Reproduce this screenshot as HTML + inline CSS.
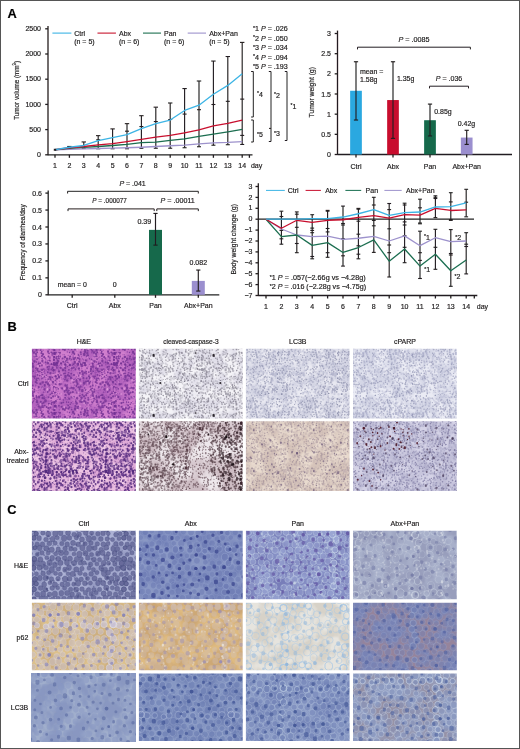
<!DOCTYPE html>
<html><head><meta charset="utf-8"><style>
html,body{margin:0;padding:0;background:#fff;}
body{width:520px;height:749px;overflow:hidden;position:relative;}
svg{position:absolute;left:0;top:0;font-family:"Liberation Sans", sans-serif;}
text{stroke:#1a1a1a;stroke-width:0.18px;}
</style></head><body>
<svg width="520" height="749" viewBox="0 0 520 749">
<defs>
<path id="ds" d="M25.9 33.6a1.2 1.2 0 1 0 2.4 0a1.2 1.2 0 1 0 -2.4 0M26.9 30.5a1.0 1.0 0 1 0 2.0 0a1.0 1.0 0 1 0 -2.0 0M10.0 30.7a1.0 1.0 0 1 0 2.1 0a1.0 1.0 0 1 0 -2.1 0M46.7 5.6a0.9 0.9 0 1 0 1.7 0a0.9 0.9 0 1 0 -1.7 0M4.4 48.6a1.1 1.1 0 1 0 2.2 0a1.1 1.1 0 1 0 -2.2 0M1.3 58.9a1.2 1.2 0 1 0 2.5 0a1.2 1.2 0 1 0 -2.5 0M1.3 -1.1a1.2 1.2 0 1 0 2.5 0a1.2 1.2 0 1 0 -2.5 0M38.4 36.9a0.8 0.8 0 1 0 1.6 0a0.8 0.8 0 1 0 -1.6 0M0.2 31.7a0.7 0.7 0 1 0 1.5 0a0.7 0.7 0 1 0 -1.5 0M10.7 14.5a0.7 0.7 0 1 0 1.4 0a0.7 0.7 0 1 0 -1.4 0M26.7 26.4a1.2 1.2 0 1 0 2.3 0a1.2 1.2 0 1 0 -2.3 0M30.2 38.4a1.0 1.0 0 1 0 1.9 0a1.0 1.0 0 1 0 -1.9 0M38.9 27.4a0.9 0.9 0 1 0 1.7 0a0.9 0.9 0 1 0 -1.7 0M58.7 59.7a1.2 1.2 0 1 0 2.3 0a1.2 1.2 0 1 0 -2.3 0M58.7 -0.3a1.2 1.2 0 1 0 2.3 0a1.2 1.2 0 1 0 -2.3 0M-1.3 59.7a1.2 1.2 0 1 0 2.3 0a1.2 1.2 0 1 0 -2.3 0M-1.3 -0.3a1.2 1.2 0 1 0 2.3 0a1.2 1.2 0 1 0 -2.3 0M41.6 18.9a0.8 0.8 0 1 0 1.7 0a0.8 0.8 0 1 0 -1.7 0M16.2 4.2a1.1 1.1 0 1 0 2.2 0a1.1 1.1 0 1 0 -2.2 0M23.1 50.8a0.9 0.9 0 1 0 1.8 0a0.9 0.9 0 1 0 -1.8 0M56.8 50.8a0.7 0.7 0 1 0 1.4 0a0.7 0.7 0 1 0 -1.4 0M11.6 54.6a1.0 1.0 0 1 0 1.9 0a1.0 1.0 0 1 0 -1.9 0M58.1 23.8a0.7 0.7 0 1 0 1.5 0a0.7 0.7 0 1 0 -1.5 0M36.9 46.7a0.8 0.8 0 1 0 1.7 0a0.8 0.8 0 1 0 -1.7 0M4.0 20.0a1.2 1.2 0 1 0 2.5 0a1.2 1.2 0 1 0 -2.5 0M44.6 7.1a0.8 0.8 0 1 0 1.7 0a0.8 0.8 0 1 0 -1.7 0M4.9 3.6a1.1 1.1 0 1 0 2.3 0a1.1 1.1 0 1 0 -2.3 0M9.7 33.6a0.9 0.9 0 1 0 1.9 0a0.9 0.9 0 1 0 -1.9 0M10.7 43.9a0.8 0.8 0 1 0 1.5 0a0.8 0.8 0 1 0 -1.5 0M37.7 7.0a0.9 0.9 0 1 0 1.9 0a0.9 0.9 0 1 0 -1.9 0M11.5 16.2a1.2 1.2 0 1 0 2.5 0a1.2 1.2 0 1 0 -2.5 0M47.0 18.2a1.2 1.2 0 1 0 2.4 0a1.2 1.2 0 1 0 -2.4 0M11.5 23.7a1.2 1.2 0 1 0 2.3 0a1.2 1.2 0 1 0 -2.3 0M19.0 17.8a0.7 0.7 0 1 0 1.5 0a0.7 0.7 0 1 0 -1.5 0M4.6 35.0a0.8 0.8 0 1 0 1.7 0a0.8 0.8 0 1 0 -1.7 0M35.1 22.3a0.9 0.9 0 1 0 1.9 0a0.9 0.9 0 1 0 -1.9 0M56.5 29.0a1.0 1.0 0 1 0 2.0 0a1.0 1.0 0 1 0 -2.0 0M51.2 11.0a0.8 0.8 0 1 0 1.6 0a0.8 0.8 0 1 0 -1.6 0M53.7 49.1a0.8 0.8 0 1 0 1.7 0a0.8 0.8 0 1 0 -1.7 0M10.6 57.0a1.2 1.2 0 1 0 2.4 0a1.2 1.2 0 1 0 -2.4 0M35.5 25.3a0.8 0.8 0 1 0 1.5 0a0.8 0.8 0 1 0 -1.5 0M41.1 15.4a1.2 1.2 0 1 0 2.3 0a1.2 1.2 0 1 0 -2.3 0M35.0 17.6a0.8 0.8 0 1 0 1.6 0a0.8 0.8 0 1 0 -1.6 0M42.4 4.1a0.8 0.8 0 1 0 1.7 0a0.8 0.8 0 1 0 -1.7 0M32.5 51.1a1.0 1.0 0 1 0 2.1 0a1.0 1.0 0 1 0 -2.1 0M16.0 55.0a0.8 0.8 0 1 0 1.6 0a0.8 0.8 0 1 0 -1.6 0M0.0 16.2a0.9 0.9 0 1 0 1.9 0a0.9 0.9 0 1 0 -1.9 0M2.7 10.6a0.9 0.9 0 1 0 1.8 0a0.9 0.9 0 1 0 -1.8 0M33.4 7.9a0.9 0.9 0 1 0 1.8 0a0.9 0.9 0 1 0 -1.8 0M52.4 58.8a1.1 1.1 0 1 0 2.1 0a1.1 1.1 0 1 0 -2.1 0M40.7 35.1a0.8 0.8 0 1 0 1.6 0a0.8 0.8 0 1 0 -1.6 0M0.9 1.1a1.2 1.2 0 1 0 2.4 0a1.2 1.2 0 1 0 -2.4 0M0.9 61.1a1.2 1.2 0 1 0 2.4 0a1.2 1.2 0 1 0 -2.4 0M41.3 57.8a0.7 0.7 0 1 0 1.4 0a0.7 0.7 0 1 0 -1.4 0M37.1 28.9a1.1 1.1 0 1 0 2.2 0a1.1 1.1 0 1 0 -2.2 0M18.4 60.0a0.7 0.7 0 1 0 1.5 0a0.7 0.7 0 1 0 -1.5 0M18.4 -0.0a0.7 0.7 0 1 0 1.5 0a0.7 0.7 0 1 0 -1.5 0M31.6 44.2a1.2 1.2 0 1 0 2.4 0a1.2 1.2 0 1 0 -2.4 0M43.1 42.2a1.1 1.1 0 1 0 2.3 0a1.1 1.1 0 1 0 -2.3 0M53.8 21.1a1.1 1.1 0 1 0 2.2 0a1.1 1.1 0 1 0 -2.2 0M53.1 52.3a0.9 0.9 0 1 0 1.9 0a0.9 0.9 0 1 0 -1.9 0M46.4 51.8a1.0 1.0 0 1 0 2.0 0a1.0 1.0 0 1 0 -2.0 0M35.5 4.8a1.1 1.1 0 1 0 2.1 0a1.1 1.1 0 1 0 -2.1 0M58.5 52.8a1.1 1.1 0 1 0 2.2 0a1.1 1.1 0 1 0 -2.2 0M-1.5 52.8a1.1 1.1 0 1 0 2.2 0a1.1 1.1 0 1 0 -2.2 0M22.3 44.1a1.0 1.0 0 1 0 2.0 0a1.0 1.0 0 1 0 -2.0 0M25.7 50.3a0.7 0.7 0 1 0 1.5 0a0.7 0.7 0 1 0 -1.5 0M44.0 1.8a1.0 1.0 0 1 0 2.1 0a1.0 1.0 0 1 0 -2.1 0M27.8 13.8a1.1 1.1 0 1 0 2.2 0a1.1 1.1 0 1 0 -2.2 0M28.6 36.9a1.2 1.2 0 1 0 2.4 0a1.2 1.2 0 1 0 -2.4 0M14.5 0.7a0.9 0.9 0 1 0 1.7 0a0.9 0.9 0 1 0 -1.7 0M14.5 60.7a0.9 0.9 0 1 0 1.7 0a0.9 0.9 0 1 0 -1.7 0M39.9 12.2a0.8 0.8 0 1 0 1.6 0a0.8 0.8 0 1 0 -1.6 0M53.4 39.6a0.9 0.9 0 1 0 1.9 0a0.9 0.9 0 1 0 -1.9 0M52.4 19.6a1.1 1.1 0 1 0 2.1 0a1.1 1.1 0 1 0 -2.1 0M10.8 25.9a1.1 1.1 0 1 0 2.3 0a1.1 1.1 0 1 0 -2.3 0M34.2 19.0a0.8 0.8 0 1 0 1.5 0a0.8 0.8 0 1 0 -1.5 0M28.6 50.2a1.2 1.2 0 1 0 2.3 0a1.2 1.2 0 1 0 -2.3 0M9.3 27.0a0.9 0.9 0 1 0 1.7 0a0.9 0.9 0 1 0 -1.7 0M28.5 18.9a1.2 1.2 0 1 0 2.3 0a1.2 1.2 0 1 0 -2.3 0M58.2 27.1a0.7 0.7 0 1 0 1.5 0a0.7 0.7 0 1 0 -1.5 0M1.2 52.4a0.7 0.7 0 1 0 1.4 0a0.7 0.7 0 1 0 -1.4 0M46.7 1.1a0.8 0.8 0 1 0 1.5 0a0.8 0.8 0 1 0 -1.5 0M26.1 1.5a1.2 1.2 0 1 0 2.3 0a1.2 1.2 0 1 0 -2.3 0M13.5 8.5a0.7 0.7 0 1 0 1.5 0a0.7 0.7 0 1 0 -1.5 0M36.7 26.8a1.0 1.0 0 1 0 2.1 0a1.0 1.0 0 1 0 -2.1 0M38.1 48.4a1.2 1.2 0 1 0 2.5 0a1.2 1.2 0 1 0 -2.5 0M9.8 0.6a1.0 1.0 0 1 0 1.9 0a1.0 1.0 0 1 0 -1.9 0M9.8 60.6a1.0 1.0 0 1 0 1.9 0a1.0 1.0 0 1 0 -1.9 0M42.0 10.7a0.8 0.8 0 1 0 1.7 0a0.8 0.8 0 1 0 -1.7 0M19.8 41.8a1.0 1.0 0 1 0 2.0 0a1.0 1.0 0 1 0 -2.0 0M36.0 45.4a0.9 0.9 0 1 0 1.8 0a0.9 0.9 0 1 0 -1.8 0M46.8 54.4a0.7 0.7 0 1 0 1.5 0a0.7 0.7 0 1 0 -1.5 0M55.2 43.3a0.8 0.8 0 1 0 1.5 0a0.8 0.8 0 1 0 -1.5 0M26.0 37.5a1.2 1.2 0 1 0 2.4 0a1.2 1.2 0 1 0 -2.4 0M21.4 34.1a1.2 1.2 0 1 0 2.4 0a1.2 1.2 0 1 0 -2.4 0M46.9 56.7a1.0 1.0 0 1 0 1.9 0a1.0 1.0 0 1 0 -1.9 0M38.0 12.3a1.1 1.1 0 1 0 2.2 0a1.1 1.1 0 1 0 -2.2 0M48.0 38.5a1.1 1.1 0 1 0 2.2 0a1.1 1.1 0 1 0 -2.2 0M57.5 32.2a1.1 1.1 0 1 0 2.3 0a1.1 1.1 0 1 0 -2.3 0M18.1 54.6a1.2 1.2 0 1 0 2.3 0a1.2 1.2 0 1 0 -2.3 0M20.0 5.0a0.9 0.9 0 1 0 1.9 0a0.9 0.9 0 1 0 -1.9 0M32.1 46.1a1.0 1.0 0 1 0 1.9 0a1.0 1.0 0 1 0 -1.9 0M1.0 48.5a0.7 0.7 0 1 0 1.5 0a0.7 0.7 0 1 0 -1.5 0M47.1 10.4a0.9 0.9 0 1 0 1.8 0a0.9 0.9 0 1 0 -1.8 0M46.5 8.4a0.8 0.8 0 1 0 1.6 0a0.8 0.8 0 1 0 -1.6 0M56.1 5.2a0.8 0.8 0 1 0 1.6 0a0.8 0.8 0 1 0 -1.6 0M30.5 17.4a1.1 1.1 0 1 0 2.2 0a1.1 1.1 0 1 0 -2.2 0M37.2 31.4a1.2 1.2 0 1 0 2.3 0a1.2 1.2 0 1 0 -2.3 0M49.9 54.0a0.8 0.8 0 1 0 1.6 0a0.8 0.8 0 1 0 -1.6 0M50.1 58.1a1.0 1.0 0 1 0 2.0 0a1.0 1.0 0 1 0 -2.0 0M33.4 12.1a1.0 1.0 0 1 0 2.0 0a1.0 1.0 0 1 0 -2.0 0M47.1 33.8a1.0 1.0 0 1 0 1.9 0a1.0 1.0 0 1 0 -1.9 0M40.5 4.0a1.0 1.0 0 1 0 2.0 0a1.0 1.0 0 1 0 -2.0 0M23.6 57.4a1.2 1.2 0 1 0 2.4 0a1.2 1.2 0 1 0 -2.4 0M15.4 28.4a0.8 0.8 0 1 0 1.5 0a0.8 0.8 0 1 0 -1.5 0M36.3 55.5a0.8 0.8 0 1 0 1.5 0a0.8 0.8 0 1 0 -1.5 0M12.8 41.2a0.9 0.9 0 1 0 1.8 0a0.9 0.9 0 1 0 -1.8 0M20.6 37.2a0.8 0.8 0 1 0 1.5 0a0.8 0.8 0 1 0 -1.5 0M42.9 7.4a1.0 1.0 0 1 0 2.0 0a1.0 1.0 0 1 0 -2.0 0M14.0 11.9a1.0 1.0 0 1 0 2.0 0a1.0 1.0 0 1 0 -2.0 0M25.3 22.5a0.9 0.9 0 1 0 1.9 0a0.9 0.9 0 1 0 -1.9 0M30.9 9.6a0.8 0.8 0 1 0 1.6 0a0.8 0.8 0 1 0 -1.6 0M36.9 38.3a1.0 1.0 0 1 0 2.0 0a1.0 1.0 0 1 0 -2.0 0M49.9 36.7a1.2 1.2 0 1 0 2.3 0a1.2 1.2 0 1 0 -2.3 0M12.8 44.4a1.1 1.1 0 1 0 2.3 0a1.1 1.1 0 1 0 -2.3 0M54.1 13.1a1.2 1.2 0 1 0 2.5 0a1.2 1.2 0 1 0 -2.5 0M52.4 8.0a0.8 0.8 0 1 0 1.7 0a0.8 0.8 0 1 0 -1.7 0M48.8 25.3a1.1 1.1 0 1 0 2.3 0a1.1 1.1 0 1 0 -2.3 0M6.5 24.2a1.1 1.1 0 1 0 2.2 0a1.1 1.1 0 1 0 -2.2 0M-0.0 12.1a1.1 1.1 0 1 0 2.2 0a1.1 1.1 0 1 0 -2.2 0M60.0 12.1a1.1 1.1 0 1 0 2.2 0a1.1 1.1 0 1 0 -2.2 0M29.4 45.5a1.0 1.0 0 1 0 2.0 0a1.0 1.0 0 1 0 -2.0 0M30.1 34.1a0.8 0.8 0 1 0 1.6 0a0.8 0.8 0 1 0 -1.6 0M9.9 12.2a1.2 1.2 0 1 0 2.3 0a1.2 1.2 0 1 0 -2.3 0M58.7 55.6a0.8 0.8 0 1 0 1.5 0a0.8 0.8 0 1 0 -1.5 0M-1.3 55.6a0.8 0.8 0 1 0 1.5 0a0.8 0.8 0 1 0 -1.5 0M2.8 57.1a1.0 1.0 0 1 0 1.9 0a1.0 1.0 0 1 0 -1.9 0M44.9 19.6a1.0 1.0 0 1 0 1.9 0a1.0 1.0 0 1 0 -1.9 0M29.9 25.8a1.0 1.0 0 1 0 2.1 0a1.0 1.0 0 1 0 -2.1 0M-0.4 42.1a1.2 1.2 0 1 0 2.3 0a1.2 1.2 0 1 0 -2.3 0M59.6 42.1a1.2 1.2 0 1 0 2.3 0a1.2 1.2 0 1 0 -2.3 0M23.5 11.7a0.8 0.8 0 1 0 1.6 0a0.8 0.8 0 1 0 -1.6 0M29.6 0.9a1.2 1.2 0 1 0 2.4 0a1.2 1.2 0 1 0 -2.4 0M29.6 60.9a1.2 1.2 0 1 0 2.4 0a1.2 1.2 0 1 0 -2.4 0M46.9 42.3a1.2 1.2 0 1 0 2.3 0a1.2 1.2 0 1 0 -2.3 0M36.7 24.3a1.0 1.0 0 1 0 2.1 0a1.0 1.0 0 1 0 -2.1 0M29.1 59.0a1.1 1.1 0 1 0 2.3 0a1.1 1.1 0 1 0 -2.3 0M29.1 -1.0a1.1 1.1 0 1 0 2.3 0a1.1 1.1 0 1 0 -2.3 0M45.8 48.9a0.9 0.9 0 1 0 1.8 0a0.9 0.9 0 1 0 -1.8 0M45.1 45.9a0.9 0.9 0 1 0 1.8 0a0.9 0.9 0 1 0 -1.8 0M55.8 40.0a0.9 0.9 0 1 0 1.8 0a0.9 0.9 0 1 0 -1.8 0M38.6 34.2a1.0 1.0 0 1 0 2.0 0a1.0 1.0 0 1 0 -2.0 0M22.3 60.0a1.1 1.1 0 1 0 2.1 0a1.1 1.1 0 1 0 -2.1 0M22.3 -0.0a1.1 1.1 0 1 0 2.1 0a1.1 1.1 0 1 0 -2.1 0M40.8 45.7a1.2 1.2 0 1 0 2.5 0a1.2 1.2 0 1 0 -2.5 0M0.3 36.9a1.1 1.1 0 1 0 2.2 0a1.1 1.1 0 1 0 -2.2 0M14.7 24.1a0.7 0.7 0 1 0 1.5 0a0.7 0.7 0 1 0 -1.5 0M14.1 54.3a1.0 1.0 0 1 0 2.0 0a1.0 1.0 0 1 0 -2.0 0M58.6 38.3a1.1 1.1 0 1 0 2.3 0a1.1 1.1 0 1 0 -2.3 0M-1.4 38.3a1.1 1.1 0 1 0 2.3 0a1.1 1.1 0 1 0 -2.3 0M1.9 55.8a0.8 0.8 0 1 0 1.6 0a0.8 0.8 0 1 0 -1.6 0M27.3 10.1a1.0 1.0 0 1 0 1.9 0a1.0 1.0 0 1 0 -1.9 0M24.2 31.6a1.0 1.0 0 1 0 2.1 0a1.0 1.0 0 1 0 -2.1 0M20.9 17.1a1.1 1.1 0 1 0 2.1 0a1.1 1.1 0 1 0 -2.1 0M32.5 17.0a1.1 1.1 0 1 0 2.2 0a1.1 1.1 0 1 0 -2.2 0M16.9 0.8a0.8 0.8 0 1 0 1.7 0a0.8 0.8 0 1 0 -1.7 0M22.3 53.9a1.1 1.1 0 1 0 2.2 0a1.1 1.1 0 1 0 -2.2 0M3.5 54.3a0.9 0.9 0 1 0 1.9 0a0.9 0.9 0 1 0 -1.9 0M27.8 58.4a0.8 0.8 0 1 0 1.7 0a0.8 0.8 0 1 0 -1.7 0M30.3 56.2a1.1 1.1 0 1 0 2.2 0a1.1 1.1 0 1 0 -2.2 0M35.2 6.9a1.0 1.0 0 1 0 2.1 0a1.0 1.0 0 1 0 -2.1 0M26.6 12.2a0.7 0.7 0 1 0 1.5 0a0.7 0.7 0 1 0 -1.5 0M30.7 7.5a0.9 0.9 0 1 0 1.9 0a0.9 0.9 0 1 0 -1.9 0M43.3 14.3a0.8 0.8 0 1 0 1.5 0a0.8 0.8 0 1 0 -1.5 0M52.5 47.1a1.0 1.0 0 1 0 2.1 0a1.0 1.0 0 1 0 -2.1 0M32.8 35.5a1.0 1.0 0 1 0 2.1 0a1.0 1.0 0 1 0 -2.1 0M44.4 11.4a0.8 0.8 0 1 0 1.7 0a0.8 0.8 0 1 0 -1.7 0M1.5 3.6a0.8 0.8 0 1 0 1.7 0a0.8 0.8 0 1 0 -1.7 0M24.8 37.4a0.8 0.8 0 1 0 1.5 0a0.8 0.8 0 1 0 -1.5 0M31.8 4.3a0.7 0.7 0 1 0 1.5 0a0.7 0.7 0 1 0 -1.5 0M21.6 28.7a0.8 0.8 0 1 0 1.6 0a0.8 0.8 0 1 0 -1.6 0M19.5 44.7a1.2 1.2 0 1 0 2.3 0a1.2 1.2 0 1 0 -2.3 0M3.3 7.2a1.1 1.1 0 1 0 2.3 0a1.1 1.1 0 1 0 -2.3 0M24.3 15.5a1.1 1.1 0 1 0 2.3 0a1.1 1.1 0 1 0 -2.3 0M20.9 39.2a1.2 1.2 0 1 0 2.5 0a1.2 1.2 0 1 0 -2.5 0M18.4 32.9a1.1 1.1 0 1 0 2.2 0a1.1 1.1 0 1 0 -2.2 0M54.3 25.7a0.9 0.9 0 1 0 1.8 0a0.9 0.9 0 1 0 -1.8 0M5.1 52.5a0.7 0.7 0 1 0 1.5 0a0.7 0.7 0 1 0 -1.5 0M40.0 17.9a1.1 1.1 0 1 0 2.3 0a1.1 1.1 0 1 0 -2.3 0M3.5 12.8a1.1 1.1 0 1 0 2.1 0a1.1 1.1 0 1 0 -2.1 0M6.0 42.6a1.0 1.0 0 1 0 2.0 0a1.0 1.0 0 1 0 -2.0 0M53.9 56.4a1.2 1.2 0 1 0 2.4 0a1.2 1.2 0 1 0 -2.4 0M25.4 48.2a0.9 0.9 0 1 0 1.7 0a0.9 0.9 0 1 0 -1.7 0M17.8 24.0a1.2 1.2 0 1 0 2.4 0a1.2 1.2 0 1 0 -2.4 0M52.8 14.9a0.9 0.9 0 1 0 1.8 0a0.9 0.9 0 1 0 -1.8 0M21.0 21.8a0.9 0.9 0 1 0 1.8 0a0.9 0.9 0 1 0 -1.8 0M52.1 16.9a0.7 0.7 0 1 0 1.4 0a0.7 0.7 0 1 0 -1.4 0M2.7 32.8a1.1 1.1 0 1 0 2.3 0a1.1 1.1 0 1 0 -2.3 0M52.9 5.1a1.0 1.0 0 1 0 2.1 0a1.0 1.0 0 1 0 -2.1 0M7.6 44.7a1.1 1.1 0 1 0 2.1 0a1.1 1.1 0 1 0 -2.1 0M19.2 58.1a1.1 1.1 0 1 0 2.1 0a1.1 1.1 0 1 0 -2.1 0M28.5 32.2a1.1 1.1 0 1 0 2.2 0a1.1 1.1 0 1 0 -2.2 0M41.6 54.9a0.9 0.9 0 1 0 1.9 0a0.9 0.9 0 1 0 -1.9 0M47.2 50.0a1.2 1.2 0 1 0 2.4 0a1.2 1.2 0 1 0 -2.4 0M56.5 38.4a1.0 1.0 0 1 0 2.0 0a1.0 1.0 0 1 0 -2.0 0M41.7 48.1a0.9 0.9 0 1 0 1.9 0a0.9 0.9 0 1 0 -1.9 0M24.1 8.8a1.1 1.1 0 1 0 2.2 0a1.1 1.1 0 1 0 -2.2 0M58.7 22.5a0.8 0.8 0 1 0 1.6 0a0.8 0.8 0 1 0 -1.6 0M-1.3 22.5a0.8 0.8 0 1 0 1.6 0a0.8 0.8 0 1 0 -1.6 0M57.3 3.6a0.9 0.9 0 1 0 1.7 0a0.9 0.9 0 1 0 -1.7 0M5.8 38.9a1.1 1.1 0 1 0 2.3 0a1.1 1.1 0 1 0 -2.3 0M9.8 3.7a1.0 1.0 0 1 0 1.9 0a1.0 1.0 0 1 0 -1.9 0M34.3 54.6a0.7 0.7 0 1 0 1.4 0a0.7 0.7 0 1 0 -1.4 0M5.7 11.1a0.8 0.8 0 1 0 1.6 0a0.8 0.8 0 1 0 -1.6 0M12.6 11.1a0.9 0.9 0 1 0 1.7 0a0.9 0.9 0 1 0 -1.7 0M9.5 45.5a0.9 0.9 0 1 0 1.7 0a0.9 0.9 0 1 0 -1.7 0M31.9 49.0a1.0 1.0 0 1 0 1.9 0a1.0 1.0 0 1 0 -1.9 0M55.9 48.1a0.9 0.9 0 1 0 1.8 0a0.9 0.9 0 1 0 -1.8 0M30.8 30.9a0.9 0.9 0 1 0 1.7 0a0.9 0.9 0 1 0 -1.7 0M-0.3 28.4a0.9 0.9 0 1 0 1.8 0a0.9 0.9 0 1 0 -1.8 0M59.7 28.4a0.9 0.9 0 1 0 1.8 0a0.9 0.9 0 1 0 -1.8 0M8.6 9.4a0.9 0.9 0 1 0 1.8 0a0.9 0.9 0 1 0 -1.8 0M14.6 52.2a1.0 1.0 0 1 0 2.0 0a1.0 1.0 0 1 0 -2.0 0M37.4 59.6a0.8 0.8 0 1 0 1.7 0a0.8 0.8 0 1 0 -1.7 0M37.4 -0.4a0.8 0.8 0 1 0 1.7 0a0.8 0.8 0 1 0 -1.7 0M-1.1 49.3a1.2 1.2 0 1 0 2.3 0a1.2 1.2 0 1 0 -2.3 0M58.9 49.3a1.2 1.2 0 1 0 2.3 0a1.2 1.2 0 1 0 -2.3 0M48.5 4.9a0.8 0.8 0 1 0 1.7 0a0.8 0.8 0 1 0 -1.7 0M42.0 5.8a1.0 1.0 0 1 0 1.9 0a1.0 1.0 0 1 0 -1.9 0M50.3 18.2a1.1 1.1 0 1 0 2.3 0a1.1 1.1 0 1 0 -2.3 0M24.3 55.0a0.8 0.8 0 1 0 1.5 0a0.8 0.8 0 1 0 -1.5 0M48.6 12.5a1.0 1.0 0 1 0 2.0 0a1.0 1.0 0 1 0 -2.0 0M17.9 18.6a0.7 0.7 0 1 0 1.5 0a0.7 0.7 0 1 0 -1.5 0M17.2 28.0a1.1 1.1 0 1 0 2.2 0a1.1 1.1 0 1 0 -2.2 0M21.8 42.6a0.8 0.8 0 1 0 1.7 0a0.8 0.8 0 1 0 -1.7 0M33.1 27.5a0.7 0.7 0 1 0 1.4 0a0.7 0.7 0 1 0 -1.4 0M55.6 33.8a1.1 1.1 0 1 0 2.2 0a1.1 1.1 0 1 0 -2.2 0M19.1 49.6a0.8 0.8 0 1 0 1.5 0a0.8 0.8 0 1 0 -1.5 0M7.4 5.7a1.1 1.1 0 1 0 2.1 0a1.1 1.1 0 1 0 -2.1 0M23.2 4.4a1.2 1.2 0 1 0 2.4 0a1.2 1.2 0 1 0 -2.4 0M46.3 39.6a1.0 1.0 0 1 0 2.1 0a1.0 1.0 0 1 0 -2.1 0M0.2 19.9a0.9 0.9 0 1 0 1.8 0a0.9 0.9 0 1 0 -1.8 0M29.4 47.3a1.2 1.2 0 1 0 2.3 0a1.2 1.2 0 1 0 -2.3 0M35.6 9.5a1.1 1.1 0 1 0 2.2 0a1.1 1.1 0 1 0 -2.2 0M53.3 32.9a0.9 0.9 0 1 0 1.8 0a0.9 0.9 0 1 0 -1.8 0M28.9 8.5a1.1 1.1 0 1 0 2.2 0a1.1 1.1 0 1 0 -2.2 0M13.6 34.6a1.1 1.1 0 1 0 2.2 0a1.1 1.1 0 1 0 -2.2 0M26.5 7.4a1.2 1.2 0 1 0 2.5 0a1.2 1.2 0 1 0 -2.5 0M7.1 54.2a1.0 1.0 0 1 0 2.0 0a1.0 1.0 0 1 0 -2.0 0M32.8 33.6a0.8 0.8 0 1 0 1.7 0a0.8 0.8 0 1 0 -1.7 0M43.2 22.9a1.0 1.0 0 1 0 2.1 0a1.0 1.0 0 1 0 -2.1 0M37.4 2.3a1.1 1.1 0 1 0 2.1 0a1.1 1.1 0 1 0 -2.1 0M7.7 57.6a1.0 1.0 0 1 0 2.1 0a1.0 1.0 0 1 0 -2.1 0M18.1 3.3a1.1 1.1 0 1 0 2.2 0a1.1 1.1 0 1 0 -2.2 0M53.0 43.9a1.0 1.0 0 1 0 2.1 0a1.0 1.0 0 1 0 -2.1 0M29.4 23.8a0.7 0.7 0 1 0 1.5 0a0.7 0.7 0 1 0 -1.5 0M40.9 31.6a0.8 0.8 0 1 0 1.7 0a0.8 0.8 0 1 0 -1.7 0M39.0 52.0a0.9 0.9 0 1 0 1.9 0a0.9 0.9 0 1 0 -1.9 0M56.2 0.0a0.8 0.8 0 1 0 1.7 0a0.8 0.8 0 1 0 -1.7 0M56.2 60.0a0.8 0.8 0 1 0 1.7 0a0.8 0.8 0 1 0 -1.7 0M1.0 53.9a0.9 0.9 0 1 0 1.7 0a0.9 0.9 0 1 0 -1.7 0M54.6 53.8a0.8 0.8 0 1 0 1.6 0a0.8 0.8 0 1 0 -1.6 0M49.3 21.2a1.0 1.0 0 1 0 1.9 0a1.0 1.0 0 1 0 -1.9 0M9.1 52.8a1.2 1.2 0 1 0 2.5 0a1.2 1.2 0 1 0 -2.5 0M11.3 37.9a0.8 0.8 0 1 0 1.6 0a0.8 0.8 0 1 0 -1.6 0M52.1 3.0a0.8 0.8 0 1 0 1.5 0a0.8 0.8 0 1 0 -1.5 0M51.4 42.8a0.8 0.8 0 1 0 1.5 0a0.8 0.8 0 1 0 -1.5 0M34.5 13.7a0.9 0.9 0 1 0 1.7 0a0.9 0.9 0 1 0 -1.7 0M14.3 48.2a0.7 0.7 0 1 0 1.5 0a0.7 0.7 0 1 0 -1.5 0M16.3 45.3a0.8 0.8 0 1 0 1.7 0a0.8 0.8 0 1 0 -1.7 0M15.9 32.9a0.8 0.8 0 1 0 1.6 0a0.8 0.8 0 1 0 -1.6 0M26.8 45.0a0.9 0.9 0 1 0 1.8 0a0.9 0.9 0 1 0 -1.8 0M55.0 30.0a0.8 0.8 0 1 0 1.6 0a0.8 0.8 0 1 0 -1.6 0M32.5 38.7a0.9 0.9 0 1 0 1.8 0a0.9 0.9 0 1 0 -1.8 0M13.0 26.4a1.1 1.1 0 1 0 2.3 0a1.1 1.1 0 1 0 -2.3 0M46.4 47.5a0.8 0.8 0 1 0 1.7 0a0.8 0.8 0 1 0 -1.7 0M10.1 9.1a0.7 0.7 0 1 0 1.4 0a0.7 0.7 0 1 0 -1.4 0M46.7 14.3a0.8 0.8 0 1 0 1.6 0a0.8 0.8 0 1 0 -1.6 0M9.5 15.3a0.8 0.8 0 1 0 1.6 0a0.8 0.8 0 1 0 -1.6 0M40.3 49.9a1.1 1.1 0 1 0 2.3 0a1.1 1.1 0 1 0 -2.3 0M2.8 24.6a0.9 0.9 0 1 0 1.8 0a0.9 0.9 0 1 0 -1.8 0M12.3 58.2a0.7 0.7 0 1 0 1.4 0a0.7 0.7 0 1 0 -1.4 0M1.2 14.4a1.2 1.2 0 1 0 2.4 0a1.2 1.2 0 1 0 -2.4 0M58.7 45.8a1.1 1.1 0 1 0 2.2 0a1.1 1.1 0 1 0 -2.2 0M-1.3 45.8a1.1 1.1 0 1 0 2.2 0a1.1 1.1 0 1 0 -2.2 0M35.7 2.4a0.9 0.9 0 1 0 1.8 0a0.9 0.9 0 1 0 -1.8 0M40.7 51.9a1.0 1.0 0 1 0 2.0 0a1.0 1.0 0 1 0 -2.0 0M52.3 27.8a0.9 0.9 0 1 0 1.8 0a0.9 0.9 0 1 0 -1.8 0M12.1 20.8a0.8 0.8 0 1 0 1.6 0a0.8 0.8 0 1 0 -1.6 0M12.0 28.1a0.9 0.9 0 1 0 1.7 0a0.9 0.9 0 1 0 -1.7 0M25.8 59.6a1.1 1.1 0 1 0 2.1 0a1.1 1.1 0 1 0 -2.1 0M25.8 -0.4a1.1 1.1 0 1 0 2.1 0a1.1 1.1 0 1 0 -2.1 0M3.5 41.5a0.9 0.9 0 1 0 1.8 0a0.9 0.9 0 1 0 -1.8 0M44.7 43.4a1.2 1.2 0 1 0 2.4 0a1.2 1.2 0 1 0 -2.4 0M45.5 31.2a0.7 0.7 0 1 0 1.5 0a0.7 0.7 0 1 0 -1.5 0M22.9 14.3a0.7 0.7 0 1 0 1.4 0a0.7 0.7 0 1 0 -1.4 0M8.3 35.7a0.7 0.7 0 1 0 1.4 0a0.7 0.7 0 1 0 -1.4 0M42.7 40.0a0.8 0.8 0 1 0 1.6 0a0.8 0.8 0 1 0 -1.6 0M23.1 23.2a1.2 1.2 0 1 0 2.4 0a1.2 1.2 0 1 0 -2.4 0M12.2 2.4a0.7 0.7 0 1 0 1.4 0a0.7 0.7 0 1 0 -1.4 0M57.5 17.9a1.1 1.1 0 1 0 2.1 0a1.1 1.1 0 1 0 -2.1 0M38.8 57.3a1.2 1.2 0 1 0 2.4 0a1.2 1.2 0 1 0 -2.4 0M13.3 38.0a0.7 0.7 0 1 0 1.5 0a0.7 0.7 0 1 0 -1.5 0M22.0 19.7a1.0 1.0 0 1 0 1.9 0a1.0 1.0 0 1 0 -1.9 0M15.9 9.5a0.9 0.9 0 1 0 1.8 0a0.9 0.9 0 1 0 -1.8 0M13.5 5.6a0.9 0.9 0 1 0 1.8 0a0.9 0.9 0 1 0 -1.8 0M41.0 33.2a1.1 1.1 0 1 0 2.2 0a1.1 1.1 0 1 0 -2.2 0M0.5 23.5a0.9 0.9 0 1 0 1.8 0a0.9 0.9 0 1 0 -1.8 0M18.8 15.2a0.7 0.7 0 1 0 1.4 0a0.7 0.7 0 1 0 -1.4 0M19.8 53.5a1.0 1.0 0 1 0 2.0 0a1.0 1.0 0 1 0 -2.0 0M14.9 40.1a0.8 0.8 0 1 0 1.6 0a0.8 0.8 0 1 0 -1.6 0M45.2 37.6a1.0 1.0 0 1 0 2.1 0a1.0 1.0 0 1 0 -2.1 0M23.8 24.9a0.9 0.9 0 1 0 1.7 0a0.9 0.9 0 1 0 -1.7 0M48.9 52.8a0.9 0.9 0 1 0 1.8 0a0.9 0.9 0 1 0 -1.8 0M53.8 2.3a0.8 0.8 0 1 0 1.5 0a0.8 0.8 0 1 0 -1.5 0M57.8 9.0a0.8 0.8 0 1 0 1.6 0a0.8 0.8 0 1 0 -1.6 0M13.3 29.6a1.1 1.1 0 1 0 2.1 0a1.1 1.1 0 1 0 -2.1 0M57.0 49.5a0.8 0.8 0 1 0 1.6 0a0.8 0.8 0 1 0 -1.6 0M31.2 14.2a0.8 0.8 0 1 0 1.7 0a0.8 0.8 0 1 0 -1.7 0M18.5 10.7a1.0 1.0 0 1 0 2.0 0a1.0 1.0 0 1 0 -2.0 0M46.7 23.5a1.1 1.1 0 1 0 2.2 0a1.1 1.1 0 1 0 -2.2 0M14.2 42.9a0.9 0.9 0 1 0 1.8 0a0.9 0.9 0 1 0 -1.8 0M48.8 34.0a0.9 0.9 0 1 0 1.9 0a0.9 0.9 0 1 0 -1.9 0M41.3 37.4a1.2 1.2 0 1 0 2.3 0a1.2 1.2 0 1 0 -2.3 0M39.4 13.9a0.8 0.8 0 1 0 1.6 0a0.8 0.8 0 1 0 -1.6 0M6.5 19.8a0.7 0.7 0 1 0 1.4 0a0.7 0.7 0 1 0 -1.4 0M31.6 29.0a0.9 0.9 0 1 0 1.8 0a0.9 0.9 0 1 0 -1.8 0M17.4 48.0a1.2 1.2 0 1 0 2.3 0a1.2 1.2 0 1 0 -2.3 0M16.0 23.5a1.0 1.0 0 1 0 2.1 0a1.0 1.0 0 1 0 -2.1 0M45.0 58.9a0.9 0.9 0 1 0 1.8 0a0.9 0.9 0 1 0 -1.8 0M55.0 15.1a1.0 1.0 0 1 0 1.9 0a1.0 1.0 0 1 0 -1.9 0M15.5 13.7a1.0 1.0 0 1 0 1.9 0a1.0 1.0 0 1 0 -1.9 0M21.2 15.6a0.7 0.7 0 1 0 1.5 0a0.7 0.7 0 1 0 -1.5 0M57.9 6.1a1.2 1.2 0 1 0 2.4 0a1.2 1.2 0 1 0 -2.4 0M-2.1 6.1a1.2 1.2 0 1 0 2.4 0a1.2 1.2 0 1 0 -2.4 0M23.3 42.3a0.8 0.8 0 1 0 1.7 0a0.8 0.8 0 1 0 -1.7 0M37.4 21.2a0.9 0.9 0 1 0 1.7 0a0.9 0.9 0 1 0 -1.7 0M43.5 32.8a1.1 1.1 0 1 0 2.1 0a1.1 1.1 0 1 0 -2.1 0M9.9 6.3a0.8 0.8 0 1 0 1.6 0a0.8 0.8 0 1 0 -1.6 0M20.3 25.8a0.7 0.7 0 1 0 1.4 0a0.7 0.7 0 1 0 -1.4 0M5.6 59.3a0.9 0.9 0 1 0 1.9 0a0.9 0.9 0 1 0 -1.9 0M5.6 -0.7a0.9 0.9 0 1 0 1.9 0a0.9 0.9 0 1 0 -1.9 0M56.8 13.2a0.9 0.9 0 1 0 1.8 0a0.9 0.9 0 1 0 -1.8 0M9.8 21.4a1.2 1.2 0 1 0 2.5 0a1.2 1.2 0 1 0 -2.5 0M8.0 38.1a0.9 0.9 0 1 0 1.8 0a0.9 0.9 0 1 0 -1.8 0M49.3 41.4a0.9 0.9 0 1 0 1.9 0a0.9 0.9 0 1 0 -1.9 0M39.0 25.2a0.9 0.9 0 1 0 1.8 0a0.9 0.9 0 1 0 -1.8 0M25.8 35.6a1.0 1.0 0 1 0 2.1 0a1.0 1.0 0 1 0 -2.1 0M54.9 9.1a1.0 1.0 0 1 0 1.9 0a1.0 1.0 0 1 0 -1.9 0M43.3 59.4a0.9 0.9 0 1 0 1.8 0a0.9 0.9 0 1 0 -1.8 0M43.3 -0.6a0.9 0.9 0 1 0 1.8 0a0.9 0.9 0 1 0 -1.8 0M46.6 30.7a1.2 1.2 0 1 0 2.5 0a1.2 1.2 0 1 0 -2.5 0M2.8 52.2a1.1 1.1 0 1 0 2.2 0a1.1 1.1 0 1 0 -2.2 0M31.4 51.9a0.8 0.8 0 1 0 1.6 0a0.8 0.8 0 1 0 -1.6 0M16.0 38.6a0.7 0.7 0 1 0 1.5 0a0.7 0.7 0 1 0 -1.5 0"/>
<path id="cp" d="M87.4 0.1a2.6 2.6 0 1 0 5.1 0a2.6 2.6 0 1 0 -5.1 0M87.4 90.1a2.6 2.6 0 1 0 5.1 0a2.6 2.6 0 1 0 -5.1 0M-2.6 0.1a2.6 2.6 0 1 0 5.1 0a2.6 2.6 0 1 0 -5.1 0M-2.6 90.1a2.6 2.6 0 1 0 5.1 0a2.6 2.6 0 1 0 -5.1 0M3.1 89.6a2.5 2.5 0 1 0 5.0 0a2.5 2.5 0 1 0 -5.0 0M3.1 -0.4a2.5 2.5 0 1 0 5.0 0a2.5 2.5 0 1 0 -5.0 0M9.7 89.7a2.3 2.3 0 1 0 4.6 0a2.3 2.3 0 1 0 -4.6 0M9.7 -0.3a2.3 2.3 0 1 0 4.6 0a2.3 2.3 0 1 0 -4.6 0M15.2 89.3a2.4 2.4 0 1 0 4.9 0a2.4 2.4 0 1 0 -4.9 0M15.2 -0.7a2.4 2.4 0 1 0 4.9 0a2.4 2.4 0 1 0 -4.9 0M22.4 0.4a2.4 2.4 0 1 0 4.9 0a2.4 2.4 0 1 0 -4.9 0M22.4 90.4a2.4 2.4 0 1 0 4.9 0a2.4 2.4 0 1 0 -4.9 0M27.5 89.9a2.1 2.1 0 1 0 4.2 0a2.1 2.1 0 1 0 -4.2 0M27.5 -0.1a2.1 2.1 0 1 0 4.2 0a2.1 2.1 0 1 0 -4.2 0M34.3 89.6a2.2 2.2 0 1 0 4.4 0a2.2 2.2 0 1 0 -4.4 0M34.3 -0.4a2.2 2.2 0 1 0 4.4 0a2.2 2.2 0 1 0 -4.4 0M40.4 89.6a2.7 2.7 0 1 0 5.4 0a2.7 2.7 0 1 0 -5.4 0M40.4 -0.4a2.7 2.7 0 1 0 5.4 0a2.7 2.7 0 1 0 -5.4 0M45.8 0.6a2.4 2.4 0 1 0 4.9 0a2.4 2.4 0 1 0 -4.9 0M45.8 90.6a2.4 2.4 0 1 0 4.9 0a2.4 2.4 0 1 0 -4.9 0M51.1 0.5a2.2 2.2 0 1 0 4.4 0a2.2 2.2 0 1 0 -4.4 0M51.1 90.5a2.2 2.2 0 1 0 4.4 0a2.2 2.2 0 1 0 -4.4 0M57.8 89.2a2.0 2.0 0 1 0 4.1 0a2.0 2.0 0 1 0 -4.1 0M57.8 -0.8a2.0 2.0 0 1 0 4.1 0a2.0 2.0 0 1 0 -4.1 0M63.4 88.9a2.3 2.3 0 1 0 4.5 0a2.3 2.3 0 1 0 -4.5 0M63.4 -1.1a2.3 2.3 0 1 0 4.5 0a2.3 2.3 0 1 0 -4.5 0M70.5 1.1a2.3 2.3 0 1 0 4.6 0a2.3 2.3 0 1 0 -4.6 0M70.5 91.1a2.3 2.3 0 1 0 4.6 0a2.3 2.3 0 1 0 -4.6 0M75.1 89.7a2.0 2.0 0 1 0 4.1 0a2.0 2.0 0 1 0 -4.1 0M75.1 -0.3a2.0 2.0 0 1 0 4.1 0a2.0 2.0 0 1 0 -4.1 0M80.9 0.3a2.4 2.4 0 1 0 4.9 0a2.4 2.4 0 1 0 -4.9 0M80.9 90.3a2.4 2.4 0 1 0 4.9 0a2.4 2.4 0 1 0 -4.9 0M-0.3 5.0a2.3 2.3 0 1 0 4.6 0a2.3 2.3 0 1 0 -4.6 0M89.7 5.0a2.3 2.3 0 1 0 4.6 0a2.3 2.3 0 1 0 -4.6 0M6.5 4.2a2.3 2.3 0 1 0 4.6 0a2.3 2.3 0 1 0 -4.6 0M11.7 5.4a2.5 2.5 0 1 0 4.9 0a2.5 2.5 0 1 0 -4.9 0M18.6 4.8a2.7 2.7 0 1 0 5.3 0a2.7 2.7 0 1 0 -5.3 0M24.4 4.3a2.3 2.3 0 1 0 4.5 0a2.3 2.3 0 1 0 -4.5 0M31.4 4.2a2.5 2.5 0 1 0 5.1 0a2.5 2.5 0 1 0 -5.1 0M37.6 5.8a2.3 2.3 0 1 0 4.7 0a2.3 2.3 0 1 0 -4.7 0M42.4 5.8a2.5 2.5 0 1 0 5.0 0a2.5 2.5 0 1 0 -5.0 0M49.2 4.3a2.4 2.4 0 1 0 4.9 0a2.4 2.4 0 1 0 -4.9 0M55.4 4.4a2.1 2.1 0 1 0 4.3 0a2.1 2.1 0 1 0 -4.3 0M61.5 5.1a2.3 2.3 0 1 0 4.6 0a2.3 2.3 0 1 0 -4.6 0M66.8 4.5a2.2 2.2 0 1 0 4.3 0a2.2 2.2 0 1 0 -4.3 0M72.0 4.8a2.1 2.1 0 1 0 4.2 0a2.1 2.1 0 1 0 -4.2 0M79.5 6.0a2.4 2.4 0 1 0 4.8 0a2.4 2.4 0 1 0 -4.8 0M84.0 5.2a2.1 2.1 0 1 0 4.2 0a2.1 2.1 0 1 0 -4.2 0M87.4 9.2a2.3 2.3 0 1 0 4.7 0a2.3 2.3 0 1 0 -4.7 0M-2.6 9.2a2.3 2.3 0 1 0 4.7 0a2.3 2.3 0 1 0 -4.7 0M2.9 9.5a2.2 2.2 0 1 0 4.3 0a2.2 2.2 0 1 0 -4.3 0M9.5 10.9a2.4 2.4 0 1 0 4.8 0a2.4 2.4 0 1 0 -4.8 0M16.2 10.5a2.4 2.4 0 1 0 4.7 0a2.4 2.4 0 1 0 -4.7 0M21.0 9.0a2.1 2.1 0 1 0 4.2 0a2.1 2.1 0 1 0 -4.2 0M27.4 9.6a2.7 2.7 0 1 0 5.3 0a2.7 2.7 0 1 0 -5.3 0M32.9 9.2a2.4 2.4 0 1 0 4.9 0a2.4 2.4 0 1 0 -4.9 0M40.0 9.0a2.2 2.2 0 1 0 4.5 0a2.2 2.2 0 1 0 -4.5 0M45.3 10.7a2.5 2.5 0 1 0 5.1 0a2.5 2.5 0 1 0 -5.1 0M52.2 10.1a2.7 2.7 0 1 0 5.3 0a2.7 2.7 0 1 0 -5.3 0M57.8 9.5a2.1 2.1 0 1 0 4.2 0a2.1 2.1 0 1 0 -4.2 0M64.3 10.3a2.4 2.4 0 1 0 4.9 0a2.4 2.4 0 1 0 -4.9 0M70.8 10.3a2.2 2.2 0 1 0 4.4 0a2.2 2.2 0 1 0 -4.4 0M76.3 10.9a2.1 2.1 0 1 0 4.2 0a2.1 2.1 0 1 0 -4.2 0M82.9 9.8a2.1 2.1 0 1 0 4.2 0a2.1 2.1 0 1 0 -4.2 0M0.7 15.6a2.3 2.3 0 1 0 4.7 0a2.3 2.3 0 1 0 -4.7 0M6.4 15.6a2.1 2.1 0 1 0 4.1 0a2.1 2.1 0 1 0 -4.1 0M12.9 14.7a2.4 2.4 0 1 0 4.9 0a2.4 2.4 0 1 0 -4.9 0M18.9 14.5a2.1 2.1 0 1 0 4.3 0a2.1 2.1 0 1 0 -4.3 0M25.5 14.9a2.2 2.2 0 1 0 4.4 0a2.2 2.2 0 1 0 -4.4 0M31.1 15.6a2.1 2.1 0 1 0 4.1 0a2.1 2.1 0 1 0 -4.1 0M36.4 14.2a2.5 2.5 0 1 0 5.1 0a2.5 2.5 0 1 0 -5.1 0M41.6 15.7a2.4 2.4 0 1 0 4.8 0a2.4 2.4 0 1 0 -4.8 0M48.8 15.1a2.2 2.2 0 1 0 4.4 0a2.2 2.2 0 1 0 -4.4 0M54.6 14.3a2.2 2.2 0 1 0 4.5 0a2.2 2.2 0 1 0 -4.5 0M61.0 15.2a2.2 2.2 0 1 0 4.5 0a2.2 2.2 0 1 0 -4.5 0M66.7 15.6a2.5 2.5 0 1 0 5.1 0a2.5 2.5 0 1 0 -5.1 0M71.8 15.0a2.1 2.1 0 1 0 4.2 0a2.1 2.1 0 1 0 -4.2 0M79.4 15.2a2.3 2.3 0 1 0 4.6 0a2.3 2.3 0 1 0 -4.6 0M85.1 15.0a2.1 2.1 0 1 0 4.3 0a2.1 2.1 0 1 0 -4.3 0M-1.1 19.0a2.0 2.0 0 1 0 4.0 0a2.0 2.0 0 1 0 -4.0 0M88.9 19.0a2.0 2.0 0 1 0 4.0 0a2.0 2.0 0 1 0 -4.0 0M3.3 19.2a2.3 2.3 0 1 0 4.5 0a2.3 2.3 0 1 0 -4.5 0M9.6 19.8a2.7 2.7 0 1 0 5.4 0a2.7 2.7 0 1 0 -5.4 0M14.9 21.0a2.7 2.7 0 1 0 5.4 0a2.7 2.7 0 1 0 -5.4 0M22.1 20.7a2.1 2.1 0 1 0 4.1 0a2.1 2.1 0 1 0 -4.1 0M28.7 19.9a2.2 2.2 0 1 0 4.5 0a2.2 2.2 0 1 0 -4.5 0M34.9 19.8a2.1 2.1 0 1 0 4.1 0a2.1 2.1 0 1 0 -4.1 0M38.8 20.7a2.1 2.1 0 1 0 4.3 0a2.1 2.1 0 1 0 -4.3 0M45.7 19.1a2.6 2.6 0 1 0 5.1 0a2.6 2.6 0 1 0 -5.1 0M52.5 19.7a2.6 2.6 0 1 0 5.1 0a2.6 2.6 0 1 0 -5.1 0M58.5 19.4a2.3 2.3 0 1 0 4.7 0a2.3 2.3 0 1 0 -4.7 0M64.7 21.0a2.4 2.4 0 1 0 4.8 0a2.4 2.4 0 1 0 -4.8 0M69.5 18.9a2.6 2.6 0 1 0 5.2 0a2.6 2.6 0 1 0 -5.2 0M76.8 20.1a2.2 2.2 0 1 0 4.3 0a2.2 2.2 0 1 0 -4.3 0M80.7 20.3a2.5 2.5 0 1 0 5.0 0a2.5 2.5 0 1 0 -5.0 0M1.2 25.7a2.0 2.0 0 1 0 4.0 0a2.0 2.0 0 1 0 -4.0 0M5.7 24.1a2.2 2.2 0 1 0 4.4 0a2.2 2.2 0 1 0 -4.4 0M11.9 24.4a2.1 2.1 0 1 0 4.3 0a2.1 2.1 0 1 0 -4.3 0M19.5 25.1a2.1 2.1 0 1 0 4.3 0a2.1 2.1 0 1 0 -4.3 0M24.3 24.2a2.7 2.7 0 1 0 5.4 0a2.7 2.7 0 1 0 -5.4 0M29.7 24.4a2.4 2.4 0 1 0 4.8 0a2.4 2.4 0 1 0 -4.8 0M37.8 25.3a2.1 2.1 0 1 0 4.2 0a2.1 2.1 0 1 0 -4.2 0M42.6 25.5a2.7 2.7 0 1 0 5.3 0a2.7 2.7 0 1 0 -5.3 0M48.7 24.5a2.6 2.6 0 1 0 5.2 0a2.6 2.6 0 1 0 -5.2 0M55.3 25.9a2.1 2.1 0 1 0 4.3 0a2.1 2.1 0 1 0 -4.3 0M61.6 25.0a2.2 2.2 0 1 0 4.3 0a2.2 2.2 0 1 0 -4.3 0M65.8 24.1a2.6 2.6 0 1 0 5.3 0a2.6 2.6 0 1 0 -5.3 0M72.0 25.3a2.2 2.2 0 1 0 4.4 0a2.2 2.2 0 1 0 -4.4 0M77.9 24.7a2.6 2.6 0 1 0 5.2 0a2.6 2.6 0 1 0 -5.2 0M83.8 24.8a2.2 2.2 0 1 0 4.5 0a2.2 2.2 0 1 0 -4.5 0M87.4 30.3a2.6 2.6 0 1 0 5.2 0a2.6 2.6 0 1 0 -5.2 0M-2.6 30.3a2.6 2.6 0 1 0 5.2 0a2.6 2.6 0 1 0 -5.2 0M3.7 30.8a2.6 2.6 0 1 0 5.2 0a2.6 2.6 0 1 0 -5.2 0M10.6 29.0a2.0 2.0 0 1 0 4.1 0a2.0 2.0 0 1 0 -4.1 0M15.8 29.3a2.3 2.3 0 1 0 4.5 0a2.3 2.3 0 1 0 -4.5 0M21.5 30.1a2.5 2.5 0 1 0 5.1 0a2.5 2.5 0 1 0 -5.1 0M28.2 29.4a2.4 2.4 0 1 0 4.8 0a2.4 2.4 0 1 0 -4.8 0M33.4 29.9a2.5 2.5 0 1 0 5.0 0a2.5 2.5 0 1 0 -5.0 0M40.2 30.5a2.3 2.3 0 1 0 4.5 0a2.3 2.3 0 1 0 -4.5 0M44.9 30.2a2.2 2.2 0 1 0 4.4 0a2.2 2.2 0 1 0 -4.4 0M51.5 29.1a2.1 2.1 0 1 0 4.1 0a2.1 2.1 0 1 0 -4.1 0M57.4 31.0a2.4 2.4 0 1 0 4.9 0a2.4 2.4 0 1 0 -4.9 0M63.3 31.0a2.1 2.1 0 1 0 4.3 0a2.1 2.1 0 1 0 -4.3 0M69.7 29.1a2.7 2.7 0 1 0 5.3 0a2.7 2.7 0 1 0 -5.3 0M76.6 30.7a2.3 2.3 0 1 0 4.5 0a2.3 2.3 0 1 0 -4.5 0M81.2 30.0a2.6 2.6 0 1 0 5.3 0a2.6 2.6 0 1 0 -5.3 0M0.5 34.4a2.6 2.6 0 1 0 5.3 0a2.6 2.6 0 1 0 -5.3 0M6.2 35.5a2.7 2.7 0 1 0 5.3 0a2.7 2.7 0 1 0 -5.3 0M13.0 34.2a2.6 2.6 0 1 0 5.1 0a2.6 2.6 0 1 0 -5.1 0M18.6 36.1a2.3 2.3 0 1 0 4.5 0a2.3 2.3 0 1 0 -4.5 0M23.6 34.2a2.7 2.7 0 1 0 5.4 0a2.7 2.7 0 1 0 -5.4 0M30.5 33.9a2.4 2.4 0 1 0 4.7 0a2.4 2.4 0 1 0 -4.7 0M37.4 34.4a2.6 2.6 0 1 0 5.3 0a2.6 2.6 0 1 0 -5.3 0M43.9 34.3a2.1 2.1 0 1 0 4.3 0a2.1 2.1 0 1 0 -4.3 0M48.2 34.1a2.0 2.0 0 1 0 4.0 0a2.0 2.0 0 1 0 -4.0 0M54.1 35.7a2.3 2.3 0 1 0 4.6 0a2.3 2.3 0 1 0 -4.6 0M60.7 35.3a2.1 2.1 0 1 0 4.2 0a2.1 2.1 0 1 0 -4.2 0M67.2 34.5a2.4 2.4 0 1 0 4.7 0a2.4 2.4 0 1 0 -4.7 0M72.3 34.5a2.1 2.1 0 1 0 4.2 0a2.1 2.1 0 1 0 -4.2 0M78.7 34.9a2.1 2.1 0 1 0 4.1 0a2.1 2.1 0 1 0 -4.1 0M85.3 34.6a2.5 2.5 0 1 0 4.9 0a2.5 2.5 0 1 0 -4.9 0M-4.7 34.6a2.5 2.5 0 1 0 4.9 0a2.5 2.5 0 1 0 -4.9 0M86.6 39.0a2.7 2.7 0 1 0 5.4 0a2.7 2.7 0 1 0 -5.4 0M-3.4 39.0a2.7 2.7 0 1 0 5.4 0a2.7 2.7 0 1 0 -5.4 0M2.8 38.9a2.6 2.6 0 1 0 5.3 0a2.6 2.6 0 1 0 -5.3 0M9.4 38.9a2.4 2.4 0 1 0 4.9 0a2.4 2.4 0 1 0 -4.9 0M15.1 41.0a2.6 2.6 0 1 0 5.1 0a2.6 2.6 0 1 0 -5.1 0M22.1 40.4a2.2 2.2 0 1 0 4.4 0a2.2 2.2 0 1 0 -4.4 0M28.7 41.0a2.2 2.2 0 1 0 4.3 0a2.2 2.2 0 1 0 -4.3 0M32.6 39.0a2.4 2.4 0 1 0 4.7 0a2.4 2.4 0 1 0 -4.7 0M39.6 40.7a2.6 2.6 0 1 0 5.3 0a2.6 2.6 0 1 0 -5.3 0M45.5 39.9a2.3 2.3 0 1 0 4.6 0a2.3 2.3 0 1 0 -4.6 0M52.8 39.4a2.1 2.1 0 1 0 4.2 0a2.1 2.1 0 1 0 -4.2 0M57.2 40.9a2.1 2.1 0 1 0 4.2 0a2.1 2.1 0 1 0 -4.2 0M64.8 39.4a2.3 2.3 0 1 0 4.5 0a2.3 2.3 0 1 0 -4.5 0M69.2 41.0a2.1 2.1 0 1 0 4.1 0a2.1 2.1 0 1 0 -4.1 0M74.9 40.4a2.3 2.3 0 1 0 4.7 0a2.3 2.3 0 1 0 -4.7 0M81.1 39.9a2.6 2.6 0 1 0 5.3 0a2.6 2.6 0 1 0 -5.3 0M0.1 45.1a2.1 2.1 0 1 0 4.3 0a2.1 2.1 0 1 0 -4.3 0M6.7 44.7a2.3 2.3 0 1 0 4.6 0a2.3 2.3 0 1 0 -4.6 0M12.4 43.9a2.1 2.1 0 1 0 4.3 0a2.1 2.1 0 1 0 -4.3 0M19.4 44.7a2.1 2.1 0 1 0 4.2 0a2.1 2.1 0 1 0 -4.2 0M24.0 45.5a2.1 2.1 0 1 0 4.3 0a2.1 2.1 0 1 0 -4.3 0M31.9 45.1a2.0 2.0 0 1 0 4.1 0a2.0 2.0 0 1 0 -4.1 0M35.9 45.3a2.7 2.7 0 1 0 5.4 0a2.7 2.7 0 1 0 -5.4 0M43.5 44.4a2.4 2.4 0 1 0 4.9 0a2.4 2.4 0 1 0 -4.9 0M49.0 45.8a2.1 2.1 0 1 0 4.2 0a2.1 2.1 0 1 0 -4.2 0M54.7 45.2a2.3 2.3 0 1 0 4.7 0a2.3 2.3 0 1 0 -4.7 0M60.8 43.9a2.1 2.1 0 1 0 4.2 0a2.1 2.1 0 1 0 -4.2 0M67.3 44.6a2.7 2.7 0 1 0 5.3 0a2.7 2.7 0 1 0 -5.3 0M71.3 43.9a2.6 2.6 0 1 0 5.2 0a2.6 2.6 0 1 0 -5.2 0M78.5 45.8a2.0 2.0 0 1 0 4.0 0a2.0 2.0 0 1 0 -4.0 0M85.1 45.7a2.2 2.2 0 1 0 4.4 0a2.2 2.2 0 1 0 -4.4 0M-1.8 50.5a2.6 2.6 0 1 0 5.2 0a2.6 2.6 0 1 0 -5.2 0M88.2 50.5a2.6 2.6 0 1 0 5.2 0a2.6 2.6 0 1 0 -5.2 0M3.5 49.3a2.3 2.3 0 1 0 4.5 0a2.3 2.3 0 1 0 -4.5 0M9.0 49.4a2.6 2.6 0 1 0 5.3 0a2.6 2.6 0 1 0 -5.3 0M15.0 50.3a2.3 2.3 0 1 0 4.7 0a2.3 2.3 0 1 0 -4.7 0M21.6 50.0a2.3 2.3 0 1 0 4.7 0a2.3 2.3 0 1 0 -4.7 0M28.4 50.4a2.6 2.6 0 1 0 5.1 0a2.6 2.6 0 1 0 -5.1 0M32.9 50.0a2.5 2.5 0 1 0 5.0 0a2.5 2.5 0 1 0 -5.0 0M40.4 50.7a2.0 2.0 0 1 0 4.0 0a2.0 2.0 0 1 0 -4.0 0M44.8 50.7a2.3 2.3 0 1 0 4.6 0a2.3 2.3 0 1 0 -4.6 0M51.3 49.9a2.1 2.1 0 1 0 4.2 0a2.1 2.1 0 1 0 -4.2 0M57.9 49.8a2.6 2.6 0 1 0 5.2 0a2.6 2.6 0 1 0 -5.2 0M63.9 51.1a2.0 2.0 0 1 0 4.1 0a2.0 2.0 0 1 0 -4.1 0M70.4 49.1a2.3 2.3 0 1 0 4.7 0a2.3 2.3 0 1 0 -4.7 0M74.8 49.8a2.6 2.6 0 1 0 5.2 0a2.6 2.6 0 1 0 -5.2 0M81.0 49.8a2.4 2.4 0 1 0 4.7 0a2.4 2.4 0 1 0 -4.7 0M-0.1 55.0a2.2 2.2 0 1 0 4.4 0a2.2 2.2 0 1 0 -4.4 0M89.9 55.0a2.2 2.2 0 1 0 4.4 0a2.2 2.2 0 1 0 -4.4 0M7.7 55.9a2.4 2.4 0 1 0 4.7 0a2.4 2.4 0 1 0 -4.7 0M13.9 54.1a2.0 2.0 0 1 0 4.0 0a2.0 2.0 0 1 0 -4.0 0M18.2 55.9a2.6 2.6 0 1 0 5.3 0a2.6 2.6 0 1 0 -5.3 0M25.8 55.7a2.3 2.3 0 1 0 4.6 0a2.3 2.3 0 1 0 -4.6 0M31.2 55.6a2.3 2.3 0 1 0 4.7 0a2.3 2.3 0 1 0 -4.7 0M37.6 55.5a2.1 2.1 0 1 0 4.3 0a2.1 2.1 0 1 0 -4.3 0M41.5 54.4a2.6 2.6 0 1 0 5.1 0a2.6 2.6 0 1 0 -5.1 0M48.3 54.6a2.5 2.5 0 1 0 5.0 0a2.5 2.5 0 1 0 -5.0 0M54.2 54.4a2.1 2.1 0 1 0 4.2 0a2.1 2.1 0 1 0 -4.2 0M61.6 54.4a2.3 2.3 0 1 0 4.5 0a2.3 2.3 0 1 0 -4.5 0M66.5 54.3a2.6 2.6 0 1 0 5.3 0a2.6 2.6 0 1 0 -5.3 0M73.5 54.1a2.1 2.1 0 1 0 4.2 0a2.1 2.1 0 1 0 -4.2 0M79.5 54.4a2.3 2.3 0 1 0 4.5 0a2.3 2.3 0 1 0 -4.5 0M85.4 54.6a2.4 2.4 0 1 0 4.8 0a2.4 2.4 0 1 0 -4.8 0M-4.6 54.6a2.4 2.4 0 1 0 4.8 0a2.4 2.4 0 1 0 -4.8 0M87.3 60.5a2.5 2.5 0 1 0 5.0 0a2.5 2.5 0 1 0 -5.0 0M-2.7 60.5a2.5 2.5 0 1 0 5.0 0a2.5 2.5 0 1 0 -5.0 0M4.2 59.4a2.4 2.4 0 1 0 4.9 0a2.4 2.4 0 1 0 -4.9 0M9.1 61.0a2.2 2.2 0 1 0 4.4 0a2.2 2.2 0 1 0 -4.4 0M15.7 59.4a2.4 2.4 0 1 0 4.8 0a2.4 2.4 0 1 0 -4.8 0M21.6 59.0a2.0 2.0 0 1 0 4.0 0a2.0 2.0 0 1 0 -4.0 0M28.4 59.4a2.1 2.1 0 1 0 4.2 0a2.1 2.1 0 1 0 -4.2 0M34.3 60.7a2.2 2.2 0 1 0 4.4 0a2.2 2.2 0 1 0 -4.4 0M39.5 60.9a2.6 2.6 0 1 0 5.2 0a2.6 2.6 0 1 0 -5.2 0M45.5 60.4a2.4 2.4 0 1 0 4.8 0a2.4 2.4 0 1 0 -4.8 0M52.4 61.0a2.1 2.1 0 1 0 4.3 0a2.1 2.1 0 1 0 -4.3 0M57.6 61.0a2.2 2.2 0 1 0 4.4 0a2.2 2.2 0 1 0 -4.4 0M63.3 60.7a2.2 2.2 0 1 0 4.4 0a2.2 2.2 0 1 0 -4.4 0M69.5 59.1a2.7 2.7 0 1 0 5.4 0a2.7 2.7 0 1 0 -5.4 0M76.1 59.1a2.1 2.1 0 1 0 4.2 0a2.1 2.1 0 1 0 -4.2 0M80.6 60.1a2.5 2.5 0 1 0 5.0 0a2.5 2.5 0 1 0 -5.0 0M0.6 65.6a2.6 2.6 0 1 0 5.2 0a2.6 2.6 0 1 0 -5.2 0M6.6 65.0a2.5 2.5 0 1 0 4.9 0a2.5 2.5 0 1 0 -4.9 0M13.0 65.8a2.4 2.4 0 1 0 4.9 0a2.4 2.4 0 1 0 -4.9 0M18.2 65.3a2.6 2.6 0 1 0 5.1 0a2.6 2.6 0 1 0 -5.1 0M24.9 64.6a2.4 2.4 0 1 0 4.7 0a2.4 2.4 0 1 0 -4.7 0M30.5 64.3a2.6 2.6 0 1 0 5.2 0a2.6 2.6 0 1 0 -5.2 0M35.9 65.8a2.2 2.2 0 1 0 4.3 0a2.2 2.2 0 1 0 -4.3 0M42.3 65.9a2.3 2.3 0 1 0 4.6 0a2.3 2.3 0 1 0 -4.6 0M48.9 64.0a2.3 2.3 0 1 0 4.7 0a2.3 2.3 0 1 0 -4.7 0M54.9 65.1a2.2 2.2 0 1 0 4.5 0a2.2 2.2 0 1 0 -4.5 0M59.9 64.0a2.1 2.1 0 1 0 4.2 0a2.1 2.1 0 1 0 -4.2 0M66.9 64.8a2.6 2.6 0 1 0 5.3 0a2.6 2.6 0 1 0 -5.3 0M73.1 65.0a2.4 2.4 0 1 0 4.9 0a2.4 2.4 0 1 0 -4.9 0M79.4 65.8a2.1 2.1 0 1 0 4.1 0a2.1 2.1 0 1 0 -4.1 0M84.3 64.1a2.5 2.5 0 1 0 5.0 0a2.5 2.5 0 1 0 -5.0 0M87.9 70.7a2.1 2.1 0 1 0 4.1 0a2.1 2.1 0 1 0 -4.1 0M-2.1 70.7a2.1 2.1 0 1 0 4.1 0a2.1 2.1 0 1 0 -4.1 0M4.7 69.2a2.0 2.0 0 1 0 4.1 0a2.0 2.0 0 1 0 -4.1 0M9.4 69.6a2.1 2.1 0 1 0 4.1 0a2.1 2.1 0 1 0 -4.1 0M16.3 71.0a2.5 2.5 0 1 0 4.9 0a2.5 2.5 0 1 0 -4.9 0M21.8 69.8a2.2 2.2 0 1 0 4.4 0a2.2 2.2 0 1 0 -4.4 0M27.4 70.0a2.5 2.5 0 1 0 5.0 0a2.5 2.5 0 1 0 -5.0 0M33.1 69.7a2.6 2.6 0 1 0 5.2 0a2.6 2.6 0 1 0 -5.2 0M40.1 69.1a2.3 2.3 0 1 0 4.7 0a2.3 2.3 0 1 0 -4.7 0M45.3 69.5a2.4 2.4 0 1 0 4.8 0a2.4 2.4 0 1 0 -4.8 0M51.3 70.1a2.1 2.1 0 1 0 4.2 0a2.1 2.1 0 1 0 -4.2 0M57.0 69.3a2.5 2.5 0 1 0 4.9 0a2.5 2.5 0 1 0 -4.9 0M63.2 70.7a2.2 2.2 0 1 0 4.3 0a2.2 2.2 0 1 0 -4.3 0M68.6 69.1a2.6 2.6 0 1 0 5.2 0a2.6 2.6 0 1 0 -5.2 0M76.1 69.9a2.1 2.1 0 1 0 4.1 0a2.1 2.1 0 1 0 -4.1 0M81.8 69.3a2.6 2.6 0 1 0 5.2 0a2.6 2.6 0 1 0 -5.2 0M1.2 75.2a2.2 2.2 0 1 0 4.5 0a2.2 2.2 0 1 0 -4.5 0M7.5 75.1a2.2 2.2 0 1 0 4.4 0a2.2 2.2 0 1 0 -4.4 0M12.7 75.4a2.6 2.6 0 1 0 5.2 0a2.6 2.6 0 1 0 -5.2 0M19.2 75.4a2.1 2.1 0 1 0 4.3 0a2.1 2.1 0 1 0 -4.3 0M25.6 75.1a2.2 2.2 0 1 0 4.4 0a2.2 2.2 0 1 0 -4.4 0M31.5 74.2a2.4 2.4 0 1 0 4.8 0a2.4 2.4 0 1 0 -4.8 0M37.7 76.0a2.3 2.3 0 1 0 4.6 0a2.3 2.3 0 1 0 -4.6 0M43.7 75.9a2.3 2.3 0 1 0 4.5 0a2.3 2.3 0 1 0 -4.5 0M47.5 74.1a2.6 2.6 0 1 0 5.3 0a2.6 2.6 0 1 0 -5.3 0M53.6 75.0a2.3 2.3 0 1 0 4.6 0a2.3 2.3 0 1 0 -4.6 0M60.2 74.5a2.0 2.0 0 1 0 4.1 0a2.0 2.0 0 1 0 -4.1 0M66.4 75.3a2.2 2.2 0 1 0 4.3 0a2.2 2.2 0 1 0 -4.3 0M72.4 74.2a2.5 2.5 0 1 0 5.0 0a2.5 2.5 0 1 0 -5.0 0M78.9 75.6a2.2 2.2 0 1 0 4.4 0a2.2 2.2 0 1 0 -4.4 0M84.1 76.0a2.1 2.1 0 1 0 4.2 0a2.1 2.1 0 1 0 -4.2 0M-2.3 80.5a2.4 2.4 0 1 0 4.8 0a2.4 2.4 0 1 0 -4.8 0M87.7 80.5a2.4 2.4 0 1 0 4.8 0a2.4 2.4 0 1 0 -4.8 0M2.3 81.0a2.6 2.6 0 1 0 5.2 0a2.6 2.6 0 1 0 -5.2 0M8.7 79.9a2.5 2.5 0 1 0 5.1 0a2.5 2.5 0 1 0 -5.1 0M14.5 79.5a2.6 2.6 0 1 0 5.3 0a2.6 2.6 0 1 0 -5.3 0M21.5 80.7a2.4 2.4 0 1 0 4.9 0a2.4 2.4 0 1 0 -4.9 0M27.9 79.5a2.5 2.5 0 1 0 5.0 0a2.5 2.5 0 1 0 -5.0 0M32.2 79.5a2.7 2.7 0 1 0 5.3 0a2.7 2.7 0 1 0 -5.3 0M40.3 79.1a2.5 2.5 0 1 0 4.9 0a2.5 2.5 0 1 0 -4.9 0M46.4 80.8a2.6 2.6 0 1 0 5.2 0a2.6 2.6 0 1 0 -5.2 0M50.8 80.6a2.4 2.4 0 1 0 4.9 0a2.4 2.4 0 1 0 -4.9 0M56.5 79.5a2.6 2.6 0 1 0 5.2 0a2.6 2.6 0 1 0 -5.2 0M63.0 80.1a2.2 2.2 0 1 0 4.4 0a2.2 2.2 0 1 0 -4.4 0M70.7 80.5a2.3 2.3 0 1 0 4.7 0a2.3 2.3 0 1 0 -4.7 0M75.0 80.7a2.7 2.7 0 1 0 5.3 0a2.7 2.7 0 1 0 -5.3 0M82.4 80.5a2.3 2.3 0 1 0 4.7 0a2.3 2.3 0 1 0 -4.7 0M1.0 84.5a2.2 2.2 0 1 0 4.3 0a2.2 2.2 0 1 0 -4.3 0M6.9 85.2a2.0 2.0 0 1 0 4.1 0a2.0 2.0 0 1 0 -4.1 0M12.2 84.8a2.6 2.6 0 1 0 5.3 0a2.6 2.6 0 1 0 -5.3 0M18.0 85.5a2.6 2.6 0 1 0 5.2 0a2.6 2.6 0 1 0 -5.2 0M25.2 85.3a2.7 2.7 0 1 0 5.4 0a2.7 2.7 0 1 0 -5.4 0M31.9 84.1a2.2 2.2 0 1 0 4.4 0a2.2 2.2 0 1 0 -4.4 0M37.3 85.2a2.3 2.3 0 1 0 4.5 0a2.3 2.3 0 1 0 -4.5 0M42.6 85.8a2.1 2.1 0 1 0 4.1 0a2.1 2.1 0 1 0 -4.1 0M49.7 84.1a2.4 2.4 0 1 0 4.8 0a2.4 2.4 0 1 0 -4.8 0M54.9 86.1a2.3 2.3 0 1 0 4.6 0a2.3 2.3 0 1 0 -4.6 0M60.9 84.4a2.4 2.4 0 1 0 4.8 0a2.4 2.4 0 1 0 -4.8 0M65.8 84.0a2.5 2.5 0 1 0 4.9 0a2.5 2.5 0 1 0 -4.9 0M73.0 85.1a2.7 2.7 0 1 0 5.3 0a2.7 2.7 0 1 0 -5.3 0M78.0 85.5a2.3 2.3 0 1 0 4.7 0a2.3 2.3 0 1 0 -4.7 0M85.0 85.1a2.3 2.3 0 1 0 4.6 0a2.3 2.3 0 1 0 -4.6 0"/>
<path id="cq" d="M-2.3 89.1a3.4 3.4 0 1 0 6.8 0a3.4 3.4 0 1 0 -6.8 0M-2.3 -0.9a3.4 3.4 0 1 0 6.8 0a3.4 3.4 0 1 0 -6.8 0M87.7 89.1a3.4 3.4 0 1 0 6.8 0a3.4 3.4 0 1 0 -6.8 0M87.7 -0.9a3.4 3.4 0 1 0 6.8 0a3.4 3.4 0 1 0 -6.8 0M3.5 89.9a3.3 3.3 0 1 0 6.6 0a3.3 3.3 0 1 0 -6.6 0M3.5 -0.1a3.3 3.3 0 1 0 6.6 0a3.3 3.3 0 1 0 -6.6 0M11.9 0.0a2.7 2.7 0 1 0 5.5 0a2.7 2.7 0 1 0 -5.5 0M11.9 90.0a2.7 2.7 0 1 0 5.5 0a2.7 2.7 0 1 0 -5.5 0M21.0 1.3a2.7 2.7 0 1 0 5.5 0a2.7 2.7 0 1 0 -5.5 0M21.0 91.3a2.7 2.7 0 1 0 5.5 0a2.7 2.7 0 1 0 -5.5 0M26.0 89.9a3.0 3.0 0 1 0 6.0 0a3.0 3.0 0 1 0 -6.0 0M26.0 -0.1a3.0 3.0 0 1 0 6.0 0a3.0 3.0 0 1 0 -6.0 0M35.1 89.6a3.1 3.1 0 1 0 6.1 0a3.1 3.1 0 1 0 -6.1 0M35.1 -0.4a3.1 3.1 0 1 0 6.1 0a3.1 3.1 0 1 0 -6.1 0M41.5 89.3a2.7 2.7 0 1 0 5.3 0a2.7 2.7 0 1 0 -5.3 0M41.5 -0.7a2.7 2.7 0 1 0 5.3 0a2.7 2.7 0 1 0 -5.3 0M49.5 0.2a3.1 3.1 0 1 0 6.2 0a3.1 3.1 0 1 0 -6.2 0M49.5 90.2a3.1 3.1 0 1 0 6.2 0a3.1 3.1 0 1 0 -6.2 0M58.3 89.5a2.9 2.9 0 1 0 5.7 0a2.9 2.9 0 1 0 -5.7 0M58.3 -0.5a2.9 2.9 0 1 0 5.7 0a2.9 2.9 0 1 0 -5.7 0M64.6 1.2a2.8 2.8 0 1 0 5.7 0a2.8 2.8 0 1 0 -5.7 0M64.6 91.2a2.8 2.8 0 1 0 5.7 0a2.8 2.8 0 1 0 -5.7 0M71.3 89.8a3.2 3.2 0 1 0 6.3 0a3.2 3.2 0 1 0 -6.3 0M71.3 -0.2a3.2 3.2 0 1 0 6.3 0a3.2 3.2 0 1 0 -6.3 0M78.7 89.1a3.2 3.2 0 1 0 6.4 0a3.2 3.2 0 1 0 -6.4 0M78.7 -0.9a3.2 3.2 0 1 0 6.4 0a3.2 3.2 0 1 0 -6.4 0M1.3 6.2a2.6 2.6 0 1 0 5.2 0a2.6 2.6 0 1 0 -5.2 0M7.7 5.0a2.9 2.9 0 1 0 5.8 0a2.9 2.9 0 1 0 -5.8 0M16.5 7.3a3.3 3.3 0 1 0 6.6 0a3.3 3.3 0 1 0 -6.6 0M22.6 6.2a3.3 3.3 0 1 0 6.6 0a3.3 3.3 0 1 0 -6.6 0M30.2 5.7a3.2 3.2 0 1 0 6.3 0a3.2 3.2 0 1 0 -6.3 0M38.0 5.9a2.9 2.9 0 1 0 5.8 0a2.9 2.9 0 1 0 -5.8 0M46.9 6.0a2.7 2.7 0 1 0 5.4 0a2.7 2.7 0 1 0 -5.4 0M52.3 6.4a2.7 2.7 0 1 0 5.4 0a2.7 2.7 0 1 0 -5.4 0M61.2 5.3a3.0 3.0 0 1 0 6.0 0a3.0 3.0 0 1 0 -6.0 0M68.1 6.4a2.7 2.7 0 1 0 5.4 0a2.7 2.7 0 1 0 -5.4 0M75.7 6.4a2.8 2.8 0 1 0 5.6 0a2.8 2.8 0 1 0 -5.6 0M84.2 7.3a3.4 3.4 0 1 0 6.7 0a3.4 3.4 0 1 0 -6.7 0M-5.8 7.3a3.4 3.4 0 1 0 6.7 0a3.4 3.4 0 1 0 -6.7 0M-1.9 13.1a3.1 3.1 0 1 0 6.1 0a3.1 3.1 0 1 0 -6.1 0M88.1 13.1a3.1 3.1 0 1 0 6.1 0a3.1 3.1 0 1 0 -6.1 0M5.7 11.8a2.7 2.7 0 1 0 5.3 0a2.7 2.7 0 1 0 -5.3 0M13.3 13.1a2.8 2.8 0 1 0 5.6 0a2.8 2.8 0 1 0 -5.6 0M19.0 11.3a3.2 3.2 0 1 0 6.3 0a3.2 3.2 0 1 0 -6.3 0M26.5 12.8a2.6 2.6 0 1 0 5.3 0a2.6 2.6 0 1 0 -5.3 0M34.3 12.7a3.0 3.0 0 1 0 6.0 0a3.0 3.0 0 1 0 -6.0 0M40.9 10.8a3.1 3.1 0 1 0 6.3 0a3.1 3.1 0 1 0 -6.3 0M48.3 11.4a3.1 3.1 0 1 0 6.2 0a3.1 3.1 0 1 0 -6.2 0M56.3 10.8a3.2 3.2 0 1 0 6.5 0a3.2 3.2 0 1 0 -6.5 0M65.4 12.3a2.7 2.7 0 1 0 5.4 0a2.7 2.7 0 1 0 -5.4 0M72.0 13.2a3.0 3.0 0 1 0 6.0 0a3.0 3.0 0 1 0 -6.0 0M79.0 13.1a2.9 2.9 0 1 0 5.8 0a2.9 2.9 0 1 0 -5.8 0M0.5 17.1a3.3 3.3 0 1 0 6.6 0a3.3 3.3 0 1 0 -6.6 0M8.7 18.1a3.0 3.0 0 1 0 6.0 0a3.0 3.0 0 1 0 -6.0 0M15.3 17.9a3.0 3.0 0 1 0 6.0 0a3.0 3.0 0 1 0 -6.0 0M21.8 18.6a3.2 3.2 0 1 0 6.4 0a3.2 3.2 0 1 0 -6.4 0M29.4 17.1a3.2 3.2 0 1 0 6.3 0a3.2 3.2 0 1 0 -6.3 0M37.7 17.1a3.2 3.2 0 1 0 6.3 0a3.2 3.2 0 1 0 -6.3 0M46.9 17.6a3.1 3.1 0 1 0 6.1 0a3.1 3.1 0 1 0 -6.1 0M53.3 18.1a3.1 3.1 0 1 0 6.2 0a3.1 3.1 0 1 0 -6.2 0M61.5 18.9a3.3 3.3 0 1 0 6.6 0a3.3 3.3 0 1 0 -6.6 0M68.5 18.7a3.2 3.2 0 1 0 6.4 0a3.2 3.2 0 1 0 -6.4 0M76.2 18.5a3.2 3.2 0 1 0 6.4 0a3.2 3.2 0 1 0 -6.4 0M82.0 17.1a3.1 3.1 0 1 0 6.2 0a3.1 3.1 0 1 0 -6.2 0M86.7 23.3a3.1 3.1 0 1 0 6.2 0a3.1 3.1 0 1 0 -6.2 0M-3.3 23.3a3.1 3.1 0 1 0 6.2 0a3.1 3.1 0 1 0 -6.2 0M3.9 24.7a2.9 2.9 0 1 0 5.7 0a2.9 2.9 0 1 0 -5.7 0M12.7 23.5a3.4 3.4 0 1 0 6.7 0a3.4 3.4 0 1 0 -6.7 0M19.3 24.7a2.7 2.7 0 1 0 5.4 0a2.7 2.7 0 1 0 -5.4 0M26.7 23.6a3.3 3.3 0 1 0 6.6 0a3.3 3.3 0 1 0 -6.6 0M35.4 24.2a2.7 2.7 0 1 0 5.4 0a2.7 2.7 0 1 0 -5.4 0M42.4 23.3a2.7 2.7 0 1 0 5.4 0a2.7 2.7 0 1 0 -5.4 0M49.6 24.1a3.4 3.4 0 1 0 6.8 0a3.4 3.4 0 1 0 -6.8 0M57.5 22.8a3.4 3.4 0 1 0 6.7 0a3.4 3.4 0 1 0 -6.7 0M64.7 25.3a2.8 2.8 0 1 0 5.7 0a2.8 2.8 0 1 0 -5.7 0M72.1 24.5a2.8 2.8 0 1 0 5.6 0a2.8 2.8 0 1 0 -5.6 0M79.4 23.6a2.9 2.9 0 1 0 5.7 0a2.9 2.9 0 1 0 -5.7 0M0.5 30.0a3.3 3.3 0 1 0 6.6 0a3.3 3.3 0 1 0 -6.6 0M7.8 29.3a2.8 2.8 0 1 0 5.7 0a2.8 2.8 0 1 0 -5.7 0M14.6 29.6a2.9 2.9 0 1 0 5.8 0a2.9 2.9 0 1 0 -5.8 0M22.5 30.0a2.7 2.7 0 1 0 5.3 0a2.7 2.7 0 1 0 -5.3 0M31.4 31.2a3.1 3.1 0 1 0 6.2 0a3.1 3.1 0 1 0 -6.2 0M37.8 29.1a2.6 2.6 0 1 0 5.3 0a2.6 2.6 0 1 0 -5.3 0M44.7 30.9a3.2 3.2 0 1 0 6.4 0a3.2 3.2 0 1 0 -6.4 0M54.1 29.7a3.0 3.0 0 1 0 6.1 0a3.0 3.0 0 1 0 -6.1 0M61.2 30.4a3.1 3.1 0 1 0 6.2 0a3.1 3.1 0 1 0 -6.2 0M67.0 31.3a3.1 3.1 0 1 0 6.1 0a3.1 3.1 0 1 0 -6.1 0M75.0 29.5a3.2 3.2 0 1 0 6.4 0a3.2 3.2 0 1 0 -6.4 0M84.6 28.8a2.8 2.8 0 1 0 5.5 0a2.8 2.8 0 1 0 -5.5 0M-5.4 28.8a2.8 2.8 0 1 0 5.5 0a2.8 2.8 0 1 0 -5.5 0M85.7 36.4a3.1 3.1 0 1 0 6.2 0a3.1 3.1 0 1 0 -6.2 0M-4.3 36.4a3.1 3.1 0 1 0 6.2 0a3.1 3.1 0 1 0 -6.2 0M4.9 35.2a2.9 2.9 0 1 0 5.9 0a2.9 2.9 0 1 0 -5.9 0M13.2 35.5a2.8 2.8 0 1 0 5.5 0a2.8 2.8 0 1 0 -5.5 0M19.0 36.8a2.8 2.8 0 1 0 5.6 0a2.8 2.8 0 1 0 -5.6 0M27.3 36.3a3.3 3.3 0 1 0 6.5 0a3.3 3.3 0 1 0 -6.5 0M33.0 35.5a3.4 3.4 0 1 0 6.7 0a3.4 3.4 0 1 0 -6.7 0M42.3 34.9a2.7 2.7 0 1 0 5.4 0a2.7 2.7 0 1 0 -5.4 0M48.8 36.4a2.9 2.9 0 1 0 5.7 0a2.9 2.9 0 1 0 -5.7 0M55.7 35.4a3.2 3.2 0 1 0 6.5 0a3.2 3.2 0 1 0 -6.5 0M65.3 35.9a2.8 2.8 0 1 0 5.6 0a2.8 2.8 0 1 0 -5.6 0M70.6 35.0a3.3 3.3 0 1 0 6.6 0a3.3 3.3 0 1 0 -6.6 0M79.6 34.7a3.2 3.2 0 1 0 6.4 0a3.2 3.2 0 1 0 -6.4 0M1.6 41.7a3.3 3.3 0 1 0 6.6 0a3.3 3.3 0 1 0 -6.6 0M7.9 41.6a2.9 2.9 0 1 0 5.9 0a2.9 2.9 0 1 0 -5.9 0M16.0 41.7a2.8 2.8 0 1 0 5.6 0a2.8 2.8 0 1 0 -5.6 0M22.1 41.5a3.1 3.1 0 1 0 6.1 0a3.1 3.1 0 1 0 -6.1 0M31.7 42.5a3.0 3.0 0 1 0 6.0 0a3.0 3.0 0 1 0 -6.0 0M37.9 41.1a3.2 3.2 0 1 0 6.3 0a3.2 3.2 0 1 0 -6.3 0M46.3 41.6a3.2 3.2 0 1 0 6.4 0a3.2 3.2 0 1 0 -6.4 0M54.5 41.6a2.6 2.6 0 1 0 5.2 0a2.6 2.6 0 1 0 -5.2 0M62.0 42.0a2.7 2.7 0 1 0 5.3 0a2.7 2.7 0 1 0 -5.3 0M68.4 42.3a3.1 3.1 0 1 0 6.2 0a3.1 3.1 0 1 0 -6.2 0M76.5 42.1a2.6 2.6 0 1 0 5.3 0a2.6 2.6 0 1 0 -5.3 0M84.0 42.4a3.3 3.3 0 1 0 6.6 0a3.3 3.3 0 1 0 -6.6 0M-6.0 42.4a3.3 3.3 0 1 0 6.6 0a3.3 3.3 0 1 0 -6.6 0M-2.9 48.5a3.0 3.0 0 1 0 6.0 0a3.0 3.0 0 1 0 -6.0 0M87.1 48.5a3.0 3.0 0 1 0 6.0 0a3.0 3.0 0 1 0 -6.0 0M5.3 46.9a2.9 2.9 0 1 0 5.7 0a2.9 2.9 0 1 0 -5.7 0M12.7 47.6a3.0 3.0 0 1 0 6.0 0a3.0 3.0 0 1 0 -6.0 0M19.4 48.7a2.7 2.7 0 1 0 5.4 0a2.7 2.7 0 1 0 -5.4 0M26.8 46.9a2.7 2.7 0 1 0 5.3 0a2.7 2.7 0 1 0 -5.3 0M34.5 49.2a2.7 2.7 0 1 0 5.5 0a2.7 2.7 0 1 0 -5.5 0M42.1 48.6a3.2 3.2 0 1 0 6.3 0a3.2 3.2 0 1 0 -6.3 0M48.1 46.8a3.2 3.2 0 1 0 6.4 0a3.2 3.2 0 1 0 -6.4 0M56.2 48.7a3.1 3.1 0 1 0 6.2 0a3.1 3.1 0 1 0 -6.2 0M65.5 47.7a3.2 3.2 0 1 0 6.5 0a3.2 3.2 0 1 0 -6.5 0M71.2 47.4a2.9 2.9 0 1 0 5.8 0a2.9 2.9 0 1 0 -5.8 0M79.3 48.1a2.8 2.8 0 1 0 5.6 0a2.8 2.8 0 1 0 -5.6 0M-0.2 53.9a3.0 3.0 0 1 0 6.0 0a3.0 3.0 0 1 0 -6.0 0M89.8 53.9a3.0 3.0 0 1 0 6.0 0a3.0 3.0 0 1 0 -6.0 0M9.1 54.2a3.0 3.0 0 1 0 5.9 0a3.0 3.0 0 1 0 -5.9 0M14.7 54.6a3.3 3.3 0 1 0 6.6 0a3.3 3.3 0 1 0 -6.6 0M21.9 53.4a3.2 3.2 0 1 0 6.4 0a3.2 3.2 0 1 0 -6.4 0M30.3 52.9a2.8 2.8 0 1 0 5.6 0a2.8 2.8 0 1 0 -5.6 0M39.8 53.1a2.7 2.7 0 1 0 5.4 0a2.7 2.7 0 1 0 -5.4 0M46.0 53.1a3.3 3.3 0 1 0 6.5 0a3.3 3.3 0 1 0 -6.5 0M52.7 53.9a3.0 3.0 0 1 0 6.0 0a3.0 3.0 0 1 0 -6.0 0M62.0 55.1a2.8 2.8 0 1 0 5.5 0a2.8 2.8 0 1 0 -5.5 0M68.0 52.9a2.7 2.7 0 1 0 5.4 0a2.7 2.7 0 1 0 -5.4 0M76.7 53.3a3.0 3.0 0 1 0 6.0 0a3.0 3.0 0 1 0 -6.0 0M83.7 53.5a2.7 2.7 0 1 0 5.3 0a2.7 2.7 0 1 0 -5.3 0M85.4 59.4a3.3 3.3 0 1 0 6.6 0a3.3 3.3 0 1 0 -6.6 0M-4.6 59.4a3.3 3.3 0 1 0 6.6 0a3.3 3.3 0 1 0 -6.6 0M3.4 59.4a3.3 3.3 0 1 0 6.7 0a3.3 3.3 0 1 0 -6.7 0M12.9 58.9a3.2 3.2 0 1 0 6.4 0a3.2 3.2 0 1 0 -6.4 0M19.1 59.8a3.3 3.3 0 1 0 6.5 0a3.3 3.3 0 1 0 -6.5 0M25.4 60.1a3.3 3.3 0 1 0 6.6 0a3.3 3.3 0 1 0 -6.6 0M35.7 60.8a3.0 3.0 0 1 0 6.0 0a3.0 3.0 0 1 0 -6.0 0M41.8 61.2a2.6 2.6 0 1 0 5.2 0a2.6 2.6 0 1 0 -5.2 0M48.1 59.4a3.4 3.4 0 1 0 6.7 0a3.4 3.4 0 1 0 -6.7 0M57.1 61.0a2.7 2.7 0 1 0 5.3 0a2.7 2.7 0 1 0 -5.3 0M64.3 59.4a2.6 2.6 0 1 0 5.2 0a2.6 2.6 0 1 0 -5.2 0M72.6 60.7a3.1 3.1 0 1 0 6.2 0a3.1 3.1 0 1 0 -6.2 0M78.9 60.4a3.2 3.2 0 1 0 6.4 0a3.2 3.2 0 1 0 -6.4 0M0.6 65.9a2.6 2.6 0 1 0 5.2 0a2.6 2.6 0 1 0 -5.2 0M9.6 64.8a2.7 2.7 0 1 0 5.5 0a2.7 2.7 0 1 0 -5.5 0M17.0 64.8a2.7 2.7 0 1 0 5.5 0a2.7 2.7 0 1 0 -5.5 0M22.8 67.3a3.3 3.3 0 1 0 6.6 0a3.3 3.3 0 1 0 -6.6 0M30.2 66.4a2.8 2.8 0 1 0 5.6 0a2.8 2.8 0 1 0 -5.6 0M38.2 66.9a2.8 2.8 0 1 0 5.5 0a2.8 2.8 0 1 0 -5.5 0M45.3 67.1a2.8 2.8 0 1 0 5.5 0a2.8 2.8 0 1 0 -5.5 0M52.3 66.1a2.9 2.9 0 1 0 5.7 0a2.9 2.9 0 1 0 -5.7 0M60.2 65.3a3.2 3.2 0 1 0 6.3 0a3.2 3.2 0 1 0 -6.3 0M69.7 65.2a2.7 2.7 0 1 0 5.5 0a2.7 2.7 0 1 0 -5.5 0M75.0 66.1a2.7 2.7 0 1 0 5.3 0a2.7 2.7 0 1 0 -5.3 0M82.1 66.8a3.3 3.3 0 1 0 6.6 0a3.3 3.3 0 1 0 -6.6 0M-2.8 73.1a2.8 2.8 0 1 0 5.6 0a2.8 2.8 0 1 0 -5.6 0M87.2 73.1a2.8 2.8 0 1 0 5.6 0a2.8 2.8 0 1 0 -5.6 0M4.9 72.6a3.1 3.1 0 1 0 6.2 0a3.1 3.1 0 1 0 -6.2 0M11.8 71.1a2.7 2.7 0 1 0 5.5 0a2.7 2.7 0 1 0 -5.5 0M20.2 72.5a3.0 3.0 0 1 0 6.1 0a3.0 3.0 0 1 0 -6.1 0M27.4 70.8a3.3 3.3 0 1 0 6.5 0a3.3 3.3 0 1 0 -6.5 0M35.1 72.5a2.8 2.8 0 1 0 5.5 0a2.8 2.8 0 1 0 -5.5 0M43.3 71.5a2.9 2.9 0 1 0 5.7 0a2.9 2.9 0 1 0 -5.7 0M50.6 72.1a3.2 3.2 0 1 0 6.3 0a3.2 3.2 0 1 0 -6.3 0M57.8 72.9a3.0 3.0 0 1 0 6.0 0a3.0 3.0 0 1 0 -6.0 0M63.9 72.1a2.8 2.8 0 1 0 5.5 0a2.8 2.8 0 1 0 -5.5 0M71.6 71.0a3.4 3.4 0 1 0 6.8 0a3.4 3.4 0 1 0 -6.8 0M79.2 72.6a3.1 3.1 0 1 0 6.2 0a3.1 3.1 0 1 0 -6.2 0M0.9 77.7a2.6 2.6 0 1 0 5.2 0a2.6 2.6 0 1 0 -5.2 0M9.4 76.9a2.8 2.8 0 1 0 5.5 0a2.8 2.8 0 1 0 -5.5 0M15.6 77.3a3.2 3.2 0 1 0 6.4 0a3.2 3.2 0 1 0 -6.4 0M23.8 78.0a3.4 3.4 0 1 0 6.8 0a3.4 3.4 0 1 0 -6.8 0M29.6 78.4a3.4 3.4 0 1 0 6.8 0a3.4 3.4 0 1 0 -6.8 0M37.0 78.5a3.1 3.1 0 1 0 6.2 0a3.1 3.1 0 1 0 -6.2 0M46.2 78.4a3.3 3.3 0 1 0 6.6 0a3.3 3.3 0 1 0 -6.6 0M53.1 78.2a2.6 2.6 0 1 0 5.2 0a2.6 2.6 0 1 0 -5.2 0M59.6 78.6a2.9 2.9 0 1 0 5.7 0a2.9 2.9 0 1 0 -5.7 0M68.7 77.0a3.1 3.1 0 1 0 6.2 0a3.1 3.1 0 1 0 -6.2 0M76.9 79.1a3.1 3.1 0 1 0 6.2 0a3.1 3.1 0 1 0 -6.2 0M81.9 77.9a3.1 3.1 0 1 0 6.3 0a3.1 3.1 0 1 0 -6.3 0M-2.9 84.7a2.9 2.9 0 1 0 5.8 0a2.9 2.9 0 1 0 -5.8 0M87.1 84.7a2.9 2.9 0 1 0 5.8 0a2.9 2.9 0 1 0 -5.8 0M5.1 84.6a3.1 3.1 0 1 0 6.3 0a3.1 3.1 0 1 0 -6.3 0M11.5 84.1a3.0 3.0 0 1 0 6.1 0a3.0 3.0 0 1 0 -6.1 0M18.4 83.2a3.1 3.1 0 1 0 6.3 0a3.1 3.1 0 1 0 -6.3 0M26.7 85.2a2.7 2.7 0 1 0 5.3 0a2.7 2.7 0 1 0 -5.3 0M33.9 83.4a2.6 2.6 0 1 0 5.3 0a2.6 2.6 0 1 0 -5.3 0M40.7 83.4a3.4 3.4 0 1 0 6.7 0a3.4 3.4 0 1 0 -6.7 0M49.5 84.1a2.7 2.7 0 1 0 5.3 0a2.7 2.7 0 1 0 -5.3 0M56.3 85.0a3.3 3.3 0 1 0 6.6 0a3.3 3.3 0 1 0 -6.6 0M64.1 84.7a3.3 3.3 0 1 0 6.5 0a3.3 3.3 0 1 0 -6.5 0M71.4 83.5a3.3 3.3 0 1 0 6.6 0a3.3 3.3 0 1 0 -6.6 0M79.0 84.7a2.8 2.8 0 1 0 5.6 0a2.8 2.8 0 1 0 -5.6 0"/>
<path id="dsp" d="M22.2 13.8a0.7 0.7 0 1 0 1.4 0a0.7 0.7 0 1 0 -1.4 0M53.9 34.7a0.9 0.9 0 1 0 1.9 0a0.9 0.9 0 1 0 -1.9 0M32.2 23.0a1.0 1.0 0 1 0 1.9 0a1.0 1.0 0 1 0 -1.9 0M33.7 46.9a0.9 0.9 0 1 0 1.9 0a0.9 0.9 0 1 0 -1.9 0M49.7 26.4a0.7 0.7 0 1 0 1.4 0a0.7 0.7 0 1 0 -1.4 0M8.3 43.4a0.7 0.7 0 1 0 1.4 0a0.7 0.7 0 1 0 -1.4 0M38.6 37.2a0.6 0.6 0 1 0 1.3 0a0.6 0.6 0 1 0 -1.3 0M46.0 2.0a1.0 1.0 0 1 0 2.1 0a1.0 1.0 0 1 0 -2.1 0M49.5 13.0a1.0 1.0 0 1 0 1.9 0a1.0 1.0 0 1 0 -1.9 0M43.0 7.5a0.9 0.9 0 1 0 1.9 0a0.9 0.9 0 1 0 -1.9 0M6.5 54.8a0.9 0.9 0 1 0 1.9 0a0.9 0.9 0 1 0 -1.9 0M58.0 3.2a0.8 0.8 0 1 0 1.5 0a0.8 0.8 0 1 0 -1.5 0M36.5 36.5a0.7 0.7 0 1 0 1.4 0a0.7 0.7 0 1 0 -1.4 0M52.5 50.8a0.8 0.8 0 1 0 1.5 0a0.8 0.8 0 1 0 -1.5 0M8.0 40.1a0.8 0.8 0 1 0 1.6 0a0.8 0.8 0 1 0 -1.6 0M39.0 29.6a0.8 0.8 0 1 0 1.6 0a0.8 0.8 0 1 0 -1.6 0M0.5 8.1a0.8 0.8 0 1 0 1.7 0a0.8 0.8 0 1 0 -1.7 0M42.7 25.5a1.0 1.0 0 1 0 1.9 0a1.0 1.0 0 1 0 -1.9 0M31.5 52.8a0.9 0.9 0 1 0 1.9 0a0.9 0.9 0 1 0 -1.9 0M18.7 8.3a0.6 0.6 0 1 0 1.3 0a0.6 0.6 0 1 0 -1.3 0M1.3 51.7a1.0 1.0 0 1 0 2.1 0a1.0 1.0 0 1 0 -2.1 0M44.2 36.5a0.8 0.8 0 1 0 1.6 0a0.8 0.8 0 1 0 -1.6 0M50.2 57.7a0.7 0.7 0 1 0 1.4 0a0.7 0.7 0 1 0 -1.4 0M25.3 44.0a0.9 0.9 0 1 0 1.9 0a0.9 0.9 0 1 0 -1.9 0M23.6 27.0a1.1 1.1 0 1 0 2.2 0a1.1 1.1 0 1 0 -2.2 0M15.6 12.7a0.9 0.9 0 1 0 1.9 0a0.9 0.9 0 1 0 -1.9 0M15.9 53.8a0.8 0.8 0 1 0 1.5 0a0.8 0.8 0 1 0 -1.5 0M54.4 22.8a1.0 1.0 0 1 0 2.1 0a1.0 1.0 0 1 0 -2.1 0M44.4 43.9a0.7 0.7 0 1 0 1.4 0a0.7 0.7 0 1 0 -1.4 0M9.2 1.9a0.7 0.7 0 1 0 1.4 0a0.7 0.7 0 1 0 -1.4 0M39.3 3.9a0.7 0.7 0 1 0 1.4 0a0.7 0.7 0 1 0 -1.4 0M33.3 9.3a0.8 0.8 0 1 0 1.5 0a0.8 0.8 0 1 0 -1.5 0M13.0 40.6a0.7 0.7 0 1 0 1.3 0a0.7 0.7 0 1 0 -1.3 0M58.9 35.9a1.0 1.0 0 1 0 1.9 0a1.0 1.0 0 1 0 -1.9 0M-1.1 35.9a1.0 1.0 0 1 0 1.9 0a1.0 1.0 0 1 0 -1.9 0M32.1 29.9a1.1 1.1 0 1 0 2.2 0a1.1 1.1 0 1 0 -2.2 0M34.5 56.5a0.9 0.9 0 1 0 1.8 0a0.9 0.9 0 1 0 -1.8 0M30.1 39.0a0.7 0.7 0 1 0 1.4 0a0.7 0.7 0 1 0 -1.4 0M43.0 47.0a0.6 0.6 0 1 0 1.3 0a0.6 0.6 0 1 0 -1.3 0M29.8 35.7a0.8 0.8 0 1 0 1.6 0a0.8 0.8 0 1 0 -1.6 0M39.8 55.3a1.1 1.1 0 1 0 2.1 0a1.1 1.1 0 1 0 -2.1 0M35.7 49.8a1.0 1.0 0 1 0 2.1 0a1.0 1.0 0 1 0 -2.1 0M16.0 35.2a0.8 0.8 0 1 0 1.5 0a0.8 0.8 0 1 0 -1.5 0M47.1 41.5a0.7 0.7 0 1 0 1.4 0a0.7 0.7 0 1 0 -1.4 0M10.3 28.5a0.6 0.6 0 1 0 1.3 0a0.6 0.6 0 1 0 -1.3 0M28.7 56.4a1.0 1.0 0 1 0 2.0 0a1.0 1.0 0 1 0 -2.0 0"/>
<path id="dxs" d="M9.2 41.4a0.7 0.7 0 1 0 1.4 0a0.7 0.7 0 1 0 -1.4 0M28.0 13.0a0.8 0.8 0 1 0 1.5 0a0.8 0.8 0 1 0 -1.5 0M47.8 30.7a0.7 0.7 0 1 0 1.3 0a0.7 0.7 0 1 0 -1.3 0M13.6 0.2a0.6 0.6 0 1 0 1.2 0a0.6 0.6 0 1 0 -1.2 0M13.6 60.2a0.6 0.6 0 1 0 1.2 0a0.6 0.6 0 1 0 -1.2 0M34.4 4.2a0.8 0.8 0 1 0 1.5 0a0.8 0.8 0 1 0 -1.5 0M13.5 14.0a0.5 0.5 0 1 0 0.9 0a0.5 0.5 0 1 0 -0.9 0M59.1 44.3a0.8 0.8 0 1 0 1.6 0a0.8 0.8 0 1 0 -1.6 0M-0.9 44.3a0.8 0.8 0 1 0 1.6 0a0.8 0.8 0 1 0 -1.6 0M36.4 2.0a0.6 0.6 0 1 0 1.2 0a0.6 0.6 0 1 0 -1.2 0M29.0 6.9a0.8 0.8 0 1 0 1.7 0a0.8 0.8 0 1 0 -1.7 0M21.3 9.3a0.8 0.8 0 1 0 1.6 0a0.8 0.8 0 1 0 -1.6 0M6.9 55.7a0.6 0.6 0 1 0 1.3 0a0.6 0.6 0 1 0 -1.3 0M32.5 20.6a0.6 0.6 0 1 0 1.3 0a0.6 0.6 0 1 0 -1.3 0M10.4 2.2a0.8 0.8 0 1 0 1.6 0a0.8 0.8 0 1 0 -1.6 0M13.6 46.8a0.5 0.5 0 1 0 1.1 0a0.5 0.5 0 1 0 -1.1 0M57.4 53.6a0.8 0.8 0 1 0 1.5 0a0.8 0.8 0 1 0 -1.5 0M45.0 34.8a0.7 0.7 0 1 0 1.5 0a0.7 0.7 0 1 0 -1.5 0M6.6 28.6a0.8 0.8 0 1 0 1.6 0a0.8 0.8 0 1 0 -1.6 0M11.3 55.4a0.8 0.8 0 1 0 1.6 0a0.8 0.8 0 1 0 -1.6 0M23.9 21.9a0.6 0.6 0 1 0 1.3 0a0.6 0.6 0 1 0 -1.3 0M22.5 59.7a0.6 0.6 0 1 0 1.2 0a0.6 0.6 0 1 0 -1.2 0M22.5 -0.3a0.6 0.6 0 1 0 1.2 0a0.6 0.6 0 1 0 -1.2 0M0.9 5.6a0.7 0.7 0 1 0 1.5 0a0.7 0.7 0 1 0 -1.5 0M58.9 29.8a0.6 0.6 0 1 0 1.3 0a0.6 0.6 0 1 0 -1.3 0M-1.1 29.8a0.6 0.6 0 1 0 1.3 0a0.6 0.6 0 1 0 -1.3 0M32.5 44.9a0.5 0.5 0 1 0 1.1 0a0.5 0.5 0 1 0 -1.1 0M35.8 33.4a0.7 0.7 0 1 0 1.4 0a0.7 0.7 0 1 0 -1.4 0M10.3 10.2a0.6 0.6 0 1 0 1.2 0a0.6 0.6 0 1 0 -1.2 0M54.9 20.8a0.7 0.7 0 1 0 1.4 0a0.7 0.7 0 1 0 -1.4 0M17.9 6.2a0.5 0.5 0 1 0 1.0 0a0.5 0.5 0 1 0 -1.0 0M48.2 46.6a0.6 0.6 0 1 0 1.2 0a0.6 0.6 0 1 0 -1.2 0M40.2 40.6a0.8 0.8 0 1 0 1.6 0a0.8 0.8 0 1 0 -1.6 0M56.7 24.4a0.8 0.8 0 1 0 1.7 0a0.8 0.8 0 1 0 -1.7 0M56.9 35.4a0.8 0.8 0 1 0 1.6 0a0.8 0.8 0 1 0 -1.6 0M28.9 22.5a0.5 0.5 0 1 0 1.1 0a0.5 0.5 0 1 0 -1.1 0M52.1 9.7a0.5 0.5 0 1 0 1.0 0a0.5 0.5 0 1 0 -1.0 0M49.7 3.1a0.6 0.6 0 1 0 1.1 0a0.6 0.6 0 1 0 -1.1 0M16.9 25.2a0.5 0.5 0 1 0 1.0 0a0.5 0.5 0 1 0 -1.0 0M3.4 20.3a0.8 0.8 0 1 0 1.6 0a0.8 0.8 0 1 0 -1.6 0M14.5 57.5a0.7 0.7 0 1 0 1.3 0a0.7 0.7 0 1 0 -1.3 0M43.2 1.7a0.5 0.5 0 1 0 1.1 0a0.5 0.5 0 1 0 -1.1 0M49.5 47.7a0.8 0.8 0 1 0 1.6 0a0.8 0.8 0 1 0 -1.6 0M35.4 25.6a0.7 0.7 0 1 0 1.4 0a0.7 0.7 0 1 0 -1.4 0M50.3 18.5a0.7 0.7 0 1 0 1.3 0a0.7 0.7 0 1 0 -1.3 0M16.1 46.1a0.5 0.5 0 1 0 0.9 0a0.5 0.5 0 1 0 -0.9 0M40.7 57.2a0.5 0.5 0 1 0 0.9 0a0.5 0.5 0 1 0 -0.9 0M34.8 38.6a0.8 0.8 0 1 0 1.6 0a0.8 0.8 0 1 0 -1.6 0M34.4 15.4a0.6 0.6 0 1 0 1.2 0a0.6 0.6 0 1 0 -1.2 0M5.2 5.6a0.5 0.5 0 1 0 0.9 0a0.5 0.5 0 1 0 -0.9 0M26.0 8.4a0.8 0.8 0 1 0 1.6 0a0.8 0.8 0 1 0 -1.6 0M38.7 7.6a0.7 0.7 0 1 0 1.3 0a0.7 0.7 0 1 0 -1.3 0M18.9 29.6a0.5 0.5 0 1 0 1.1 0a0.5 0.5 0 1 0 -1.1 0M9.4 11.0a0.6 0.6 0 1 0 1.2 0a0.6 0.6 0 1 0 -1.2 0M42.1 33.0a0.5 0.5 0 1 0 0.9 0a0.5 0.5 0 1 0 -0.9 0M41.9 52.4a0.8 0.8 0 1 0 1.5 0a0.8 0.8 0 1 0 -1.5 0M46.8 0.5a0.6 0.6 0 1 0 1.3 0a0.6 0.6 0 1 0 -1.3 0M46.8 60.5a0.6 0.6 0 1 0 1.3 0a0.6 0.6 0 1 0 -1.3 0M3.3 45.8a0.5 0.5 0 1 0 1.0 0a0.5 0.5 0 1 0 -1.0 0M42.0 15.2a0.7 0.7 0 1 0 1.5 0a0.7 0.7 0 1 0 -1.5 0M18.2 2.5a0.6 0.6 0 1 0 1.2 0a0.6 0.6 0 1 0 -1.2 0M18.0 54.0a0.6 0.6 0 1 0 1.1 0a0.6 0.6 0 1 0 -1.1 0M29.4 33.0a0.8 0.8 0 1 0 1.7 0a0.8 0.8 0 1 0 -1.7 0M5.3 36.1a0.7 0.7 0 1 0 1.3 0a0.7 0.7 0 1 0 -1.3 0M43.5 58.0a0.6 0.6 0 1 0 1.1 0a0.6 0.6 0 1 0 -1.1 0M41.3 31.5a0.7 0.7 0 1 0 1.3 0a0.7 0.7 0 1 0 -1.3 0M3.0 48.9a0.8 0.8 0 1 0 1.7 0a0.8 0.8 0 1 0 -1.7 0M20.5 19.1a0.8 0.8 0 1 0 1.7 0a0.8 0.8 0 1 0 -1.7 0M6.0 4.6a0.5 0.5 0 1 0 1.0 0a0.5 0.5 0 1 0 -1.0 0M26.0 31.0a0.6 0.6 0 1 0 1.2 0a0.6 0.6 0 1 0 -1.2 0M23.6 13.5a0.5 0.5 0 1 0 0.9 0a0.5 0.5 0 1 0 -0.9 0M25.3 14.8a0.7 0.7 0 1 0 1.5 0a0.7 0.7 0 1 0 -1.5 0M48.4 43.4a0.6 0.6 0 1 0 1.3 0a0.6 0.6 0 1 0 -1.3 0M13.5 23.1a0.6 0.6 0 1 0 1.3 0a0.6 0.6 0 1 0 -1.3 0M37.4 57.8a0.5 0.5 0 1 0 1.0 0a0.5 0.5 0 1 0 -1.0 0M28.0 29.5a0.7 0.7 0 1 0 1.5 0a0.7 0.7 0 1 0 -1.5 0M52.7 46.8a0.7 0.7 0 1 0 1.4 0a0.7 0.7 0 1 0 -1.4 0M44.7 40.1a0.8 0.8 0 1 0 1.6 0a0.8 0.8 0 1 0 -1.6 0M54.3 23.2a0.7 0.7 0 1 0 1.4 0a0.7 0.7 0 1 0 -1.4 0M48.6 57.8a0.8 0.8 0 1 0 1.7 0a0.8 0.8 0 1 0 -1.7 0M-0.2 18.8a0.6 0.6 0 1 0 1.1 0a0.6 0.6 0 1 0 -1.1 0M59.8 18.8a0.6 0.6 0 1 0 1.1 0a0.6 0.6 0 1 0 -1.1 0M22.8 8.7a0.7 0.7 0 1 0 1.3 0a0.7 0.7 0 1 0 -1.3 0M3.9 18.2a0.8 0.8 0 1 0 1.7 0a0.8 0.8 0 1 0 -1.7 0M44.0 27.7a0.5 0.5 0 1 0 1.0 0a0.5 0.5 0 1 0 -1.0 0M56.8 42.2a0.5 0.5 0 1 0 1.1 0a0.5 0.5 0 1 0 -1.1 0M19.4 38.5a0.7 0.7 0 1 0 1.4 0a0.7 0.7 0 1 0 -1.4 0M14.7 50.7a0.5 0.5 0 1 0 1.0 0a0.5 0.5 0 1 0 -1.0 0M40.2 12.0a0.7 0.7 0 1 0 1.4 0a0.7 0.7 0 1 0 -1.4 0M15.8 22.7a0.8 0.8 0 1 0 1.7 0a0.8 0.8 0 1 0 -1.7 0M27.3 26.2a0.7 0.7 0 1 0 1.4 0a0.7 0.7 0 1 0 -1.4 0M16.2 10.5a0.6 0.6 0 1 0 1.2 0a0.6 0.6 0 1 0 -1.2 0M1.2 48.6a0.8 0.8 0 1 0 1.6 0a0.8 0.8 0 1 0 -1.6 0M41.6 1.1a0.7 0.7 0 1 0 1.3 0a0.7 0.7 0 1 0 -1.3 0M1.6 36.5a0.7 0.7 0 1 0 1.5 0a0.7 0.7 0 1 0 -1.5 0M53.2 22.2a0.5 0.5 0 1 0 1.0 0a0.5 0.5 0 1 0 -1.0 0M46.8 49.3a0.7 0.7 0 1 0 1.3 0a0.7 0.7 0 1 0 -1.3 0M2.3 11.3a0.6 0.6 0 1 0 1.2 0a0.6 0.6 0 1 0 -1.2 0M32.3 13.5a0.8 0.8 0 1 0 1.5 0a0.8 0.8 0 1 0 -1.5 0M49.8 55.5a0.8 0.8 0 1 0 1.6 0a0.8 0.8 0 1 0 -1.6 0M0.6 34.9a0.5 0.5 0 1 0 1.0 0a0.5 0.5 0 1 0 -1.0 0M53.2 44.8a0.8 0.8 0 1 0 1.5 0a0.8 0.8 0 1 0 -1.5 0M35.8 37.2a0.6 0.6 0 1 0 1.3 0a0.6 0.6 0 1 0 -1.3 0M47.4 20.3a0.6 0.6 0 1 0 1.1 0a0.6 0.6 0 1 0 -1.1 0M52.9 4.3a0.5 0.5 0 1 0 1.0 0a0.5 0.5 0 1 0 -1.0 0M30.2 40.7a0.5 0.5 0 1 0 1.1 0a0.5 0.5 0 1 0 -1.1 0M15.7 3.5a0.5 0.5 0 1 0 0.9 0a0.5 0.5 0 1 0 -0.9 0M8.7 6.2a0.8 0.8 0 1 0 1.6 0a0.8 0.8 0 1 0 -1.6 0M31.6 24.5a0.7 0.7 0 1 0 1.5 0a0.7 0.7 0 1 0 -1.5 0M43.2 31.5a0.5 0.5 0 1 0 1.0 0a0.5 0.5 0 1 0 -1.0 0M49.2 12.8a0.5 0.5 0 1 0 0.9 0a0.5 0.5 0 1 0 -0.9 0M20.4 32.0a0.7 0.7 0 1 0 1.4 0a0.7 0.7 0 1 0 -1.4 0M9.8 42.6a0.6 0.6 0 1 0 1.3 0a0.6 0.6 0 1 0 -1.3 0M8.9 51.1a0.8 0.8 0 1 0 1.5 0a0.8 0.8 0 1 0 -1.5 0M53.8 40.8a0.5 0.5 0 1 0 1.1 0a0.5 0.5 0 1 0 -1.1 0M46.0 54.2a0.7 0.7 0 1 0 1.3 0a0.7 0.7 0 1 0 -1.3 0M53.9 58.2a0.6 0.6 0 1 0 1.2 0a0.6 0.6 0 1 0 -1.2 0M55.7 56.2a0.8 0.8 0 1 0 1.5 0a0.8 0.8 0 1 0 -1.5 0M-0.0 21.1a0.7 0.7 0 1 0 1.4 0a0.7 0.7 0 1 0 -1.4 0M60.0 21.1a0.7 0.7 0 1 0 1.4 0a0.7 0.7 0 1 0 -1.4 0M35.7 45.3a0.7 0.7 0 1 0 1.4 0a0.7 0.7 0 1 0 -1.4 0M9.0 55.8a0.7 0.7 0 1 0 1.3 0a0.7 0.7 0 1 0 -1.3 0M52.1 12.4a0.8 0.8 0 1 0 1.7 0a0.8 0.8 0 1 0 -1.7 0M32.5 46.5a0.7 0.7 0 1 0 1.5 0a0.7 0.7 0 1 0 -1.5 0M23.7 10.7a0.7 0.7 0 1 0 1.3 0a0.7 0.7 0 1 0 -1.3 0M48.4 21.7a0.5 0.5 0 1 0 1.0 0a0.5 0.5 0 1 0 -1.0 0M0.9 25.4a0.7 0.7 0 1 0 1.4 0a0.7 0.7 0 1 0 -1.4 0M1.0 39.9a0.5 0.5 0 1 0 1.1 0a0.5 0.5 0 1 0 -1.1 0M53.2 30.8a0.5 0.5 0 1 0 1.0 0a0.5 0.5 0 1 0 -1.0 0M13.7 25.5a0.7 0.7 0 1 0 1.4 0a0.7 0.7 0 1 0 -1.4 0M45.5 45.1a0.7 0.7 0 1 0 1.4 0a0.7 0.7 0 1 0 -1.4 0M28.7 15.9a0.7 0.7 0 1 0 1.3 0a0.7 0.7 0 1 0 -1.3 0M26.7 2.1a0.8 0.8 0 1 0 1.6 0a0.8 0.8 0 1 0 -1.6 0M34.4 48.2a0.7 0.7 0 1 0 1.5 0a0.7 0.7 0 1 0 -1.5 0M43.2 59.6a0.6 0.6 0 1 0 1.2 0a0.6 0.6 0 1 0 -1.2 0M43.2 -0.4a0.6 0.6 0 1 0 1.2 0a0.6 0.6 0 1 0 -1.2 0M34.0 34.6a0.8 0.8 0 1 0 1.7 0a0.8 0.8 0 1 0 -1.7 0M11.1 13.6a0.7 0.7 0 1 0 1.5 0a0.7 0.7 0 1 0 -1.5 0M48.3 29.0a0.5 0.5 0 1 0 0.9 0a0.5 0.5 0 1 0 -0.9 0M21.6 49.6a0.6 0.6 0 1 0 1.3 0a0.6 0.6 0 1 0 -1.3 0M27.0 23.4a0.7 0.7 0 1 0 1.4 0a0.7 0.7 0 1 0 -1.4 0M35.1 41.6a0.8 0.8 0 1 0 1.6 0a0.8 0.8 0 1 0 -1.6 0M44.5 22.5a0.6 0.6 0 1 0 1.1 0a0.6 0.6 0 1 0 -1.1 0M46.1 47.6a0.8 0.8 0 1 0 1.6 0a0.8 0.8 0 1 0 -1.6 0M11.1 50.9a0.8 0.8 0 1 0 1.6 0a0.8 0.8 0 1 0 -1.6 0M8.2 49.9a0.6 0.6 0 1 0 1.1 0a0.6 0.6 0 1 0 -1.1 0M40.4 17.7a0.5 0.5 0 1 0 1.1 0a0.5 0.5 0 1 0 -1.1 0M11.7 29.9a0.7 0.7 0 1 0 1.5 0a0.7 0.7 0 1 0 -1.5 0M12.5 41.2a0.6 0.6 0 1 0 1.2 0a0.6 0.6 0 1 0 -1.2 0M38.4 22.1a0.5 0.5 0 1 0 1.1 0a0.5 0.5 0 1 0 -1.1 0M7.7 3.5a0.7 0.7 0 1 0 1.5 0a0.7 0.7 0 1 0 -1.5 0M24.0 7.4a0.8 0.8 0 1 0 1.6 0a0.8 0.8 0 1 0 -1.6 0M38.5 1.3a0.7 0.7 0 1 0 1.5 0a0.7 0.7 0 1 0 -1.5 0M57.0 22.4a0.7 0.7 0 1 0 1.4 0a0.7 0.7 0 1 0 -1.4 0M44.7 38.1a0.6 0.6 0 1 0 1.3 0a0.6 0.6 0 1 0 -1.3 0M30.1 13.4a0.8 0.8 0 1 0 1.5 0a0.8 0.8 0 1 0 -1.5 0M0.6 38.6a0.6 0.6 0 1 0 1.3 0a0.6 0.6 0 1 0 -1.3 0M12.6 35.2a0.7 0.7 0 1 0 1.4 0a0.7 0.7 0 1 0 -1.4 0M4.7 29.4a0.5 0.5 0 1 0 1.0 0a0.5 0.5 0 1 0 -1.0 0M12.4 2.9a0.5 0.5 0 1 0 1.0 0a0.5 0.5 0 1 0 -1.0 0M8.3 37.5a0.8 0.8 0 1 0 1.6 0a0.8 0.8 0 1 0 -1.6 0M12.6 6.7a0.7 0.7 0 1 0 1.3 0a0.7 0.7 0 1 0 -1.3 0M6.2 24.3a0.8 0.8 0 1 0 1.5 0a0.8 0.8 0 1 0 -1.5 0M11.5 42.0a0.7 0.7 0 1 0 1.3 0a0.7 0.7 0 1 0 -1.3 0M4.4 14.6a0.7 0.7 0 1 0 1.4 0a0.7 0.7 0 1 0 -1.4 0M5.1 12.2a0.7 0.7 0 1 0 1.4 0a0.7 0.7 0 1 0 -1.4 0M1.3 29.9a0.8 0.8 0 1 0 1.6 0a0.8 0.8 0 1 0 -1.6 0M54.7 4.8a0.8 0.8 0 1 0 1.7 0a0.8 0.8 0 1 0 -1.7 0M45.9 43.2a0.7 0.7 0 1 0 1.3 0a0.7 0.7 0 1 0 -1.3 0M9.1 20.5a0.7 0.7 0 1 0 1.4 0a0.7 0.7 0 1 0 -1.4 0M38.6 23.4a0.8 0.8 0 1 0 1.5 0a0.8 0.8 0 1 0 -1.5 0M2.7 17.2a0.5 0.5 0 1 0 1.0 0a0.5 0.5 0 1 0 -1.0 0M18.7 47.6a0.8 0.8 0 1 0 1.5 0a0.8 0.8 0 1 0 -1.5 0M8.5 18.5a0.5 0.5 0 1 0 1.0 0a0.5 0.5 0 1 0 -1.0 0M39.2 26.6a0.5 0.5 0 1 0 1.1 0a0.5 0.5 0 1 0 -1.1 0M21.8 51.9a0.6 0.6 0 1 0 1.2 0a0.6 0.6 0 1 0 -1.2 0M40.8 37.7a0.6 0.6 0 1 0 1.3 0a0.6 0.6 0 1 0 -1.3 0M32.9 21.8a0.5 0.5 0 1 0 1.1 0a0.5 0.5 0 1 0 -1.1 0M29.1 18.3a0.6 0.6 0 1 0 1.2 0a0.6 0.6 0 1 0 -1.2 0M51.4 20.2a0.7 0.7 0 1 0 1.4 0a0.7 0.7 0 1 0 -1.4 0M13.2 39.0a0.6 0.6 0 1 0 1.3 0a0.6 0.6 0 1 0 -1.3 0M16.0 35.7a0.8 0.8 0 1 0 1.6 0a0.8 0.8 0 1 0 -1.6 0M40.9 28.8a0.6 0.6 0 1 0 1.2 0a0.6 0.6 0 1 0 -1.2 0M53.0 50.8a0.5 0.5 0 1 0 1.0 0a0.5 0.5 0 1 0 -1.0 0M40.0 46.3a0.7 0.7 0 1 0 1.4 0a0.7 0.7 0 1 0 -1.4 0M59.2 19.7a0.6 0.6 0 1 0 1.2 0a0.6 0.6 0 1 0 -1.2 0M-0.8 19.7a0.6 0.6 0 1 0 1.2 0a0.6 0.6 0 1 0 -1.2 0M58.0 10.0a0.6 0.6 0 1 0 1.2 0a0.6 0.6 0 1 0 -1.2 0M37.0 16.4a0.6 0.6 0 1 0 1.1 0a0.6 0.6 0 1 0 -1.1 0M46.9 36.8a0.7 0.7 0 1 0 1.5 0a0.7 0.7 0 1 0 -1.5 0M46.6 52.3a0.8 0.8 0 1 0 1.6 0a0.8 0.8 0 1 0 -1.6 0M17.1 7.8a0.6 0.6 0 1 0 1.2 0a0.6 0.6 0 1 0 -1.2 0M7.7 0.2a0.5 0.5 0 1 0 1.0 0a0.5 0.5 0 1 0 -1.0 0M7.7 60.2a0.5 0.5 0 1 0 1.0 0a0.5 0.5 0 1 0 -1.0 0M26.8 45.8a0.5 0.5 0 1 0 0.9 0a0.5 0.5 0 1 0 -0.9 0M37.5 6.7a0.7 0.7 0 1 0 1.3 0a0.7 0.7 0 1 0 -1.3 0M17.0 26.8a0.7 0.7 0 1 0 1.5 0a0.7 0.7 0 1 0 -1.5 0M24.1 23.5a0.7 0.7 0 1 0 1.5 0a0.7 0.7 0 1 0 -1.5 0M6.2 20.9a0.7 0.7 0 1 0 1.5 0a0.7 0.7 0 1 0 -1.5 0M36.8 18.8a0.7 0.7 0 1 0 1.5 0a0.7 0.7 0 1 0 -1.5 0M50.2 8.1a0.6 0.6 0 1 0 1.2 0a0.6 0.6 0 1 0 -1.2 0M48.3 16.7a0.8 0.8 0 1 0 1.5 0a0.8 0.8 0 1 0 -1.5 0M20.3 12.8a0.5 0.5 0 1 0 0.9 0a0.5 0.5 0 1 0 -0.9 0M47.5 10.4a0.7 0.7 0 1 0 1.4 0a0.7 0.7 0 1 0 -1.4 0M32.5 51.0a0.8 0.8 0 1 0 1.6 0a0.8 0.8 0 1 0 -1.6 0M36.5 10.1a0.8 0.8 0 1 0 1.5 0a0.8 0.8 0 1 0 -1.5 0M5.3 55.7a0.6 0.6 0 1 0 1.1 0a0.6 0.6 0 1 0 -1.1 0M14.6 13.0a0.6 0.6 0 1 0 1.2 0a0.6 0.6 0 1 0 -1.2 0M43.2 14.6a0.6 0.6 0 1 0 1.2 0a0.6 0.6 0 1 0 -1.2 0M58.9 5.0a0.8 0.8 0 1 0 1.7 0a0.8 0.8 0 1 0 -1.7 0M-1.1 5.0a0.8 0.8 0 1 0 1.7 0a0.8 0.8 0 1 0 -1.7 0M54.4 27.7a0.7 0.7 0 1 0 1.5 0a0.7 0.7 0 1 0 -1.5 0M46.4 11.2a0.7 0.7 0 1 0 1.4 0a0.7 0.7 0 1 0 -1.4 0M4.4 42.9a0.6 0.6 0 1 0 1.3 0a0.6 0.6 0 1 0 -1.3 0M53.9 10.0a0.7 0.7 0 1 0 1.3 0a0.7 0.7 0 1 0 -1.3 0M6.5 48.3a0.7 0.7 0 1 0 1.5 0a0.7 0.7 0 1 0 -1.5 0M1.4 18.6a0.5 0.5 0 1 0 1.0 0a0.5 0.5 0 1 0 -1.0 0M37.7 37.8a0.5 0.5 0 1 0 1.0 0a0.5 0.5 0 1 0 -1.0 0M56.4 57.9a0.6 0.6 0 1 0 1.3 0a0.6 0.6 0 1 0 -1.3 0M23.2 26.4a0.7 0.7 0 1 0 1.5 0a0.7 0.7 0 1 0 -1.5 0M10.4 17.9a0.8 0.8 0 1 0 1.5 0a0.8 0.8 0 1 0 -1.5 0M12.7 4.1a0.8 0.8 0 1 0 1.6 0a0.8 0.8 0 1 0 -1.6 0M9.0 24.7a0.6 0.6 0 1 0 1.2 0a0.6 0.6 0 1 0 -1.2 0M15.0 21.1a0.7 0.7 0 1 0 1.3 0a0.7 0.7 0 1 0 -1.3 0M6.5 32.0a0.5 0.5 0 1 0 0.9 0a0.5 0.5 0 1 0 -0.9 0M19.7 17.5a0.8 0.8 0 1 0 1.6 0a0.8 0.8 0 1 0 -1.6 0M38.7 28.4a0.8 0.8 0 1 0 1.5 0a0.8 0.8 0 1 0 -1.5 0M40.5 18.9a0.7 0.7 0 1 0 1.4 0a0.7 0.7 0 1 0 -1.4 0M44.0 32.1a0.8 0.8 0 1 0 1.5 0a0.8 0.8 0 1 0 -1.5 0M37.4 55.7a0.6 0.6 0 1 0 1.1 0a0.6 0.6 0 1 0 -1.1 0M39.6 58.6a0.7 0.7 0 1 0 1.3 0a0.7 0.7 0 1 0 -1.3 0M53.6 5.7a0.7 0.7 0 1 0 1.5 0a0.7 0.7 0 1 0 -1.5 0M15.3 45.0a0.6 0.6 0 1 0 1.2 0a0.6 0.6 0 1 0 -1.2 0M31.5 14.9a0.6 0.6 0 1 0 1.1 0a0.6 0.6 0 1 0 -1.1 0M51.2 38.6a0.7 0.7 0 1 0 1.4 0a0.7 0.7 0 1 0 -1.4 0M6.1 17.6a0.8 0.8 0 1 0 1.7 0a0.8 0.8 0 1 0 -1.7 0M11.5 32.3a0.7 0.7 0 1 0 1.5 0a0.7 0.7 0 1 0 -1.5 0M46.3 14.2a0.6 0.6 0 1 0 1.2 0a0.6 0.6 0 1 0 -1.2 0M24.5 41.0a0.7 0.7 0 1 0 1.4 0a0.7 0.7 0 1 0 -1.4 0M15.0 41.5a0.6 0.6 0 1 0 1.2 0a0.6 0.6 0 1 0 -1.2 0M0.3 17.5a0.6 0.6 0 1 0 1.2 0a0.6 0.6 0 1 0 -1.2 0M11.0 40.2a0.8 0.8 0 1 0 1.7 0a0.8 0.8 0 1 0 -1.7 0M55.1 37.8a0.8 0.8 0 1 0 1.6 0a0.8 0.8 0 1 0 -1.6 0M28.7 35.2a0.8 0.8 0 1 0 1.6 0a0.8 0.8 0 1 0 -1.6 0M3.0 21.7a0.6 0.6 0 1 0 1.2 0a0.6 0.6 0 1 0 -1.2 0M20.0 25.7a0.5 0.5 0 1 0 0.9 0a0.5 0.5 0 1 0 -0.9 0M10.4 20.1a0.8 0.8 0 1 0 1.5 0a0.8 0.8 0 1 0 -1.5 0M35.0 43.3a0.7 0.7 0 1 0 1.4 0a0.7 0.7 0 1 0 -1.4 0M4.3 57.4a0.8 0.8 0 1 0 1.6 0a0.8 0.8 0 1 0 -1.6 0M28.2 51.6a0.7 0.7 0 1 0 1.4 0a0.7 0.7 0 1 0 -1.4 0M10.5 35.2a0.7 0.7 0 1 0 1.4 0a0.7 0.7 0 1 0 -1.4 0M20.0 40.3a0.5 0.5 0 1 0 1.1 0a0.5 0.5 0 1 0 -1.1 0M30.3 10.8a0.5 0.5 0 1 0 1.0 0a0.5 0.5 0 1 0 -1.0 0M19.6 6.9a0.6 0.6 0 1 0 1.2 0a0.6 0.6 0 1 0 -1.2 0M38.4 32.9a0.8 0.8 0 1 0 1.5 0a0.8 0.8 0 1 0 -1.5 0M27.9 5.0a0.7 0.7 0 1 0 1.5 0a0.7 0.7 0 1 0 -1.5 0M23.3 45.1a0.8 0.8 0 1 0 1.7 0a0.8 0.8 0 1 0 -1.7 0M23.1 39.4a0.8 0.8 0 1 0 1.6 0a0.8 0.8 0 1 0 -1.6 0M44.9 53.0a0.8 0.8 0 1 0 1.5 0a0.8 0.8 0 1 0 -1.5 0M47.1 42.5a0.6 0.6 0 1 0 1.1 0a0.6 0.6 0 1 0 -1.1 0M24.8 46.9a0.8 0.8 0 1 0 1.6 0a0.8 0.8 0 1 0 -1.6 0M46.1 22.8a0.6 0.6 0 1 0 1.2 0a0.6 0.6 0 1 0 -1.2 0M56.2 54.3a0.5 0.5 0 1 0 1.1 0a0.5 0.5 0 1 0 -1.1 0M21.0 47.3a0.8 0.8 0 1 0 1.5 0a0.8 0.8 0 1 0 -1.5 0M4.7 16.4a0.7 0.7 0 1 0 1.4 0a0.7 0.7 0 1 0 -1.4 0M53.8 56.8a0.6 0.6 0 1 0 1.3 0a0.6 0.6 0 1 0 -1.3 0M46.8 58.3a0.6 0.6 0 1 0 1.2 0a0.6 0.6 0 1 0 -1.2 0M12.9 15.6a0.8 0.8 0 1 0 1.5 0a0.8 0.8 0 1 0 -1.5 0M7.6 32.8a0.8 0.8 0 1 0 1.6 0a0.8 0.8 0 1 0 -1.6 0M11.4 37.7a0.7 0.7 0 1 0 1.3 0a0.7 0.7 0 1 0 -1.3 0M57.3 30.8a0.6 0.6 0 1 0 1.3 0a0.6 0.6 0 1 0 -1.3 0M47.4 23.9a0.8 0.8 0 1 0 1.7 0a0.8 0.8 0 1 0 -1.7 0M57.2 29.6a0.6 0.6 0 1 0 1.2 0a0.6 0.6 0 1 0 -1.2 0M9.6 43.8a0.5 0.5 0 1 0 0.9 0a0.5 0.5 0 1 0 -0.9 0M35.2 35.9a0.7 0.7 0 1 0 1.5 0a0.7 0.7 0 1 0 -1.5 0M33.5 55.6a0.6 0.6 0 1 0 1.1 0a0.6 0.6 0 1 0 -1.1 0M5.0 35.0a0.6 0.6 0 1 0 1.1 0a0.6 0.6 0 1 0 -1.1 0M58.6 55.3a0.7 0.7 0 1 0 1.5 0a0.7 0.7 0 1 0 -1.5 0M-1.4 55.3a0.7 0.7 0 1 0 1.5 0a0.7 0.7 0 1 0 -1.5 0M49.4 14.7a0.6 0.6 0 1 0 1.3 0a0.6 0.6 0 1 0 -1.3 0M22.4 20.7a0.6 0.6 0 1 0 1.2 0a0.6 0.6 0 1 0 -1.2 0M28.2 39.2a0.5 0.5 0 1 0 0.9 0a0.5 0.5 0 1 0 -0.9 0M31.5 7.7a0.8 0.8 0 1 0 1.7 0a0.8 0.8 0 1 0 -1.7 0M32.5 35.4a0.6 0.6 0 1 0 1.2 0a0.6 0.6 0 1 0 -1.2 0M41.5 42.6a0.8 0.8 0 1 0 1.6 0a0.8 0.8 0 1 0 -1.6 0M2.4 44.6a0.6 0.6 0 1 0 1.1 0a0.6 0.6 0 1 0 -1.1 0M42.5 7.9a0.7 0.7 0 1 0 1.4 0a0.7 0.7 0 1 0 -1.4 0M50.2 23.3a0.7 0.7 0 1 0 1.3 0a0.7 0.7 0 1 0 -1.3 0M20.0 28.5a0.8 0.8 0 1 0 1.5 0a0.8 0.8 0 1 0 -1.5 0M14.3 29.1a0.7 0.7 0 1 0 1.4 0a0.7 0.7 0 1 0 -1.4 0M12.4 9.4a0.6 0.6 0 1 0 1.3 0a0.6 0.6 0 1 0 -1.3 0M9.2 31.8a0.6 0.6 0 1 0 1.3 0a0.6 0.6 0 1 0 -1.3 0M15.0 55.1a0.5 0.5 0 1 0 1.0 0a0.5 0.5 0 1 0 -1.0 0M14.9 2.4a0.7 0.7 0 1 0 1.4 0a0.7 0.7 0 1 0 -1.4 0M38.6 13.4a0.8 0.8 0 1 0 1.6 0a0.8 0.8 0 1 0 -1.6 0M37.3 12.1a0.8 0.8 0 1 0 1.7 0a0.8 0.8 0 1 0 -1.7 0M56.7 17.9a0.6 0.6 0 1 0 1.2 0a0.6 0.6 0 1 0 -1.2 0M11.9 49.2a0.5 0.5 0 1 0 1.0 0a0.5 0.5 0 1 0 -1.0 0M50.2 20.5a0.7 0.7 0 1 0 1.3 0a0.7 0.7 0 1 0 -1.3 0M51.9 16.0a0.7 0.7 0 1 0 1.3 0a0.7 0.7 0 1 0 -1.3 0M37.5 34.7a0.6 0.6 0 1 0 1.2 0a0.6 0.6 0 1 0 -1.2 0M38.2 18.9a0.5 0.5 0 1 0 1.0 0a0.5 0.5 0 1 0 -1.0 0M-0.1 36.3a0.7 0.7 0 1 0 1.4 0a0.7 0.7 0 1 0 -1.4 0M59.9 36.3a0.7 0.7 0 1 0 1.4 0a0.7 0.7 0 1 0 -1.4 0M30.4 26.1a0.7 0.7 0 1 0 1.4 0a0.7 0.7 0 1 0 -1.4 0M8.2 52.4a0.7 0.7 0 1 0 1.3 0a0.7 0.7 0 1 0 -1.3 0M58.2 25.6a0.6 0.6 0 1 0 1.1 0a0.6 0.6 0 1 0 -1.1 0M55.7 17.1a0.5 0.5 0 1 0 0.9 0a0.5 0.5 0 1 0 -0.9 0M19.9 10.5a0.7 0.7 0 1 0 1.5 0a0.7 0.7 0 1 0 -1.5 0M36.1 22.6a0.5 0.5 0 1 0 1.0 0a0.5 0.5 0 1 0 -1.0 0M52.3 48.4a0.8 0.8 0 1 0 1.5 0a0.8 0.8 0 1 0 -1.5 0M50.7 33.1a0.8 0.8 0 1 0 1.7 0a0.8 0.8 0 1 0 -1.7 0M27.9 58.8a0.5 0.5 0 1 0 1.0 0a0.5 0.5 0 1 0 -1.0 0M21.9 34.3a0.8 0.8 0 1 0 1.6 0a0.8 0.8 0 1 0 -1.6 0M30.6 47.4a0.6 0.6 0 1 0 1.2 0a0.6 0.6 0 1 0 -1.2 0M39.9 47.8a0.7 0.7 0 1 0 1.4 0a0.7 0.7 0 1 0 -1.4 0M3.7 36.9a0.6 0.6 0 1 0 1.2 0a0.6 0.6 0 1 0 -1.2 0M36.9 4.6a0.5 0.5 0 1 0 0.9 0a0.5 0.5 0 1 0 -0.9 0M4.1 53.5a0.6 0.6 0 1 0 1.3 0a0.6 0.6 0 1 0 -1.3 0M36.0 8.0a0.7 0.7 0 1 0 1.4 0a0.7 0.7 0 1 0 -1.4 0M50.2 59.5a0.7 0.7 0 1 0 1.4 0a0.7 0.7 0 1 0 -1.4 0M50.2 -0.5a0.7 0.7 0 1 0 1.4 0a0.7 0.7 0 1 0 -1.4 0M37.9 20.7a0.8 0.8 0 1 0 1.5 0a0.8 0.8 0 1 0 -1.5 0M17.9 37.4a0.7 0.7 0 1 0 1.4 0a0.7 0.7 0 1 0 -1.4 0M58.9 47.2a0.5 0.5 0 1 0 1.0 0a0.5 0.5 0 1 0 -1.0 0M10.0 21.4a0.6 0.6 0 1 0 1.2 0a0.6 0.6 0 1 0 -1.2 0M26.4 18.3a0.7 0.7 0 1 0 1.4 0a0.7 0.7 0 1 0 -1.4 0M25.5 58.8a0.5 0.5 0 1 0 1.0 0a0.5 0.5 0 1 0 -1.0 0M53.3 38.2a0.6 0.6 0 1 0 1.3 0a0.6 0.6 0 1 0 -1.3 0M3.9 38.8a0.8 0.8 0 1 0 1.5 0a0.8 0.8 0 1 0 -1.5 0M20.3 42.8a0.7 0.7 0 1 0 1.3 0a0.7 0.7 0 1 0 -1.3 0M4.8 51.6a0.6 0.6 0 1 0 1.1 0a0.6 0.6 0 1 0 -1.1 0M28.0 45.7a0.8 0.8 0 1 0 1.6 0a0.8 0.8 0 1 0 -1.6 0M50.4 22.1a0.8 0.8 0 1 0 1.6 0a0.8 0.8 0 1 0 -1.6 0M51.2 43.3a0.7 0.7 0 1 0 1.4 0a0.7 0.7 0 1 0 -1.4 0M35.5 26.8a0.5 0.5 0 1 0 1.0 0a0.5 0.5 0 1 0 -1.0 0M26.3 33.8a0.5 0.5 0 1 0 1.0 0a0.5 0.5 0 1 0 -1.0 0M50.6 4.3a0.6 0.6 0 1 0 1.2 0a0.6 0.6 0 1 0 -1.2 0M35.3 28.8a0.6 0.6 0 1 0 1.2 0a0.6 0.6 0 1 0 -1.2 0M28.5 3.8a0.6 0.6 0 1 0 1.1 0a0.6 0.6 0 1 0 -1.1 0M32.3 11.7a0.7 0.7 0 1 0 1.4 0a0.7 0.7 0 1 0 -1.4 0M31.5 39.2a0.8 0.8 0 1 0 1.6 0a0.8 0.8 0 1 0 -1.6 0M47.2 59.3a0.5 0.5 0 1 0 1.1 0a0.5 0.5 0 1 0 -1.1 0M56.6 26.7a0.6 0.6 0 1 0 1.2 0a0.6 0.6 0 1 0 -1.2 0M26.5 55.3a0.8 0.8 0 1 0 1.7 0a0.8 0.8 0 1 0 -1.7 0M47.8 18.1a0.5 0.5 0 1 0 1.0 0a0.5 0.5 0 1 0 -1.0 0M3.1 0.2a0.8 0.8 0 1 0 1.7 0a0.8 0.8 0 1 0 -1.7 0M3.1 60.2a0.8 0.8 0 1 0 1.7 0a0.8 0.8 0 1 0 -1.7 0M19.6 2.5a0.6 0.6 0 1 0 1.3 0a0.6 0.6 0 1 0 -1.3 0M5.2 48.9a0.7 0.7 0 1 0 1.3 0a0.7 0.7 0 1 0 -1.3 0M36.2 55.6a0.5 0.5 0 1 0 1.0 0a0.5 0.5 0 1 0 -1.0 0M12.2 47.2a0.7 0.7 0 1 0 1.4 0a0.7 0.7 0 1 0 -1.4 0M25.6 21.4a0.7 0.7 0 1 0 1.4 0a0.7 0.7 0 1 0 -1.4 0M58.2 7.9a0.5 0.5 0 1 0 0.9 0a0.5 0.5 0 1 0 -0.9 0M7.3 12.3a0.8 0.8 0 1 0 1.6 0a0.8 0.8 0 1 0 -1.6 0M48.1 8.4a0.8 0.8 0 1 0 1.7 0a0.8 0.8 0 1 0 -1.7 0M21.6 43.6a0.7 0.7 0 1 0 1.4 0a0.7 0.7 0 1 0 -1.4 0M51.0 29.4a0.5 0.5 0 1 0 0.9 0a0.5 0.5 0 1 0 -0.9 0M49.0 26.8a0.6 0.6 0 1 0 1.2 0a0.6 0.6 0 1 0 -1.2 0M20.9 13.7a0.7 0.7 0 1 0 1.3 0a0.7 0.7 0 1 0 -1.3 0M6.9 39.5a0.8 0.8 0 1 0 1.7 0a0.8 0.8 0 1 0 -1.7 0M16.8 16.2a0.6 0.6 0 1 0 1.2 0a0.6 0.6 0 1 0 -1.2 0M32.0 58.8a0.5 0.5 0 1 0 1.0 0a0.5 0.5 0 1 0 -1.0 0M14.1 53.8a0.6 0.6 0 1 0 1.1 0a0.6 0.6 0 1 0 -1.1 0M39.6 43.3a0.5 0.5 0 1 0 0.9 0a0.5 0.5 0 1 0 -0.9 0M0.8 45.5a0.8 0.8 0 1 0 1.6 0a0.8 0.8 0 1 0 -1.6 0M31.0 6.6a0.6 0.6 0 1 0 1.2 0a0.6 0.6 0 1 0 -1.2 0M16.6 13.3a0.5 0.5 0 1 0 1.0 0a0.5 0.5 0 1 0 -1.0 0M0.8 7.6a0.8 0.8 0 1 0 1.7 0a0.8 0.8 0 1 0 -1.7 0M1.4 43.0a0.6 0.6 0 1 0 1.3 0a0.6 0.6 0 1 0 -1.3 0M34.4 18.3a0.8 0.8 0 1 0 1.7 0a0.8 0.8 0 1 0 -1.7 0M34.9 5.4a0.5 0.5 0 1 0 1.1 0a0.5 0.5 0 1 0 -1.1 0M42.0 25.3a0.7 0.7 0 1 0 1.5 0a0.7 0.7 0 1 0 -1.5 0M23.0 56.5a0.5 0.5 0 1 0 1.1 0a0.5 0.5 0 1 0 -1.1 0M36.8 14.0a0.7 0.7 0 1 0 1.3 0a0.7 0.7 0 1 0 -1.3 0M29.4 57.8a0.5 0.5 0 1 0 0.9 0a0.5 0.5 0 1 0 -0.9 0M44.7 46.8a0.5 0.5 0 1 0 1.0 0a0.5 0.5 0 1 0 -1.0 0M30.6 17.9a0.7 0.7 0 1 0 1.4 0a0.7 0.7 0 1 0 -1.4 0M-0.2 48.1a0.6 0.6 0 1 0 1.1 0a0.6 0.6 0 1 0 -1.1 0M59.8 48.1a0.6 0.6 0 1 0 1.1 0a0.6 0.6 0 1 0 -1.1 0M53.3 36.4a0.6 0.6 0 1 0 1.3 0a0.6 0.6 0 1 0 -1.3 0M53.1 40.0a0.6 0.6 0 1 0 1.2 0a0.6 0.6 0 1 0 -1.2 0M35.4 20.6a0.8 0.8 0 1 0 1.6 0a0.8 0.8 0 1 0 -1.6 0M44.7 12.2a0.6 0.6 0 1 0 1.2 0a0.6 0.6 0 1 0 -1.2 0M17.5 47.6a0.5 0.5 0 1 0 1.0 0a0.5 0.5 0 1 0 -1.0 0M54.3 55.3a0.8 0.8 0 1 0 1.5 0a0.8 0.8 0 1 0 -1.5 0M13.7 17.4a0.6 0.6 0 1 0 1.3 0a0.6 0.6 0 1 0 -1.3 0M27.5 36.4a0.8 0.8 0 1 0 1.6 0a0.8 0.8 0 1 0 -1.6 0M48.8 24.9a0.6 0.6 0 1 0 1.3 0a0.6 0.6 0 1 0 -1.3 0M46.7 15.4a0.6 0.6 0 1 0 1.1 0a0.6 0.6 0 1 0 -1.1 0M51.5 52.9a0.8 0.8 0 1 0 1.6 0a0.8 0.8 0 1 0 -1.6 0M20.1 20.6a0.5 0.5 0 1 0 1.0 0a0.5 0.5 0 1 0 -1.0 0M0.6 27.4a0.8 0.8 0 1 0 1.7 0a0.8 0.8 0 1 0 -1.7 0M41.6 21.4a0.5 0.5 0 1 0 1.0 0a0.5 0.5 0 1 0 -1.0 0M41.0 54.0a0.5 0.5 0 1 0 1.0 0a0.5 0.5 0 1 0 -1.0 0M3.0 24.4a0.8 0.8 0 1 0 1.6 0a0.8 0.8 0 1 0 -1.6 0M2.9 8.3a0.7 0.7 0 1 0 1.4 0a0.7 0.7 0 1 0 -1.4 0M45.2 27.1a0.5 0.5 0 1 0 0.9 0a0.5 0.5 0 1 0 -0.9 0M32.6 6.0a0.5 0.5 0 1 0 1.0 0a0.5 0.5 0 1 0 -1.0 0M2.9 56.2a0.5 0.5 0 1 0 1.0 0a0.5 0.5 0 1 0 -1.0 0M28.0 49.3a0.5 0.5 0 1 0 1.1 0a0.5 0.5 0 1 0 -1.1 0M22.7 47.6a0.7 0.7 0 1 0 1.4 0a0.7 0.7 0 1 0 -1.4 0M3.0 30.2a0.5 0.5 0 1 0 0.9 0a0.5 0.5 0 1 0 -0.9 0M51.9 25.5a0.8 0.8 0 1 0 1.5 0a0.8 0.8 0 1 0 -1.5 0M8.5 26.7a0.7 0.7 0 1 0 1.5 0a0.7 0.7 0 1 0 -1.5 0M27.3 11.1a0.8 0.8 0 1 0 1.6 0a0.8 0.8 0 1 0 -1.6 0M20.9 54.8a0.6 0.6 0 1 0 1.2 0a0.6 0.6 0 1 0 -1.2 0M58.1 58.0a0.8 0.8 0 1 0 1.6 0a0.8 0.8 0 1 0 -1.6 0M57.2 56.5a0.5 0.5 0 1 0 1.0 0a0.5 0.5 0 1 0 -1.0 0M7.2 57.3a0.8 0.8 0 1 0 1.7 0a0.8 0.8 0 1 0 -1.7 0M33.9 22.3a0.8 0.8 0 1 0 1.6 0a0.8 0.8 0 1 0 -1.6 0M8.4 53.8a0.8 0.8 0 1 0 1.5 0a0.8 0.8 0 1 0 -1.5 0M21.8 36.3a0.7 0.7 0 1 0 1.4 0a0.7 0.7 0 1 0 -1.4 0M30.4 51.1a0.5 0.5 0 1 0 0.9 0a0.5 0.5 0 1 0 -0.9 0M12.4 43.1a0.7 0.7 0 1 0 1.5 0a0.7 0.7 0 1 0 -1.5 0M59.1 10.8a0.6 0.6 0 1 0 1.2 0a0.6 0.6 0 1 0 -1.2 0M-0.9 10.8a0.6 0.6 0 1 0 1.2 0a0.6 0.6 0 1 0 -1.2 0M46.8 26.7a0.5 0.5 0 1 0 1.0 0a0.5 0.5 0 1 0 -1.0 0M54.1 50.7a0.6 0.6 0 1 0 1.2 0a0.6 0.6 0 1 0 -1.2 0M48.6 11.4a0.6 0.6 0 1 0 1.2 0a0.6 0.6 0 1 0 -1.2 0M3.3 27.2a0.6 0.6 0 1 0 1.3 0a0.6 0.6 0 1 0 -1.3 0M58.6 40.2a0.8 0.8 0 1 0 1.6 0a0.8 0.8 0 1 0 -1.6 0M-1.4 40.2a0.8 0.8 0 1 0 1.6 0a0.8 0.8 0 1 0 -1.6 0M11.3 26.3a0.7 0.7 0 1 0 1.5 0a0.7 0.7 0 1 0 -1.5 0M3.7 34.3a0.7 0.7 0 1 0 1.4 0a0.7 0.7 0 1 0 -1.4 0M0.9 12.2a0.8 0.8 0 1 0 1.5 0a0.8 0.8 0 1 0 -1.5 0M22.8 52.5a0.6 0.6 0 1 0 1.2 0a0.6 0.6 0 1 0 -1.2 0M43.1 41.3a0.8 0.8 0 1 0 1.6 0a0.8 0.8 0 1 0 -1.6 0M34.8 6.6a0.8 0.8 0 1 0 1.5 0a0.8 0.8 0 1 0 -1.5 0M18.8 26.6a0.7 0.7 0 1 0 1.3 0a0.7 0.7 0 1 0 -1.3 0M42.0 9.5a0.6 0.6 0 1 0 1.3 0a0.6 0.6 0 1 0 -1.3 0M50.6 34.6a0.5 0.5 0 1 0 1.0 0a0.5 0.5 0 1 0 -1.0 0M56.4 32.3a0.5 0.5 0 1 0 0.9 0a0.5 0.5 0 1 0 -0.9 0M38.7 49.8a0.8 0.8 0 1 0 1.6 0a0.8 0.8 0 1 0 -1.6 0M44.5 56.5a0.8 0.8 0 1 0 1.5 0a0.8 0.8 0 1 0 -1.5 0M33.3 1.5a0.5 0.5 0 1 0 1.0 0a0.5 0.5 0 1 0 -1.0 0M23.4 3.2a0.6 0.6 0 1 0 1.2 0a0.6 0.6 0 1 0 -1.2 0M30.6 9.7a0.5 0.5 0 1 0 1.0 0a0.5 0.5 0 1 0 -1.0 0"/>
<path id="dm" d="M27.1 39.4a1.4 1.4 0 1 0 2.7 0a1.4 1.4 0 1 0 -2.7 0M7.4 0.7a1.2 1.2 0 1 0 2.3 0a1.2 1.2 0 1 0 -2.3 0M7.4 60.7a1.2 1.2 0 1 0 2.3 0a1.2 1.2 0 1 0 -2.3 0M15.1 48.6a1.4 1.4 0 1 0 2.8 0a1.4 1.4 0 1 0 -2.8 0M34.7 33.5a1.4 1.4 0 1 0 2.7 0a1.4 1.4 0 1 0 -2.7 0M7.7 26.4a1.0 1.0 0 1 0 2.0 0a1.0 1.0 0 1 0 -2.0 0M52.9 3.5a1.5 1.5 0 1 0 2.9 0a1.5 1.5 0 1 0 -2.9 0M3.3 41.2a1.1 1.1 0 1 0 2.3 0a1.1 1.1 0 1 0 -2.3 0M23.4 50.5a0.9 0.9 0 1 0 1.8 0a0.9 0.9 0 1 0 -1.8 0M2.4 54.9a1.3 1.3 0 1 0 2.5 0a1.3 1.3 0 1 0 -2.5 0M3.9 59.2a1.6 1.6 0 1 0 3.1 0a1.6 1.6 0 1 0 -3.1 0M3.9 -0.8a1.6 1.6 0 1 0 3.1 0a1.6 1.6 0 1 0 -3.1 0M5.8 25.4a1.0 1.0 0 1 0 2.0 0a1.0 1.0 0 1 0 -2.0 0M17.7 37.3a1.0 1.0 0 1 0 2.0 0a1.0 1.0 0 1 0 -2.0 0M40.8 3.1a1.0 1.0 0 1 0 2.0 0a1.0 1.0 0 1 0 -2.0 0M47.7 24.0a1.2 1.2 0 1 0 2.4 0a1.2 1.2 0 1 0 -2.4 0M34.6 28.6a1.2 1.2 0 1 0 2.3 0a1.2 1.2 0 1 0 -2.3 0M0.3 43.6a1.6 1.6 0 1 0 3.2 0a1.6 1.6 0 1 0 -3.2 0M57.4 39.8a1.1 1.1 0 1 0 2.3 0a1.1 1.1 0 1 0 -2.3 0M20.4 41.4a1.4 1.4 0 1 0 2.7 0a1.4 1.4 0 1 0 -2.7 0M5.7 14.1a1.2 1.2 0 1 0 2.3 0a1.2 1.2 0 1 0 -2.3 0M29.4 48.6a1.3 1.3 0 1 0 2.5 0a1.3 1.3 0 1 0 -2.5 0M0.5 49.4a1.2 1.2 0 1 0 2.4 0a1.2 1.2 0 1 0 -2.4 0M29.9 13.3a1.2 1.2 0 1 0 2.4 0a1.2 1.2 0 1 0 -2.4 0M22.3 46.3a1.0 1.0 0 1 0 1.9 0a1.0 1.0 0 1 0 -1.9 0M31.6 10.7a1.4 1.4 0 1 0 2.8 0a1.4 1.4 0 1 0 -2.8 0M1.1 16.6a1.1 1.1 0 1 0 2.3 0a1.1 1.1 0 1 0 -2.3 0M37.0 3.1a1.2 1.2 0 1 0 2.4 0a1.2 1.2 0 1 0 -2.4 0M11.3 16.9a1.2 1.2 0 1 0 2.5 0a1.2 1.2 0 1 0 -2.5 0M56.0 28.9a1.6 1.6 0 1 0 3.1 0a1.6 1.6 0 1 0 -3.1 0M8.9 55.5a1.2 1.2 0 1 0 2.3 0a1.2 1.2 0 1 0 -2.3 0M9.8 44.9a1.5 1.5 0 1 0 3.1 0a1.5 1.5 0 1 0 -3.1 0M19.6 14.5a0.9 0.9 0 1 0 1.8 0a0.9 0.9 0 1 0 -1.8 0M0.8 37.1a1.6 1.6 0 1 0 3.2 0a1.6 1.6 0 1 0 -3.2 0M59.0 30.2a0.9 0.9 0 1 0 1.8 0a0.9 0.9 0 1 0 -1.8 0M-1.0 30.2a0.9 0.9 0 1 0 1.8 0a0.9 0.9 0 1 0 -1.8 0M17.9 47.2a1.5 1.5 0 1 0 3.0 0a1.5 1.5 0 1 0 -3.0 0M37.1 13.8a1.3 1.3 0 1 0 2.5 0a1.3 1.3 0 1 0 -2.5 0M55.8 53.7a1.0 1.0 0 1 0 2.0 0a1.0 1.0 0 1 0 -2.0 0M16.4 52.4a1.1 1.1 0 1 0 2.2 0a1.1 1.1 0 1 0 -2.2 0M41.2 12.8a1.1 1.1 0 1 0 2.2 0a1.1 1.1 0 1 0 -2.2 0M13.9 41.0a1.4 1.4 0 1 0 2.8 0a1.4 1.4 0 1 0 -2.8 0M6.7 53.2a1.2 1.2 0 1 0 2.4 0a1.2 1.2 0 1 0 -2.4 0M12.9 26.1a1.6 1.6 0 1 0 3.2 0a1.6 1.6 0 1 0 -3.2 0M32.1 37.5a1.5 1.5 0 1 0 3.1 0a1.5 1.5 0 1 0 -3.1 0M56.5 45.6a1.2 1.2 0 1 0 2.4 0a1.2 1.2 0 1 0 -2.4 0M33.9 54.1a1.5 1.5 0 1 0 2.9 0a1.5 1.5 0 1 0 -2.9 0M33.7 20.8a1.2 1.2 0 1 0 2.3 0a1.2 1.2 0 1 0 -2.3 0M43.2 33.8a0.9 0.9 0 1 0 1.8 0a0.9 0.9 0 1 0 -1.8 0M41.1 54.2a1.5 1.5 0 1 0 2.9 0a1.5 1.5 0 1 0 -2.9 0M52.6 54.6a1.3 1.3 0 1 0 2.5 0a1.3 1.3 0 1 0 -2.5 0M19.6 18.7a1.6 1.6 0 1 0 3.1 0a1.6 1.6 0 1 0 -3.1 0M40.0 32.5a1.3 1.3 0 1 0 2.7 0a1.3 1.3 0 1 0 -2.7 0M6.1 32.1a1.4 1.4 0 1 0 2.8 0a1.4 1.4 0 1 0 -2.8 0M22.5 14.7a1.2 1.2 0 1 0 2.4 0a1.2 1.2 0 1 0 -2.4 0M18.4 41.1a1.0 1.0 0 1 0 2.0 0a1.0 1.0 0 1 0 -2.0 0M4.0 18.7a1.4 1.4 0 1 0 2.8 0a1.4 1.4 0 1 0 -2.8 0M44.0 39.6a1.6 1.6 0 1 0 3.1 0a1.6 1.6 0 1 0 -3.1 0M20.7 1.8a1.2 1.2 0 1 0 2.5 0a1.2 1.2 0 1 0 -2.5 0M25.3 10.8a1.4 1.4 0 1 0 2.7 0a1.4 1.4 0 1 0 -2.7 0M55.5 0.5a1.2 1.2 0 1 0 2.3 0a1.2 1.2 0 1 0 -2.3 0M55.5 60.5a1.2 1.2 0 1 0 2.3 0a1.2 1.2 0 1 0 -2.3 0M15.6 12.1a1.2 1.2 0 1 0 2.4 0a1.2 1.2 0 1 0 -2.4 0M12.0 55.1a1.3 1.3 0 1 0 2.5 0a1.3 1.3 0 1 0 -2.5 0M40.7 9.7a1.2 1.2 0 1 0 2.5 0a1.2 1.2 0 1 0 -2.5 0M35.3 50.6a1.1 1.1 0 1 0 2.1 0a1.1 1.1 0 1 0 -2.1 0M26.1 51.3a1.5 1.5 0 1 0 3.0 0a1.5 1.5 0 1 0 -3.0 0M12.2 32.3a1.4 1.4 0 1 0 2.9 0a1.4 1.4 0 1 0 -2.9 0M57.0 33.2a1.4 1.4 0 1 0 2.8 0a1.4 1.4 0 1 0 -2.8 0M19.9 43.9a1.1 1.1 0 1 0 2.3 0a1.1 1.1 0 1 0 -2.3 0M28.9 21.7a1.1 1.1 0 1 0 2.2 0a1.1 1.1 0 1 0 -2.2 0M13.6 2.8a1.5 1.5 0 1 0 2.9 0a1.5 1.5 0 1 0 -2.9 0M15.8 56.2a1.3 1.3 0 1 0 2.6 0a1.3 1.3 0 1 0 -2.6 0M17.9 7.6a1.3 1.3 0 1 0 2.7 0a1.3 1.3 0 1 0 -2.7 0M49.1 36.5a1.4 1.4 0 1 0 2.9 0a1.4 1.4 0 1 0 -2.9 0M23.7 37.1a1.1 1.1 0 1 0 2.2 0a1.1 1.1 0 1 0 -2.2 0M23.2 22.8a1.2 1.2 0 1 0 2.3 0a1.2 1.2 0 1 0 -2.3 0M23.0 48.4a1.0 1.0 0 1 0 2.0 0a1.0 1.0 0 1 0 -2.0 0M29.9 3.2a1.5 1.5 0 1 0 3.0 0a1.5 1.5 0 1 0 -3.0 0M51.3 49.3a1.2 1.2 0 1 0 2.3 0a1.2 1.2 0 1 0 -2.3 0M43.1 18.3a1.0 1.0 0 1 0 2.0 0a1.0 1.0 0 1 0 -2.0 0M-0.2 10.3a1.0 1.0 0 1 0 2.0 0a1.0 1.0 0 1 0 -2.0 0M59.8 10.3a1.0 1.0 0 1 0 2.0 0a1.0 1.0 0 1 0 -2.0 0M35.0 6.1a1.4 1.4 0 1 0 2.8 0a1.4 1.4 0 1 0 -2.8 0M30.9 26.9a1.3 1.3 0 1 0 2.5 0a1.3 1.3 0 1 0 -2.5 0M37.8 48.0a1.3 1.3 0 1 0 2.5 0a1.3 1.3 0 1 0 -2.5 0M49.4 7.8a0.9 0.9 0 1 0 1.9 0a0.9 0.9 0 1 0 -1.9 0M5.5 5.1a0.9 0.9 0 1 0 1.9 0a0.9 0.9 0 1 0 -1.9 0M-0.5 15.0a1.0 1.0 0 1 0 2.0 0a1.0 1.0 0 1 0 -2.0 0M59.5 15.0a1.0 1.0 0 1 0 2.0 0a1.0 1.0 0 1 0 -2.0 0M39.5 36.9a1.6 1.6 0 1 0 3.2 0a1.6 1.6 0 1 0 -3.2 0M24.3 32.6a1.1 1.1 0 1 0 2.2 0a1.1 1.1 0 1 0 -2.2 0M54.9 21.7a1.1 1.1 0 1 0 2.2 0a1.1 1.1 0 1 0 -2.2 0M54.0 36.0a1.4 1.4 0 1 0 2.7 0a1.4 1.4 0 1 0 -2.7 0M42.4 49.5a1.4 1.4 0 1 0 2.9 0a1.4 1.4 0 1 0 -2.9 0M18.9 22.9a1.5 1.5 0 1 0 3.0 0a1.5 1.5 0 1 0 -3.0 0M12.5 23.1a1.3 1.3 0 1 0 2.7 0a1.3 1.3 0 1 0 -2.7 0M43.5 15.1a1.2 1.2 0 1 0 2.4 0a1.2 1.2 0 1 0 -2.4 0M4.8 44.2a1.3 1.3 0 1 0 2.7 0a1.3 1.3 0 1 0 -2.7 0M9.1 32.9a1.3 1.3 0 1 0 2.6 0a1.3 1.3 0 1 0 -2.6 0M22.9 12.3a1.1 1.1 0 1 0 2.3 0a1.1 1.1 0 1 0 -2.3 0M16.5 19.9a1.4 1.4 0 1 0 2.7 0a1.4 1.4 0 1 0 -2.7 0M10.4 38.3a1.3 1.3 0 1 0 2.7 0a1.3 1.3 0 1 0 -2.7 0M26.3 56.2a1.2 1.2 0 1 0 2.3 0a1.2 1.2 0 1 0 -2.3 0M42.2 30.1a1.4 1.4 0 1 0 2.7 0a1.4 1.4 0 1 0 -2.7 0M35.8 42.9a1.1 1.1 0 1 0 2.3 0a1.1 1.1 0 1 0 -2.3 0M16.9 1.5a1.5 1.5 0 1 0 3.0 0a1.5 1.5 0 1 0 -3.0 0M16.9 61.5a1.5 1.5 0 1 0 3.0 0a1.5 1.5 0 1 0 -3.0 0M52.7 9.1a1.5 1.5 0 1 0 3.0 0a1.5 1.5 0 1 0 -3.0 0M24.2 18.9a1.1 1.1 0 1 0 2.2 0a1.1 1.1 0 1 0 -2.2 0M23.9 3.1a0.9 0.9 0 1 0 1.9 0a0.9 0.9 0 1 0 -1.9 0M6.1 49.9a1.2 1.2 0 1 0 2.3 0a1.2 1.2 0 1 0 -2.3 0M27.9 36.1a1.6 1.6 0 1 0 3.1 0a1.6 1.6 0 1 0 -3.1 0M5.5 37.0a1.0 1.0 0 1 0 2.1 0a1.0 1.0 0 1 0 -2.1 0M24.9 1.3a1.2 1.2 0 1 0 2.5 0a1.2 1.2 0 1 0 -2.5 0M53.9 31.3a1.3 1.3 0 1 0 2.6 0a1.3 1.3 0 1 0 -2.6 0M49.3 53.8a1.3 1.3 0 1 0 2.6 0a1.3 1.3 0 1 0 -2.6 0"/>
<path id="dl" d="M14.5 41.1a1.0 1.0 0 1 0 2.1 0a1.0 1.0 0 1 0 -2.1 0M50.1 11.1a0.8 0.8 0 1 0 1.6 0a0.8 0.8 0 1 0 -1.6 0M7.8 13.5a1.1 1.1 0 1 0 2.1 0a1.1 1.1 0 1 0 -2.1 0"/>
<path id="cn" d="M7.7 63.2a1.9 1.9 0 1 0 3.8 0a1.9 1.9 0 1 0 -3.8 0M83.1 24.4a1.5 1.5 0 1 0 3.1 0a1.5 1.5 0 1 0 -3.1 0M64.5 59.3a1.6 1.6 0 1 0 3.1 0a1.6 1.6 0 1 0 -3.1 0M59.6 35.7a2.0 2.0 0 1 0 4.0 0a2.0 2.0 0 1 0 -4.0 0M8.5 20.1a2.1 2.1 0 1 0 4.2 0a2.1 2.1 0 1 0 -4.2 0M30.2 23.4a2.0 2.0 0 1 0 4.0 0a2.0 2.0 0 1 0 -4.0 0M55.1 13.5a1.8 1.8 0 1 0 3.6 0a1.8 1.8 0 1 0 -3.6 0M9.7 30.3a1.4 1.4 0 1 0 2.7 0a1.4 1.4 0 1 0 -2.7 0M16.7 88.0a1.7 1.7 0 1 0 3.3 0a1.7 1.7 0 1 0 -3.3 0M87.3 39.5a1.8 1.8 0 1 0 3.7 0a1.8 1.8 0 1 0 -3.7 0M-2.7 39.5a1.8 1.8 0 1 0 3.7 0a1.8 1.8 0 1 0 -3.7 0M77.1 61.8a1.4 1.4 0 1 0 2.8 0a1.4 1.4 0 1 0 -2.8 0M51.6 57.0a1.5 1.5 0 1 0 2.9 0a1.5 1.5 0 1 0 -2.9 0M6.8 78.7a1.8 1.8 0 1 0 3.5 0a1.8 1.8 0 1 0 -3.5 0M15.9 40.7a1.5 1.5 0 1 0 3.0 0a1.5 1.5 0 1 0 -3.0 0M70.4 45.0a1.4 1.4 0 1 0 2.8 0a1.4 1.4 0 1 0 -2.8 0M72.1 8.1a1.6 1.6 0 1 0 3.1 0a1.6 1.6 0 1 0 -3.1 0M1.1 66.6a1.4 1.4 0 1 0 2.8 0a1.4 1.4 0 1 0 -2.8 0M45.6 8.4a1.7 1.7 0 1 0 3.5 0a1.7 1.7 0 1 0 -3.5 0M60.0 48.1a1.7 1.7 0 1 0 3.4 0a1.7 1.7 0 1 0 -3.4 0M41.8 39.3a1.8 1.8 0 1 0 3.7 0a1.8 1.8 0 1 0 -3.7 0M7.0 42.7a1.5 1.5 0 1 0 3.0 0a1.5 1.5 0 1 0 -3.0 0M76.5 84.5a1.4 1.4 0 1 0 2.7 0a1.4 1.4 0 1 0 -2.7 0M36.3 31.3a1.8 1.8 0 1 0 3.6 0a1.8 1.8 0 1 0 -3.6 0M15.3 56.6a1.7 1.7 0 1 0 3.4 0a1.7 1.7 0 1 0 -3.4 0M21.7 34.9a1.3 1.3 0 1 0 2.7 0a1.3 1.3 0 1 0 -2.7 0M26.3 88.5a1.8 1.8 0 1 0 3.7 0a1.8 1.8 0 1 0 -3.7 0M26.3 -1.5a1.8 1.8 0 1 0 3.7 0a1.8 1.8 0 1 0 -3.7 0M31.3 50.5a1.8 1.8 0 1 0 3.7 0a1.8 1.8 0 1 0 -3.7 0M83.1 68.2a1.8 1.8 0 1 0 3.5 0a1.8 1.8 0 1 0 -3.5 0M74.1 33.0a1.6 1.6 0 1 0 3.3 0a1.6 1.6 0 1 0 -3.3 0M84.4 49.1a2.0 2.0 0 1 0 4.0 0a2.0 2.0 0 1 0 -4.0 0M32.7 70.7a1.5 1.5 0 1 0 3.1 0a1.5 1.5 0 1 0 -3.1 0M31.8 38.3a1.4 1.4 0 1 0 2.8 0a1.4 1.4 0 1 0 -2.8 0M18.1 13.2a2.0 2.0 0 1 0 3.9 0a2.0 2.0 0 1 0 -3.9 0M40.2 84.0a2.1 2.1 0 1 0 4.2 0a2.1 2.1 0 1 0 -4.2 0M70.0 27.5a1.4 1.4 0 1 0 2.8 0a1.4 1.4 0 1 0 -2.8 0M45.4 26.7a2.2 2.2 0 1 0 4.3 0a2.2 2.2 0 1 0 -4.3 0M-1.5 89.7a1.5 1.5 0 1 0 3.0 0a1.5 1.5 0 1 0 -3.0 0M-1.5 -0.3a1.5 1.5 0 1 0 3.0 0a1.5 1.5 0 1 0 -3.0 0M88.5 89.7a1.5 1.5 0 1 0 3.0 0a1.5 1.5 0 1 0 -3.0 0M88.5 -0.3a1.5 1.5 0 1 0 3.0 0a1.5 1.5 0 1 0 -3.0 0M61.8 87.1a1.8 1.8 0 1 0 3.5 0a1.8 1.8 0 1 0 -3.5 0M18.5 21.2a1.5 1.5 0 1 0 3.1 0a1.5 1.5 0 1 0 -3.1 0M76.0 22.2a1.4 1.4 0 1 0 2.8 0a1.4 1.4 0 1 0 -2.8 0M76.7 50.2a1.3 1.3 0 1 0 2.7 0a1.3 1.3 0 1 0 -2.7 0M68.2 38.2a1.5 1.5 0 1 0 3.0 0a1.5 1.5 0 1 0 -3.0 0M42.1 57.2a1.6 1.6 0 1 0 3.3 0a1.6 1.6 0 1 0 -3.3 0M84.3 15.7a2.0 2.0 0 1 0 4.0 0a2.0 2.0 0 1 0 -4.0 0M52.8 31.5a1.6 1.6 0 1 0 3.2 0a1.6 1.6 0 1 0 -3.2 0M71.9 89.9a1.7 1.7 0 1 0 3.4 0a1.7 1.7 0 1 0 -3.4 0M71.9 -0.1a1.7 1.7 0 1 0 3.4 0a1.7 1.7 0 1 0 -3.4 0M16.5 48.5a2.0 2.0 0 1 0 4.0 0a2.0 2.0 0 1 0 -4.0 0M32.8 5.8a1.9 1.9 0 1 0 3.8 0a1.9 1.9 0 1 0 -3.8 0M4.1 33.9a1.5 1.5 0 1 0 3.0 0a1.5 1.5 0 1 0 -3.0 0M61.2 27.1a1.5 1.5 0 1 0 3.0 0a1.5 1.5 0 1 0 -3.0 0M18.6 72.9a2.0 2.0 0 1 0 4.1 0a2.0 2.0 0 1 0 -4.1 0M-1.4 76.2a1.7 1.7 0 1 0 3.4 0a1.7 1.7 0 1 0 -3.4 0M88.6 76.2a1.7 1.7 0 1 0 3.4 0a1.7 1.7 0 1 0 -3.4 0M49.5 69.0a2.0 2.0 0 1 0 3.9 0a2.0 2.0 0 1 0 -3.9 0M83.5 59.7a1.5 1.5 0 1 0 3.0 0a1.5 1.5 0 1 0 -3.0 0M81.9 4.9a1.7 1.7 0 1 0 3.3 0a1.7 1.7 0 1 0 -3.3 0M76.8 15.9a1.3 1.3 0 1 0 2.7 0a1.3 1.3 0 1 0 -2.7 0M-0.1 57.6a1.4 1.4 0 1 0 2.8 0a1.4 1.4 0 1 0 -2.8 0M89.9 57.6a1.4 1.4 0 1 0 2.8 0a1.4 1.4 0 1 0 -2.8 0M73.2 69.3a1.6 1.6 0 1 0 3.2 0a1.6 1.6 0 1 0 -3.2 0M59.2 70.7a1.8 1.8 0 1 0 3.5 0a1.8 1.8 0 1 0 -3.5 0M54.8 81.2a2.2 2.2 0 1 0 4.4 0a2.2 2.2 0 1 0 -4.4 0M48.8 86.5a1.5 1.5 0 1 0 3.0 0a1.5 1.5 0 1 0 -3.0 0M39.6 67.7a1.6 1.6 0 1 0 3.1 0a1.6 1.6 0 1 0 -3.1 0M35.6 15.3a1.7 1.7 0 1 0 3.3 0a1.7 1.7 0 1 0 -3.3 0M73.8 76.5a1.4 1.4 0 1 0 2.8 0a1.4 1.4 0 1 0 -2.8 0M60.3 19.4a1.7 1.7 0 1 0 3.5 0a1.7 1.7 0 1 0 -3.5 0M2.7 5.3a1.3 1.3 0 1 0 2.7 0a1.3 1.3 0 1 0 -2.7 0M12.1 70.1a1.4 1.4 0 1 0 2.7 0a1.4 1.4 0 1 0 -2.7 0M47.4 45.9a1.6 1.6 0 1 0 3.3 0a1.6 1.6 0 1 0 -3.3 0M32.8 80.4a1.5 1.5 0 1 0 2.9 0a1.5 1.5 0 1 0 -2.9 0M25.6 10.8a1.4 1.4 0 1 0 2.8 0a1.4 1.4 0 1 0 -2.8 0M9.3 9.2a2.2 2.2 0 1 0 4.3 0a2.2 2.2 0 1 0 -4.3 0M21.4 62.6a1.6 1.6 0 1 0 3.2 0a1.6 1.6 0 1 0 -3.2 0M23.0 43.4a1.5 1.5 0 1 0 3.0 0a1.5 1.5 0 1 0 -3.0 0M51.8 38.3a1.4 1.4 0 1 0 2.8 0a1.4 1.4 0 1 0 -2.8 0M27.8 65.3a1.4 1.4 0 1 0 2.9 0a1.4 1.4 0 1 0 -2.9 0M0.6 25.6a1.8 1.8 0 1 0 3.7 0a1.8 1.8 0 1 0 -3.7 0M23.9 53.7a1.7 1.7 0 1 0 3.4 0a1.7 1.7 0 1 0 -3.4 0M68.9 53.1a1.4 1.4 0 1 0 2.9 0a1.4 1.4 0 1 0 -2.9 0M65.3 4.2a1.4 1.4 0 1 0 2.8 0a1.4 1.4 0 1 0 -2.8 0M4.9 52.6a1.4 1.4 0 1 0 2.7 0a1.4 1.4 0 1 0 -2.7 0M54.5 24.2a1.6 1.6 0 1 0 3.1 0a1.6 1.6 0 1 0 -3.1 0M38.8 75.9a1.4 1.4 0 1 0 2.8 0a1.4 1.4 0 1 0 -2.8 0M81.9 34.0a1.3 1.3 0 1 0 2.6 0a1.3 1.3 0 1 0 -2.6 0M51.7 4.2a1.4 1.4 0 1 0 2.8 0a1.4 1.4 0 1 0 -2.8 0M82.3 81.3a1.7 1.7 0 1 0 3.4 0a1.7 1.7 0 1 0 -3.4 0M1.6 11.6a1.4 1.4 0 1 0 2.8 0a1.4 1.4 0 1 0 -2.8 0M69.9 17.3a1.6 1.6 0 1 0 3.3 0a1.6 1.6 0 1 0 -3.3 0M64.4 78.8a2.1 2.1 0 1 0 4.2 0a2.1 2.1 0 1 0 -4.2 0M59.1 6.6a1.5 1.5 0 1 0 3.0 0a1.5 1.5 0 1 0 -3.0 0M39.8 50.1a1.5 1.5 0 1 0 3.0 0a1.5 1.5 0 1 0 -3.0 0M16.0 31.2a1.5 1.5 0 1 0 3.0 0a1.5 1.5 0 1 0 -3.0 0M19.6 5.2a1.4 1.4 0 1 0 2.7 0a1.4 1.4 0 1 0 -2.7 0M45.9 76.4a1.7 1.7 0 1 0 3.5 0a1.7 1.7 0 1 0 -3.5 0M78.6 39.7a1.4 1.4 0 1 0 2.8 0a1.4 1.4 0 1 0 -2.8 0M6.6 89.2a1.6 1.6 0 1 0 3.2 0a1.6 1.6 0 1 0 -3.2 0M6.6 -0.8a1.6 1.6 0 1 0 3.2 0a1.6 1.6 0 1 0 -3.2 0"/>
<path id="cc" d="M54.4 0.7a3.5 3.5 0 1 0 7.1 0a3.5 3.5 0 1 0 -7.1 0M54.4 60.7a3.5 3.5 0 1 0 7.1 0a3.5 3.5 0 1 0 -7.1 0M-5.6 0.7a3.5 3.5 0 1 0 7.1 0a3.5 3.5 0 1 0 -7.1 0M-5.6 60.7a3.5 3.5 0 1 0 7.1 0a3.5 3.5 0 1 0 -7.1 0M6.7 59.2a2.8 2.8 0 1 0 5.6 0a2.8 2.8 0 1 0 -5.6 0M6.7 -0.8a2.8 2.8 0 1 0 5.6 0a2.8 2.8 0 1 0 -5.6 0M49.1 40.9a3.7 3.7 0 1 0 7.3 0a3.7 3.7 0 1 0 -7.3 0M56.9 14.4a3.1 3.1 0 1 0 6.3 0a3.1 3.1 0 1 0 -6.3 0M-3.1 14.4a3.1 3.1 0 1 0 6.3 0a3.1 3.1 0 1 0 -6.3 0M39.4 16.8a3.1 3.1 0 1 0 6.1 0a3.1 3.1 0 1 0 -6.1 0M10.0 51.5a3.7 3.7 0 1 0 7.3 0a3.7 3.7 0 1 0 -7.3 0M44.1 13.4a3.7 3.7 0 1 0 7.4 0a3.7 3.7 0 1 0 -7.4 0M27.4 13.9a3.3 3.3 0 1 0 6.5 0a3.3 3.3 0 1 0 -6.5 0M21.8 4.7a3.4 3.4 0 1 0 6.7 0a3.4 3.4 0 1 0 -6.7 0M17.9 34.2a3.7 3.7 0 1 0 7.5 0a3.7 3.7 0 1 0 -7.5 0M35.1 24.3a3.7 3.7 0 1 0 7.3 0a3.7 3.7 0 1 0 -7.3 0M56.0 29.4a3.7 3.7 0 1 0 7.5 0a3.7 3.7 0 1 0 -7.5 0M-4.0 29.4a3.7 3.7 0 1 0 7.5 0a3.7 3.7 0 1 0 -7.5 0M-1.8 8.4a3.0 3.0 0 1 0 5.9 0a3.0 3.0 0 1 0 -5.9 0M58.2 8.4a3.0 3.0 0 1 0 5.9 0a3.0 3.0 0 1 0 -5.9 0M24.8 50.4a3.4 3.4 0 1 0 6.7 0a3.4 3.4 0 1 0 -6.7 0M53.9 21.2a3.0 3.0 0 1 0 6.1 0a3.0 3.0 0 1 0 -6.1 0M0.9 54.4a3.6 3.6 0 1 0 7.2 0a3.6 3.6 0 1 0 -7.2 0M26.2 28.9a3.8 3.8 0 1 0 7.6 0a3.8 3.8 0 1 0 -7.6 0M32.5 41.5a3.1 3.1 0 1 0 6.1 0a3.1 3.1 0 1 0 -6.1 0M50.8 53.6a2.8 2.8 0 1 0 5.6 0a2.8 2.8 0 1 0 -5.6 0M40.1 6.5a3.6 3.6 0 1 0 7.3 0a3.6 3.6 0 1 0 -7.3 0M4.6 5.9a3.1 3.1 0 1 0 6.3 0a3.1 3.1 0 1 0 -6.3 0M41.0 32.9a3.3 3.3 0 1 0 6.6 0a3.3 3.3 0 1 0 -6.6 0M-2.7 47.0a3.0 3.0 0 1 0 5.9 0a3.0 3.0 0 1 0 -5.9 0M57.3 47.0a3.0 3.0 0 1 0 5.9 0a3.0 3.0 0 1 0 -5.9 0M35.9 50.3a3.5 3.5 0 1 0 6.9 0a3.5 3.5 0 1 0 -6.9 0M18.8 14.0a3.4 3.4 0 1 0 6.7 0a3.4 3.4 0 1 0 -6.7 0M27.9 7.0a3.3 3.3 0 1 0 6.7 0a3.3 3.3 0 1 0 -6.7 0M56.0 39.7a3.2 3.2 0 1 0 6.4 0a3.2 3.2 0 1 0 -6.4 0M-4.0 39.7a3.2 3.2 0 1 0 6.4 0a3.2 3.2 0 1 0 -6.4 0M13.3 7.8a3.1 3.1 0 1 0 6.1 0a3.1 3.1 0 1 0 -6.1 0M48.7 3.3a3.2 3.2 0 1 0 6.4 0a3.2 3.2 0 1 0 -6.4 0M6.3 40.1a3.8 3.8 0 1 0 7.6 0a3.8 3.8 0 1 0 -7.6 0M9.3 13.2a3.6 3.6 0 1 0 7.1 0a3.6 3.6 0 1 0 -7.1 0M20.3 25.7a3.4 3.4 0 1 0 6.8 0a3.4 3.4 0 1 0 -6.8 0M19.7 58.8a3.2 3.2 0 1 0 6.4 0a3.2 3.2 0 1 0 -6.4 0M19.7 -1.2a3.2 3.2 0 1 0 6.4 0a3.2 3.2 0 1 0 -6.4 0M12.1 29.6a3.0 3.0 0 1 0 6.0 0a3.0 3.0 0 1 0 -6.0 0M42.8 47.3a3.5 3.5 0 1 0 7.0 0a3.5 3.5 0 1 0 -7.0 0M32.0 19.0a3.2 3.2 0 1 0 6.3 0a3.2 3.2 0 1 0 -6.3 0M25.4 41.4a3.5 3.5 0 1 0 7.0 0a3.5 3.5 0 1 0 -7.0 0M39.5 58.9a3.8 3.8 0 1 0 7.5 0a3.8 3.8 0 1 0 -7.5 0M39.5 -1.1a3.8 3.8 0 1 0 7.5 0a3.8 3.8 0 1 0 -7.5 0M2.0 20.0a3.0 3.0 0 1 0 5.9 0a3.0 3.0 0 1 0 -5.9 0M47.4 22.0a2.9 2.9 0 1 0 5.7 0a2.9 2.9 0 1 0 -5.7 0M51.8 47.3a2.8 2.8 0 1 0 5.6 0a2.8 2.8 0 1 0 -5.6 0M5.3 31.0a3.7 3.7 0 1 0 7.4 0a3.7 3.7 0 1 0 -7.4 0M36.5 35.8a2.9 2.9 0 1 0 5.7 0a2.9 2.9 0 1 0 -5.7 0M9.5 20.2a3.2 3.2 0 1 0 6.5 0a3.2 3.2 0 1 0 -6.5 0M13.5 57.6a3.1 3.1 0 1 0 6.2 0a3.1 3.1 0 1 0 -6.2 0M13.5 -2.4a3.1 3.1 0 1 0 6.2 0a3.1 3.1 0 1 0 -6.2 0M18.0 45.2a3.6 3.6 0 1 0 7.2 0a3.6 3.6 0 1 0 -7.2 0"/>
<path id="cs" d="M20.9 28.8a0.8 0.8 0 1 0 1.6 0a0.8 0.8 0 1 0 -1.6 0M25.9 24.6a0.9 0.9 0 1 0 1.9 0a0.9 0.9 0 1 0 -1.9 0M14.9 38.1a0.6 0.6 0 1 0 1.2 0a0.6 0.6 0 1 0 -1.2 0M17.5 20.1a0.7 0.7 0 1 0 1.3 0a0.7 0.7 0 1 0 -1.3 0M43.6 18.6a1.0 1.0 0 1 0 2.0 0a1.0 1.0 0 1 0 -2.0 0M56.3 15.2a1.0 1.0 0 1 0 2.1 0a1.0 1.0 0 1 0 -2.1 0M47.8 40.0a0.6 0.6 0 1 0 1.2 0a0.6 0.6 0 1 0 -1.2 0M26.7 37.6a0.7 0.7 0 1 0 1.5 0a0.7 0.7 0 1 0 -1.5 0M12.7 18.6a0.7 0.7 0 1 0 1.5 0a0.7 0.7 0 1 0 -1.5 0M46.5 20.9a0.8 0.8 0 1 0 1.6 0a0.8 0.8 0 1 0 -1.6 0M37.8 56.9a0.7 0.7 0 1 0 1.5 0a0.7 0.7 0 1 0 -1.5 0M1.6 58.4a1.0 1.0 0 1 0 2.0 0a1.0 1.0 0 1 0 -2.0 0M46.7 31.4a0.7 0.7 0 1 0 1.4 0a0.7 0.7 0 1 0 -1.4 0M8.4 18.3a0.8 0.8 0 1 0 1.7 0a0.8 0.8 0 1 0 -1.7 0M3.0 42.0a1.0 1.0 0 1 0 1.9 0a1.0 1.0 0 1 0 -1.9 0M-0.1 50.5a0.8 0.8 0 1 0 1.7 0a0.8 0.8 0 1 0 -1.7 0M59.9 50.5a0.8 0.8 0 1 0 1.7 0a0.8 0.8 0 1 0 -1.7 0M54.1 28.5a1.0 1.0 0 1 0 2.0 0a1.0 1.0 0 1 0 -2.0 0M0.6 8.6a0.7 0.7 0 1 0 1.4 0a0.7 0.7 0 1 0 -1.4 0M23.5 22.2a0.9 0.9 0 1 0 1.7 0a0.9 0.9 0 1 0 -1.7 0M38.8 24.0a0.8 0.8 0 1 0 1.5 0a0.8 0.8 0 1 0 -1.5 0M29.7 57.2a1.0 1.0 0 1 0 2.0 0a1.0 1.0 0 1 0 -2.0 0M38.6 49.0a0.7 0.7 0 1 0 1.4 0a0.7 0.7 0 1 0 -1.4 0M5.4 5.6a0.7 0.7 0 1 0 1.3 0a0.7 0.7 0 1 0 -1.3 0M-0.5 37.5a1.1 1.1 0 1 0 2.1 0a1.1 1.1 0 1 0 -2.1 0M59.5 37.5a1.1 1.1 0 1 0 2.1 0a1.1 1.1 0 1 0 -2.1 0M5.7 41.2a1.1 1.1 0 1 0 2.1 0a1.1 1.1 0 1 0 -2.1 0M45.0 9.2a0.9 0.9 0 1 0 1.8 0a0.9 0.9 0 1 0 -1.8 0M14.7 10.7a0.6 0.6 0 1 0 1.2 0a0.6 0.6 0 1 0 -1.2 0M30.9 55.1a0.7 0.7 0 1 0 1.3 0a0.7 0.7 0 1 0 -1.3 0M8.2 23.3a0.6 0.6 0 1 0 1.2 0a0.6 0.6 0 1 0 -1.2 0M27.0 43.8a0.8 0.8 0 1 0 1.7 0a0.8 0.8 0 1 0 -1.7 0M1.6 1.8a0.7 0.7 0 1 0 1.4 0a0.7 0.7 0 1 0 -1.4 0M39.2 55.5a0.9 0.9 0 1 0 1.7 0a0.9 0.9 0 1 0 -1.7 0M5.4 13.0a0.8 0.8 0 1 0 1.6 0a0.8 0.8 0 1 0 -1.6 0M49.4 14.3a1.0 1.0 0 1 0 2.1 0a1.0 1.0 0 1 0 -2.1 0M51.9 26.0a0.7 0.7 0 1 0 1.4 0a0.7 0.7 0 1 0 -1.4 0M10.1 40.0a1.0 1.0 0 1 0 2.0 0a1.0 1.0 0 1 0 -2.0 0M50.8 12.5a0.8 0.8 0 1 0 1.6 0a0.8 0.8 0 1 0 -1.6 0M0.6 18.3a0.7 0.7 0 1 0 1.5 0a0.7 0.7 0 1 0 -1.5 0M17.4 29.9a0.9 0.9 0 1 0 1.7 0a0.9 0.9 0 1 0 -1.7 0M27.5 35.4a0.9 0.9 0 1 0 1.7 0a0.9 0.9 0 1 0 -1.7 0M28.5 4.8a0.9 0.9 0 1 0 1.8 0a0.9 0.9 0 1 0 -1.8 0M39.4 43.4a0.8 0.8 0 1 0 1.5 0a0.8 0.8 0 1 0 -1.5 0M26.8 48.4a1.0 1.0 0 1 0 1.9 0a1.0 1.0 0 1 0 -1.9 0M2.5 20.1a0.7 0.7 0 1 0 1.4 0a0.7 0.7 0 1 0 -1.4 0M41.9 24.1a0.8 0.8 0 1 0 1.6 0a0.8 0.8 0 1 0 -1.6 0M12.4 27.2a1.0 1.0 0 1 0 1.9 0a1.0 1.0 0 1 0 -1.9 0M37.1 13.3a0.8 0.8 0 1 0 1.6 0a0.8 0.8 0 1 0 -1.6 0M36.3 3.3a1.1 1.1 0 1 0 2.1 0a1.1 1.1 0 1 0 -2.1 0M56.7 41.5a0.7 0.7 0 1 0 1.4 0a0.7 0.7 0 1 0 -1.4 0M29.2 50.7a1.0 1.0 0 1 0 2.1 0a1.0 1.0 0 1 0 -2.1 0M38.8 38.3a1.0 1.0 0 1 0 1.9 0a1.0 1.0 0 1 0 -1.9 0M54.0 30.8a0.9 0.9 0 1 0 1.8 0a0.9 0.9 0 1 0 -1.8 0M33.9 21.0a1.0 1.0 0 1 0 1.9 0a1.0 1.0 0 1 0 -1.9 0M44.2 54.4a0.7 0.7 0 1 0 1.3 0a0.7 0.7 0 1 0 -1.3 0M0.4 55.9a1.0 1.0 0 1 0 1.9 0a1.0 1.0 0 1 0 -1.9 0M58.8 48.8a1.1 1.1 0 1 0 2.2 0a1.1 1.1 0 1 0 -2.2 0M-1.2 48.8a1.1 1.1 0 1 0 2.2 0a1.1 1.1 0 1 0 -2.2 0M8.4 11.2a0.9 0.9 0 1 0 1.8 0a0.9 0.9 0 1 0 -1.8 0M44.4 7.1a1.1 1.1 0 1 0 2.1 0a1.1 1.1 0 1 0 -2.1 0M13.0 12.2a0.8 0.8 0 1 0 1.6 0a0.8 0.8 0 1 0 -1.6 0M10.3 5.4a0.6 0.6 0 1 0 1.3 0a0.6 0.6 0 1 0 -1.3 0M46.0 46.4a0.8 0.8 0 1 0 1.6 0a0.8 0.8 0 1 0 -1.6 0M23.8 7.4a0.8 0.8 0 1 0 1.6 0a0.8 0.8 0 1 0 -1.6 0M10.8 44.6a0.8 0.8 0 1 0 1.6 0a0.8 0.8 0 1 0 -1.6 0M0.4 11.6a0.6 0.6 0 1 0 1.3 0a0.6 0.6 0 1 0 -1.3 0M56.1 24.7a1.0 1.0 0 1 0 2.0 0a1.0 1.0 0 1 0 -2.0 0M34.6 24.7a1.0 1.0 0 1 0 1.9 0a1.0 1.0 0 1 0 -1.9 0M32.1 2.6a1.1 1.1 0 1 0 2.2 0a1.1 1.1 0 1 0 -2.2 0M20.1 39.1a0.8 0.8 0 1 0 1.6 0a0.8 0.8 0 1 0 -1.6 0M57.1 10.0a0.6 0.6 0 1 0 1.3 0a0.6 0.6 0 1 0 -1.3 0M1.5 24.0a1.0 1.0 0 1 0 2.0 0a1.0 1.0 0 1 0 -2.0 0"/>
<filter id="fB00" x="31.9" y="348.7" width="103.90" height="69.90" filterUnits="userSpaceOnUse" primitiveUnits="userSpaceOnUse" color-interpolation-filters="sRGB"><feFlood flood-color="rgb(208, 126, 205)" result="bg"/><feTurbulence type="fractalNoise" baseFrequency="0.08" numOctaves="3" seed="2" result="nm"/><feColorMatrix in="nm" type="matrix" values="0 0 0 0 0.7059 0 0 0 0 0.3922 0 0 0 0 0.7451 3.5 0 0 0 -1.2500" result="m"/><feComposite in="m" in2="bg" operator="over"/></filter>
<clipPath id="cB00"><rect x="31.9" y="348.7" width="103.90" height="69.90"/></clipPath>
<filter id="fB01" x="138.9" y="348.7" width="103.80" height="69.90" filterUnits="userSpaceOnUse" primitiveUnits="userSpaceOnUse" color-interpolation-filters="sRGB"><feFlood flood-color="rgb(245, 244, 248)" result="bg"/><feTurbulence type="fractalNoise" baseFrequency="0.08" numOctaves="3" seed="3" result="nm"/><feColorMatrix in="nm" type="matrix" values="0 0 0 0 0.8824 0 0 0 0 0.8745 0 0 0 0 0.9176 3.5 0 0 0 -1.2500" result="m"/><feComposite in="m" in2="bg" operator="over"/></filter>
<clipPath id="cB01"><rect x="138.9" y="348.7" width="103.80" height="69.90"/></clipPath>
<filter id="fB02" x="245.9" y="348.7" width="103.70" height="69.90" filterUnits="userSpaceOnUse" primitiveUnits="userSpaceOnUse" color-interpolation-filters="sRGB"><feFlood flood-color="rgb(234, 234, 242)" result="bg"/><feTurbulence type="fractalNoise" baseFrequency="0.08" numOctaves="3" seed="4" result="nm"/><feColorMatrix in="nm" type="matrix" values="0 0 0 0 0.8314 0 0 0 0 0.8353 0 0 0 0 0.8941 3.5 0 0 0 -1.2500" result="m"/><feComposite in="m" in2="bg" operator="over"/></filter>
<clipPath id="cB02"><rect x="245.9" y="348.7" width="103.70" height="69.90"/></clipPath>
<filter id="fB03" x="353.0" y="348.7" width="103.80" height="69.90" filterUnits="userSpaceOnUse" primitiveUnits="userSpaceOnUse" color-interpolation-filters="sRGB"><feFlood flood-color="rgb(234, 235, 244)" result="bg"/><feTurbulence type="fractalNoise" baseFrequency="0.08" numOctaves="3" seed="5" result="nm"/><feColorMatrix in="nm" type="matrix" values="0 0 0 0 0.8314 0 0 0 0 0.8392 0 0 0 0 0.9020 3.5 0 0 0 -1.2500" result="m"/><feComposite in="m" in2="bg" operator="over"/></filter>
<clipPath id="cB03"><rect x="353.0" y="348.7" width="103.80" height="69.90"/></clipPath>
<filter id="fB10" x="31.9" y="421.2" width="103.90" height="69.90" filterUnits="userSpaceOnUse" primitiveUnits="userSpaceOnUse" color-interpolation-filters="sRGB"><feFlood flood-color="rgb(238, 198, 228)" result="bg"/><feTurbulence type="fractalNoise" baseFrequency="0.08" numOctaves="3" seed="6" result="nm"/><feColorMatrix in="nm" type="matrix" values="0 0 0 0 0.8706 0 0 0 0 0.6667 0 0 0 0 0.8431 3.5 0 0 0 -1.2500" result="m"/><feComposite in="m" in2="bg" operator="over"/></filter>
<clipPath id="cB10"><rect x="31.9" y="421.2" width="103.90" height="69.90"/></clipPath>
<filter id="fB11" x="138.9" y="421.2" width="103.80" height="69.90" filterUnits="userSpaceOnUse" primitiveUnits="userSpaceOnUse" color-interpolation-filters="sRGB"><feFlood flood-color="rgb(238, 232, 236)" result="bg"/><feTurbulence type="fractalNoise" baseFrequency="0.05" numOctaves="3" seed="7" result="nm"/><feColorMatrix in="nm" type="matrix" values="0 0 0 0 0.8039 0 0 0 0 0.7373 0 0 0 0 0.7647 3.5 0 0 0 -1.3000" result="m"/><feComposite in="m" in2="bg" operator="over"/></filter>
<clipPath id="cB11"><rect x="138.9" y="421.2" width="103.80" height="69.90"/></clipPath>
<clipPath id="cB11_1"><ellipse cx="146.7" cy="456.1" rx="44.1" ry="45.4"/></clipPath>
<clipPath id="cB11_2"><ellipse cx="190.8" cy="422.9" rx="25.9" ry="22.7"/></clipPath>
<clipPath id="cB11_3"><ellipse cx="236.5" cy="456.1" rx="27.0" ry="41.9"/></clipPath>
<clipPath id="cB11_4"><ellipse cx="148.2" cy="470.1" rx="30.1" ry="35.0"/></clipPath>
<clipPath id="cB11_5"><ellipse cx="239.1" cy="459.6" rx="19.2" ry="35.0"/></clipPath>
<filter id="fB12" x="245.9" y="421.2" width="103.70" height="69.90" filterUnits="userSpaceOnUse" primitiveUnits="userSpaceOnUse" color-interpolation-filters="sRGB"><feFlood flood-color="rgb(232, 218, 206)" result="bg"/><feTurbulence type="fractalNoise" baseFrequency="0.08" numOctaves="3" seed="8" result="nm"/><feColorMatrix in="nm" type="matrix" values="0 0 0 0 0.8392 0 0 0 0 0.7686 0 0 0 0 0.7294 3.5 0 0 0 -1.2500" result="m"/><feComposite in="m" in2="bg" operator="over"/></filter>
<clipPath id="cB12"><rect x="245.9" y="421.2" width="103.70" height="69.90"/></clipPath>
<filter id="fB13" x="353.0" y="421.2" width="103.80" height="69.90" filterUnits="userSpaceOnUse" primitiveUnits="userSpaceOnUse" color-interpolation-filters="sRGB"><feFlood flood-color="rgb(212, 210, 230)" result="bg"/><feTurbulence type="fractalNoise" baseFrequency="0.08" numOctaves="3" seed="9" result="nm"/><feColorMatrix in="nm" type="matrix" values="0 0 0 0 0.7529 0 0 0 0 0.7451 0 0 0 0 0.8431 3.5 0 0 0 -1.2500" result="m"/><feComposite in="m" in2="bg" operator="over"/></filter>
<clipPath id="cB13"><rect x="353.0" y="421.2" width="103.80" height="69.90"/></clipPath>
<clipPath id="cB13_3"><ellipse cx="386.7" cy="438.7" rx="33.7" ry="17.5"/></clipPath>
<clipPath id="cB13_4"><ellipse cx="386.7" cy="437.6" rx="28.5" ry="15.0"/></clipPath>
<clipPath id="cB13_5"><ellipse cx="369.6" cy="473.6" rx="16.6" ry="14.0"/></clipPath>
<filter id="fC00" x="31.9" y="530.8" width="103.90" height="68.40" filterUnits="userSpaceOnUse" primitiveUnits="userSpaceOnUse" color-interpolation-filters="sRGB"><feFlood flood-color="rgb(172, 177, 212)" result="bg"/><feTurbulence type="fractalNoise" baseFrequency="0.07" numOctaves="3" seed="10" result="nm"/><feColorMatrix in="nm" type="matrix" values="0 0 0 0 0.5882 0 0 0 0 0.6078 0 0 0 0 0.7647 3.5 0 0 0 -1.3500" result="m"/><feComposite in="m" in2="bg" operator="over"/></filter>
<clipPath id="cC00"><rect x="31.9" y="530.8" width="103.90" height="68.40"/></clipPath>
<filter id="fC01" x="138.9" y="530.8" width="103.80" height="68.40" filterUnits="userSpaceOnUse" primitiveUnits="userSpaceOnUse" color-interpolation-filters="sRGB"><feFlood flood-color="rgb(138, 152, 196)" result="bg"/><feTurbulence type="fractalNoise" baseFrequency="0.07" numOctaves="3" seed="11" result="nm"/><feColorMatrix in="nm" type="matrix" values="0 0 0 0 0.4627 0 0 0 0 0.5176 0 0 0 0 0.7255 3.5 0 0 0 -1.2500" result="m"/><feComposite in="m" in2="bg" operator="over"/></filter>
<clipPath id="cC01"><rect x="138.9" y="530.8" width="103.80" height="68.40"/></clipPath>
<filter id="fC02" x="245.9" y="530.8" width="103.70" height="68.40" filterUnits="userSpaceOnUse" primitiveUnits="userSpaceOnUse" color-interpolation-filters="sRGB"><feFlood flood-color="rgb(135, 145, 198)" result="bg"/><feTurbulence type="fractalNoise" baseFrequency="0.07" numOctaves="3" seed="12" result="nm"/><feColorMatrix in="nm" type="matrix" values="0 0 0 0 0.4706 0 0 0 0 0.4941 0 0 0 0 0.7255 3.5 0 0 0 -1.2500" result="m"/><feComposite in="m" in2="bg" operator="over"/></filter>
<clipPath id="cC02"><rect x="245.9" y="530.8" width="103.70" height="68.40"/></clipPath>
<filter id="fC03" x="353.0" y="530.8" width="103.80" height="68.40" filterUnits="userSpaceOnUse" primitiveUnits="userSpaceOnUse" color-interpolation-filters="sRGB"><feFlood flood-color="rgb(168, 176, 202)" result="bg"/><feTurbulence type="fractalNoise" baseFrequency="0.07" numOctaves="3" seed="13" result="nm"/><feColorMatrix in="nm" type="matrix" values="0 0 0 0 0.5961 0 0 0 0 0.6196 0 0 0 0 0.7373 3.5 0 0 0 -1.2500" result="m"/><feComposite in="m" in2="bg" operator="over"/></filter>
<clipPath id="cC03"><rect x="353.0" y="530.8" width="103.80" height="68.40"/></clipPath>
<filter id="fC10" x="31.9" y="602.7" width="103.90" height="67.60" filterUnits="userSpaceOnUse" primitiveUnits="userSpaceOnUse" color-interpolation-filters="sRGB"><feFlood flood-color="rgb(220, 192, 140)" result="bg"/><feTurbulence type="fractalNoise" baseFrequency="0.07" numOctaves="3" seed="14" result="nm"/><feColorMatrix in="nm" type="matrix" values="0 0 0 0 0.8039 0 0 0 0 0.6863 0 0 0 0 0.5020 3.5 0 0 0 -1.2500" result="m"/><feComposite in="m" in2="bg" operator="over"/></filter>
<clipPath id="cC10"><rect x="31.9" y="602.7" width="103.90" height="67.60"/></clipPath>
<filter id="fC11" x="138.9" y="602.7" width="103.80" height="67.60" filterUnits="userSpaceOnUse" primitiveUnits="userSpaceOnUse" color-interpolation-filters="sRGB"><feFlood flood-color="rgb(222, 186, 128)" result="bg"/><feTurbulence type="fractalNoise" baseFrequency="0.07" numOctaves="3" seed="15" result="nm"/><feColorMatrix in="nm" type="matrix" values="0 0 0 0 0.8039 0 0 0 0 0.6588 0 0 0 0 0.4627 3.5 0 0 0 -1.2500" result="m"/><feComposite in="m" in2="bg" operator="over"/></filter>
<clipPath id="cC11"><rect x="138.9" y="602.7" width="103.80" height="67.60"/></clipPath>
<filter id="fC12" x="245.9" y="602.7" width="103.70" height="67.60" filterUnits="userSpaceOnUse" primitiveUnits="userSpaceOnUse" color-interpolation-filters="sRGB"><feFlood flood-color="rgb(230, 228, 222)" result="bg"/><feTurbulence type="fractalNoise" baseFrequency="0.07" numOctaves="3" seed="16" result="nm"/><feColorMatrix in="nm" type="matrix" values="0 0 0 0 0.8431 0 0 0 0 0.8235 0 0 0 0 0.7843 3.5 0 0 0 -1.2500" result="m"/><feComposite in="m" in2="bg" operator="over"/></filter>
<clipPath id="cC12"><rect x="245.9" y="602.7" width="103.70" height="67.60"/></clipPath>
<filter id="fC13" x="353.0" y="602.7" width="103.80" height="67.60" filterUnits="userSpaceOnUse" primitiveUnits="userSpaceOnUse" color-interpolation-filters="sRGB"><feFlood flood-color="rgb(126, 134, 180)" result="bg"/><feTurbulence type="fractalNoise" baseFrequency="0.05" numOctaves="3" seed="17" result="nm"/><feColorMatrix in="nm" type="matrix" values="0 0 0 0 0.5882 0 0 0 0 0.5176 0 0 0 0 0.6078 3.5 0 0 0 -1.2000" result="m"/><feComposite in="m" in2="bg" operator="over"/></filter>
<clipPath id="cC13"><rect x="353.0" y="602.7" width="103.80" height="67.60"/></clipPath>
<filter id="fC20" x="31.9" y="673.5" width="103.90" height="67.60" filterUnits="userSpaceOnUse" primitiveUnits="userSpaceOnUse" color-interpolation-filters="sRGB"><feFlood flood-color="rgb(160, 174, 204)" result="bg"/><feTurbulence type="fractalNoise" baseFrequency="0.06" numOctaves="3" seed="18" result="nm"/><feColorMatrix in="nm" type="matrix" values="0 0 0 0 0.5412 0 0 0 0 0.5961 0 0 0 0 0.7529 3.5 0 0 0 -1.2500" result="m"/><feComposite in="m" in2="bg" operator="over"/></filter>
<clipPath id="cC20"><rect x="31.9" y="673.5" width="103.90" height="67.60"/></clipPath>
<filter id="fC21" x="138.9" y="673.5" width="103.80" height="67.60" filterUnits="userSpaceOnUse" primitiveUnits="userSpaceOnUse" color-interpolation-filters="sRGB"><feFlood flood-color="rgb(135, 152, 195)" result="bg"/><feTurbulence type="fractalNoise" baseFrequency="0.06" numOctaves="3" seed="19" result="nm"/><feColorMatrix in="nm" type="matrix" values="0 0 0 0 0.4510 0 0 0 0 0.5176 0 0 0 0 0.7137 3.5 0 0 0 -1.2500" result="m"/><feComposite in="m" in2="bg" operator="over"/></filter>
<clipPath id="cC21"><rect x="138.9" y="673.5" width="103.80" height="67.60"/></clipPath>
<filter id="fC22" x="245.9" y="673.5" width="103.70" height="67.60" filterUnits="userSpaceOnUse" primitiveUnits="userSpaceOnUse" color-interpolation-filters="sRGB"><feFlood flood-color="rgb(140, 156, 198)" result="bg"/><feTurbulence type="fractalNoise" baseFrequency="0.06" numOctaves="3" seed="20" result="nm"/><feColorMatrix in="nm" type="matrix" values="0 0 0 0 0.4706 0 0 0 0 0.5333 0 0 0 0 0.7294 3.5 0 0 0 -1.2500" result="m"/><feComposite in="m" in2="bg" operator="over"/></filter>
<clipPath id="cC22"><rect x="245.9" y="673.5" width="103.70" height="67.60"/></clipPath>
<filter id="fC23" x="353.0" y="673.5" width="103.80" height="67.60" filterUnits="userSpaceOnUse" primitiveUnits="userSpaceOnUse" color-interpolation-filters="sRGB"><feFlood flood-color="rgb(150, 162, 196)" result="bg"/><feTurbulence type="fractalNoise" baseFrequency="0.05" numOctaves="3" seed="21" result="nm"/><feColorMatrix in="nm" type="matrix" values="0 0 0 0 0.5882 0 0 0 0 0.5686 0 0 0 0 0.6471 3.5 0 0 0 -1.3000" result="m"/><feComposite in="m" in2="bg" operator="over"/></filter>
<clipPath id="cC23"><rect x="353.0" y="673.5" width="103.80" height="67.60"/></clipPath>
<filter id="soft" x="0" y="0" width="520" height="749" filterUnits="userSpaceOnUse"><feGaussianBlur stdDeviation="0.35"/></filter>
<filter id="soft2" x="0" y="0" width="520" height="749" filterUnits="userSpaceOnUse"><feGaussianBlur stdDeviation="0.22"/></filter>
</defs>
<rect x="0" y="0" width="520" height="749" fill="#fff"/>
<g clip-path="url(#cB00)" filter="url(#soft)"><rect x="31.9" y="348.7" width="103.90" height="69.90" filter="url(#fB00)"/><g fill="rgb(115, 50, 148)" fill-opacity="0.85"><use href="#ds" x="-5.5" y="304.2"/><use href="#ds" x="-5.5" y="364.2"/><use href="#ds" x="54.5" y="304.2"/><use href="#ds" x="54.5" y="364.2"/><use href="#ds" x="114.5" y="304.2"/><use href="#ds" x="114.5" y="364.2"/></g><g fill="rgb(140, 65, 165)" fill-opacity="0.6"><use href="#dxs" x="-15.8" y="292.2"/><use href="#dxs" x="-15.8" y="352.2"/><use href="#dxs" x="-15.8" y="412.2"/><use href="#dxs" x="44.2" y="292.2"/><use href="#dxs" x="44.2" y="352.2"/><use href="#dxs" x="44.2" y="412.2"/><use href="#dxs" x="104.2" y="292.2"/><use href="#dxs" x="104.2" y="352.2"/><use href="#dxs" x="104.2" y="412.2"/></g><g fill="rgb(228, 160, 222)" fill-opacity="0.6"><use href="#dsp" x="-12.5" y="293.4"/><use href="#dsp" x="-12.5" y="353.4"/><use href="#dsp" x="-12.5" y="413.4"/><use href="#dsp" x="47.5" y="293.4"/><use href="#dsp" x="47.5" y="353.4"/><use href="#dsp" x="47.5" y="413.4"/><use href="#dsp" x="107.5" y="293.4"/><use href="#dsp" x="107.5" y="353.4"/><use href="#dsp" x="107.5" y="413.4"/></g></g>
<g clip-path="url(#cB01)" filter="url(#soft)"><rect x="138.9" y="348.7" width="103.80" height="69.90" filter="url(#fB01)"/><g fill="rgb(100, 95, 112)" fill-opacity="0.6"><use href="#dxs" x="137.2" y="320.8"/><use href="#dxs" x="137.2" y="380.8"/><use href="#dxs" x="197.2" y="320.8"/><use href="#dxs" x="197.2" y="380.8"/></g><g fill="rgb(150, 146, 160)" fill-opacity="0.35"><use href="#ds" x="82.3" y="309.8"/><use href="#ds" x="82.3" y="369.8"/><use href="#ds" x="142.3" y="309.8"/><use href="#ds" x="142.3" y="369.8"/><use href="#ds" x="202.3" y="309.8"/><use href="#ds" x="202.3" y="369.8"/></g><g fill="rgb(25, 20, 25)" fill-opacity="0.9"><use href="#dl" x="84.8" y="341.9"/><use href="#dl" x="84.8" y="401.9"/><use href="#dl" x="144.8" y="341.9"/><use href="#dl" x="144.8" y="401.9"/><use href="#dl" x="204.8" y="341.9"/><use href="#dl" x="204.8" y="401.9"/></g></g>
<g clip-path="url(#cB02)" filter="url(#soft)"><rect x="245.9" y="348.7" width="103.70" height="69.90" filter="url(#fB02)"/><g fill="rgb(125, 128, 160)" fill-opacity="0.6"><use href="#dxs" x="217.8" y="333.9"/><use href="#dxs" x="217.8" y="393.9"/><use href="#dxs" x="277.8" y="333.9"/><use href="#dxs" x="277.8" y="393.9"/><use href="#dxs" x="337.8" y="333.9"/><use href="#dxs" x="337.8" y="393.9"/></g><g fill="rgb(178, 180, 205)" fill-opacity="0.45"><use href="#ds" x="213.3" y="314.3"/><use href="#ds" x="213.3" y="374.3"/><use href="#ds" x="273.3" y="314.3"/><use href="#ds" x="273.3" y="374.3"/><use href="#ds" x="333.3" y="314.3"/><use href="#ds" x="333.3" y="374.3"/></g></g>
<g clip-path="url(#cB03)" filter="url(#soft)"><rect x="353.0" y="348.7" width="103.80" height="69.90" filter="url(#fB03)"/><g fill="rgb(130, 133, 168)" fill-opacity="0.6"><use href="#dxs" x="352.2" y="335.7"/><use href="#dxs" x="352.2" y="395.7"/><use href="#dxs" x="412.2" y="335.7"/><use href="#dxs" x="412.2" y="395.7"/></g><g fill="rgb(180, 182, 208)" fill-opacity="0.45"><use href="#ds" x="336.2" y="293.7"/><use href="#ds" x="336.2" y="353.7"/><use href="#ds" x="336.2" y="413.7"/><use href="#ds" x="396.2" y="293.7"/><use href="#ds" x="396.2" y="353.7"/><use href="#ds" x="396.2" y="413.7"/><use href="#ds" x="456.2" y="293.7"/><use href="#ds" x="456.2" y="353.7"/><use href="#ds" x="456.2" y="413.7"/></g></g>
<g clip-path="url(#cB10)" filter="url(#soft)"><rect x="31.9" y="421.2" width="103.90" height="69.90" filter="url(#fB10)"/><g fill="rgb(82, 42, 125)" fill-opacity="0.88"><use href="#ds" x="-14.0" y="411.6"/><use href="#ds" x="-14.0" y="471.6"/><use href="#ds" x="46.0" y="411.6"/><use href="#ds" x="46.0" y="471.6"/><use href="#ds" x="106.0" y="411.6"/><use href="#ds" x="106.0" y="471.6"/></g><g fill="rgb(95, 50, 135)" fill-opacity="0.65"><use href="#dm" x="-15.9" y="412.9"/><use href="#dm" x="-15.9" y="472.9"/><use href="#dm" x="44.1" y="412.9"/><use href="#dm" x="44.1" y="472.9"/><use href="#dm" x="104.1" y="412.9"/><use href="#dm" x="104.1" y="472.9"/></g><g fill="rgb(120, 70, 150)" fill-opacity="0.4"><use href="#dxs" x="-5.1" y="413.6"/><use href="#dxs" x="-5.1" y="473.6"/><use href="#dxs" x="54.9" y="413.6"/><use href="#dxs" x="54.9" y="473.6"/><use href="#dxs" x="114.9" y="413.6"/><use href="#dxs" x="114.9" y="473.6"/></g></g>
<g clip-path="url(#cB11)" filter="url(#soft)"><rect x="138.9" y="421.2" width="103.80" height="69.90" filter="url(#fB11)"/><g fill="rgb(85, 58, 68)" fill-opacity="0.6"><use href="#dxs" x="138.8" y="368.9"/><use href="#dxs" x="138.8" y="428.9"/><use href="#dxs" x="138.8" y="488.9"/><use href="#dxs" x="198.8" y="368.9"/><use href="#dxs" x="198.8" y="428.9"/><use href="#dxs" x="198.8" y="488.9"/></g><g fill="rgb(72, 46, 56)" fill-opacity="0.5" clip-path="url(#cB11_1)"><use href="#ds" x="126.3" y="408.3"/><use href="#ds" x="126.3" y="468.3"/><use href="#ds" x="186.3" y="408.3"/><use href="#ds" x="186.3" y="468.3"/></g><g fill="rgb(72, 46, 56)" fill-opacity="0.45" clip-path="url(#cB11_2)"><use href="#ds" x="80.0" y="368.9"/><use href="#ds" x="80.0" y="428.9"/><use href="#ds" x="80.0" y="488.9"/><use href="#ds" x="140.0" y="368.9"/><use href="#ds" x="140.0" y="428.9"/><use href="#ds" x="140.0" y="488.9"/><use href="#ds" x="200.0" y="368.9"/><use href="#ds" x="200.0" y="428.9"/><use href="#ds" x="200.0" y="488.9"/></g><g fill="rgb(60, 38, 46)" fill-opacity="0.7" clip-path="url(#cB11_3)"><use href="#ds" x="121.5" y="363.5"/><use href="#ds" x="121.5" y="423.5"/><use href="#ds" x="121.5" y="483.5"/><use href="#ds" x="181.5" y="363.5"/><use href="#ds" x="181.5" y="423.5"/><use href="#ds" x="181.5" y="483.5"/><use href="#ds" x="241.5" y="363.5"/><use href="#ds" x="241.5" y="423.5"/><use href="#ds" x="241.5" y="483.5"/></g><g fill="rgb(55, 35, 42)" fill-opacity="0.35" clip-path="url(#cB11_4)"><use href="#dm" x="106.5" y="380.5"/><use href="#dm" x="106.5" y="440.5"/><use href="#dm" x="166.5" y="380.5"/><use href="#dm" x="166.5" y="440.5"/><use href="#dm" x="226.5" y="380.5"/><use href="#dm" x="226.5" y="440.5"/></g><g fill="rgb(35, 22, 28)" fill-opacity="0.7" clip-path="url(#cB11_5)"><use href="#dm" x="126.6" y="364.7"/><use href="#dm" x="126.6" y="424.7"/><use href="#dm" x="126.6" y="484.7"/><use href="#dm" x="186.6" y="364.7"/><use href="#dm" x="186.6" y="424.7"/><use href="#dm" x="186.6" y="484.7"/></g><g fill="rgb(30, 20, 25)" fill-opacity="1.0"><use href="#dl" x="97.5" y="363.2"/><use href="#dl" x="97.5" y="423.2"/><use href="#dl" x="97.5" y="483.2"/><use href="#dl" x="157.5" y="363.2"/><use href="#dl" x="157.5" y="423.2"/><use href="#dl" x="157.5" y="483.2"/><use href="#dl" x="217.5" y="363.2"/><use href="#dl" x="217.5" y="423.2"/><use href="#dl" x="217.5" y="483.2"/></g></g>
<g clip-path="url(#cB12)" filter="url(#soft)"><rect x="245.9" y="421.2" width="103.70" height="69.90" filter="url(#fB12)"/><g fill="rgb(150, 132, 145)" fill-opacity="0.6"><use href="#dxs" x="192.3" y="403.3"/><use href="#dxs" x="192.3" y="463.3"/><use href="#dxs" x="252.3" y="403.3"/><use href="#dxs" x="252.3" y="463.3"/><use href="#dxs" x="312.3" y="403.3"/><use href="#dxs" x="312.3" y="463.3"/></g><g fill="rgb(198, 180, 180)" fill-opacity="0.45"><use href="#ds" x="224.2" y="411.2"/><use href="#ds" x="224.2" y="471.2"/><use href="#ds" x="284.2" y="411.2"/><use href="#ds" x="284.2" y="471.2"/><use href="#ds" x="344.2" y="411.2"/><use href="#ds" x="344.2" y="471.2"/></g><g fill="rgb(90, 70, 110)" fill-opacity="0.55"><use href="#dsp" x="237.2" y="417.3"/><use href="#dsp" x="237.2" y="477.3"/><use href="#dsp" x="297.2" y="417.3"/><use href="#dsp" x="297.2" y="477.3"/></g></g>
<g clip-path="url(#cB13)" filter="url(#soft)"><rect x="353.0" y="421.2" width="103.80" height="69.90" filter="url(#fB13)"/><g fill="rgb(112, 108, 150)" fill-opacity="0.65"><use href="#dxs" x="334.9" y="385.0"/><use href="#dxs" x="334.9" y="445.0"/><use href="#dxs" x="394.9" y="385.0"/><use href="#dxs" x="394.9" y="445.0"/><use href="#dxs" x="454.9" y="385.0"/><use href="#dxs" x="454.9" y="445.0"/></g><g fill="rgb(160, 158, 190)" fill-opacity="0.45"><use href="#ds" x="352.8" y="380.5"/><use href="#ds" x="352.8" y="440.5"/><use href="#ds" x="412.8" y="380.5"/><use href="#ds" x="412.8" y="440.5"/></g><g fill="rgb(60, 45, 75)" fill-opacity="0.6"><use href="#dsp" x="332.7" y="402.6"/><use href="#dsp" x="332.7" y="462.6"/><use href="#dsp" x="392.7" y="402.6"/><use href="#dsp" x="392.7" y="462.6"/><use href="#dsp" x="452.7" y="402.6"/><use href="#dsp" x="452.7" y="462.6"/></g><g fill="rgb(80, 25, 40)" fill-opacity="0.9" clip-path="url(#cB13_3)"><use href="#dsp" x="303.9" y="392.4"/><use href="#dsp" x="303.9" y="452.4"/><use href="#dsp" x="363.9" y="392.4"/><use href="#dsp" x="363.9" y="452.4"/><use href="#dsp" x="423.9" y="392.4"/><use href="#dsp" x="423.9" y="452.4"/></g><g fill="rgb(70, 25, 40)" fill-opacity="0.8" clip-path="url(#cB13_4)"><use href="#dsp" x="334.1" y="392.3"/><use href="#dsp" x="334.1" y="452.3"/><use href="#dsp" x="394.1" y="392.3"/><use href="#dsp" x="394.1" y="452.3"/><use href="#dsp" x="454.1" y="392.3"/><use href="#dsp" x="454.1" y="452.3"/></g><g fill="rgb(80, 25, 40)" fill-opacity="0.85" clip-path="url(#cB13_5)"><use href="#dsp" x="310.7" y="417.8"/><use href="#dsp" x="310.7" y="477.8"/><use href="#dsp" x="370.7" y="417.8"/><use href="#dsp" x="370.7" y="477.8"/><use href="#dsp" x="430.7" y="417.8"/><use href="#dsp" x="430.7" y="477.8"/></g></g>
<g clip-path="url(#cC00)" filter="url(#soft)"><rect x="31.9" y="530.8" width="103.90" height="68.40" filter="url(#fC00)"/><g fill="rgb(102, 106, 154)" fill-opacity="0.85"><use href="#cp" x="-55.9" y="528.7"/><use href="#cp" x="34.1" y="528.7"/><use href="#cp" x="124.1" y="528.7"/></g><g fill="none" stroke="rgb(78, 82, 132)" stroke-opacity="0.55" stroke-width="0.6"><use href="#cp" x="-55.9" y="528.7"/><use href="#cp" x="34.1" y="528.7"/><use href="#cp" x="124.1" y="528.7"/></g><g fill="rgb(72, 76, 128)" fill-opacity="0.5"><use href="#cs" x="-13.1" y="480.1"/><use href="#cs" x="-13.1" y="540.1"/><use href="#cs" x="46.9" y="480.1"/><use href="#cs" x="46.9" y="540.1"/><use href="#cs" x="106.9" y="480.1"/><use href="#cs" x="106.9" y="540.1"/></g></g>
<g clip-path="url(#cC01)" filter="url(#soft)"><rect x="138.9" y="530.8" width="103.80" height="68.40" filter="url(#fC01)"/><g fill="rgb(110, 124, 180)" fill-opacity="0.55"><use href="#cq" x="137.3" y="459.9"/><use href="#cq" x="137.3" y="549.9"/><use href="#cq" x="227.3" y="459.9"/><use href="#cq" x="227.3" y="549.9"/></g><g fill="none" stroke="rgb(165, 178, 215)" stroke-opacity="0.35" stroke-width="0.6"><use href="#cq" x="137.3" y="459.9"/><use href="#cq" x="137.3" y="549.9"/><use href="#cq" x="227.3" y="459.9"/><use href="#cq" x="227.3" y="549.9"/></g><g fill="rgb(62, 74, 145)" fill-opacity="0.8"><use href="#cn" x="105.9" y="478.7"/><use href="#cn" x="105.9" y="568.7"/><use href="#cn" x="195.9" y="478.7"/><use href="#cn" x="195.9" y="568.7"/></g></g>
<g clip-path="url(#cC02)" filter="url(#soft)"><rect x="245.9" y="530.8" width="103.70" height="68.40" filter="url(#fC02)"/><g fill="rgb(175, 190, 225)" fill-opacity="0.3"><use href="#cq" x="245.1" y="526.6"/><use href="#cq" x="335.1" y="526.6"/></g><g fill="none" stroke="rgb(205, 218, 235)" stroke-opacity="0.45" stroke-width="0.8"><use href="#cq" x="245.1" y="526.6"/><use href="#cq" x="335.1" y="526.6"/></g><g fill="rgb(100, 90, 165)" fill-opacity="0.75"><use href="#cn" x="229.6" y="444.8"/><use href="#cn" x="229.6" y="534.8"/><use href="#cn" x="319.6" y="444.8"/><use href="#cn" x="319.6" y="534.8"/></g><g fill="rgb(205, 220, 232)" fill-opacity="0.5"><use href="#cs" x="234.1" y="485.5"/><use href="#cs" x="234.1" y="545.5"/><use href="#cs" x="294.1" y="485.5"/><use href="#cs" x="294.1" y="545.5"/></g></g>
<g clip-path="url(#cC03)" filter="url(#soft)"><rect x="353.0" y="530.8" width="103.80" height="68.40" filter="url(#fC03)"/><g fill="none" stroke="rgb(210, 216, 228)" stroke-opacity="0.3" stroke-width="0.8"><use href="#cc" x="297.2" y="474.3"/><use href="#cc" x="297.2" y="534.3"/><use href="#cc" x="297.2" y="594.3"/><use href="#cc" x="357.2" y="474.3"/><use href="#cc" x="357.2" y="534.3"/><use href="#cc" x="357.2" y="594.3"/><use href="#cc" x="417.2" y="474.3"/><use href="#cc" x="417.2" y="534.3"/><use href="#cc" x="417.2" y="594.3"/></g><g fill="rgb(115, 122, 165)" fill-opacity="0.6"><use href="#cn" x="322.0" y="498.9"/><use href="#cn" x="322.0" y="588.9"/><use href="#cn" x="412.0" y="498.9"/><use href="#cn" x="412.0" y="588.9"/></g><g fill="rgb(215, 220, 230)" fill-opacity="0.5"><use href="#cs" x="321.5" y="484.3"/><use href="#cs" x="321.5" y="544.3"/><use href="#cs" x="381.5" y="484.3"/><use href="#cs" x="381.5" y="544.3"/><use href="#cs" x="441.5" y="484.3"/><use href="#cs" x="441.5" y="544.3"/></g></g>
<g clip-path="url(#cC10)" filter="url(#soft)"><rect x="31.9" y="602.7" width="103.90" height="67.60" filter="url(#fC10)"/><g fill="rgb(200, 195, 220)" fill-opacity="0.45"><use href="#cq" x="22.2" y="535.3"/><use href="#cq" x="22.2" y="625.3"/><use href="#cq" x="112.2" y="535.3"/><use href="#cq" x="112.2" y="625.3"/></g><g fill="none" stroke="rgb(230, 225, 225)" stroke-opacity="0.35" stroke-width="0.7"><use href="#cq" x="22.2" y="535.3"/><use href="#cq" x="22.2" y="625.3"/><use href="#cq" x="112.2" y="535.3"/><use href="#cq" x="112.2" y="625.3"/></g><g fill="rgb(120, 120, 185)" fill-opacity="0.55"><use href="#cn" x="-39.9" y="525.3"/><use href="#cn" x="-39.9" y="615.3"/><use href="#cn" x="50.1" y="525.3"/><use href="#cn" x="50.1" y="615.3"/></g></g>
<g clip-path="url(#cC11)" filter="url(#soft)"><rect x="138.9" y="602.7" width="103.80" height="67.60" filter="url(#fC11)"/><g fill="rgb(205, 195, 205)" fill-opacity="0.3"><use href="#cq" x="135.6" y="517.6"/><use href="#cq" x="135.6" y="607.6"/><use href="#cq" x="225.6" y="517.6"/><use href="#cq" x="225.6" y="607.6"/></g><g fill="rgb(150, 140, 185)" fill-opacity="0.45"><use href="#cn" x="130.7" y="572.0"/><use href="#cn" x="130.7" y="662.0"/><use href="#cn" x="220.7" y="572.0"/><use href="#cn" x="220.7" y="662.0"/></g><g fill="rgb(238, 232, 228)" fill-opacity="0.45"><use href="#cs" x="102.3" y="547.6"/><use href="#cs" x="102.3" y="607.6"/><use href="#cs" x="102.3" y="667.6"/><use href="#cs" x="162.3" y="547.6"/><use href="#cs" x="162.3" y="607.6"/><use href="#cs" x="162.3" y="667.6"/><use href="#cs" x="222.3" y="547.6"/><use href="#cs" x="222.3" y="607.6"/><use href="#cs" x="222.3" y="667.6"/></g></g>
<g clip-path="url(#cC12)" filter="url(#soft)"><rect x="245.9" y="602.7" width="103.70" height="67.60" filter="url(#fC12)"/><g fill="none" stroke="rgb(170, 200, 228)" stroke-opacity="0.55" stroke-width="0.9"><use href="#cc" x="225.5" y="547.2"/><use href="#cc" x="225.5" y="607.2"/><use href="#cc" x="225.5" y="667.2"/><use href="#cc" x="285.5" y="547.2"/><use href="#cc" x="285.5" y="607.2"/><use href="#cc" x="285.5" y="667.2"/><use href="#cc" x="345.5" y="547.2"/><use href="#cc" x="345.5" y="607.2"/><use href="#cc" x="345.5" y="667.2"/></g><g fill="rgb(145, 182, 218)" fill-opacity="0.55"><use href="#cn" x="196.8" y="574.6"/><use href="#cn" x="196.8" y="664.6"/><use href="#cn" x="286.8" y="574.6"/><use href="#cn" x="286.8" y="664.6"/></g></g>
<g clip-path="url(#cC13)" filter="url(#soft)"><rect x="353.0" y="602.7" width="103.80" height="67.60" filter="url(#fC13)"/><g fill="rgb(112, 128, 182)" fill-opacity="0.45"><use href="#cq" x="324.5" y="586.7"/><use href="#cq" x="414.5" y="586.7"/></g><g fill="none" stroke="rgb(165, 178, 210)" stroke-opacity="0.35" stroke-width="0.7"><use href="#cq" x="324.5" y="586.7"/><use href="#cq" x="414.5" y="586.7"/></g><g fill="rgb(78, 95, 160)" fill-opacity="0.6"><use href="#cn" x="346.0" y="589.3"/><use href="#cn" x="436.0" y="589.3"/></g></g>
<g clip-path="url(#cC20)" filter="url(#soft)"><rect x="31.9" y="673.5" width="103.90" height="67.60" filter="url(#fC20)"/><g fill="rgb(135, 150, 195)" fill-opacity="0.45"><use href="#cq" x="-30.1" y="583.8"/><use href="#cq" x="-30.1" y="673.8"/><use href="#cq" x="59.9" y="583.8"/><use href="#cq" x="59.9" y="673.8"/></g><g fill="rgb(85, 102, 158)" fill-opacity="0.55"><use href="#cn" x="17.4" y="669.1"/><use href="#cn" x="107.4" y="669.1"/></g></g>
<g clip-path="url(#cC21)" filter="url(#soft)"><rect x="138.9" y="673.5" width="103.80" height="67.60" filter="url(#fC21)"/><g fill="rgb(108, 126, 180)" fill-opacity="0.5"><use href="#cq" x="50.1" y="625.5"/><use href="#cq" x="50.1" y="715.5"/><use href="#cq" x="140.1" y="625.5"/><use href="#cq" x="140.1" y="715.5"/><use href="#cq" x="230.1" y="625.5"/><use href="#cq" x="230.1" y="715.5"/></g><g fill="none" stroke="rgb(180, 195, 222)" stroke-opacity="0.35" stroke-width="0.7"><use href="#cq" x="50.1" y="625.5"/><use href="#cq" x="50.1" y="715.5"/><use href="#cq" x="140.1" y="625.5"/><use href="#cq" x="140.1" y="715.5"/><use href="#cq" x="230.1" y="625.5"/><use href="#cq" x="230.1" y="715.5"/></g><g fill="rgb(62, 82, 148)" fill-opacity="0.7"><use href="#cn" x="102.4" y="652.1"/><use href="#cn" x="192.4" y="652.1"/></g></g>
<g clip-path="url(#cC22)" filter="url(#soft)"><rect x="245.9" y="673.5" width="103.70" height="67.60" filter="url(#fC22)"/><g fill="rgb(115, 132, 185)" fill-opacity="0.45"><use href="#cq" x="192.4" y="599.1"/><use href="#cq" x="192.4" y="689.1"/><use href="#cq" x="282.4" y="599.1"/><use href="#cq" x="282.4" y="689.1"/></g><g fill="none" stroke="rgb(190, 205, 228)" stroke-opacity="0.4" stroke-width="0.8"><use href="#cq" x="192.4" y="599.1"/><use href="#cq" x="192.4" y="689.1"/><use href="#cq" x="282.4" y="599.1"/><use href="#cq" x="282.4" y="689.1"/></g><g fill="rgb(70, 90, 152)" fill-opacity="0.7"><use href="#cn" x="204.9" y="635.5"/><use href="#cn" x="204.9" y="725.5"/><use href="#cn" x="294.9" y="635.5"/><use href="#cn" x="294.9" y="725.5"/></g></g>
<g clip-path="url(#cC23)" filter="url(#soft)"><rect x="353.0" y="673.5" width="103.80" height="67.60" filter="url(#fC23)"/><g fill="rgb(128, 145, 190)" fill-opacity="0.4"><use href="#cq" x="348.0" y="591.1"/><use href="#cq" x="348.0" y="681.1"/><use href="#cq" x="438.0" y="591.1"/><use href="#cq" x="438.0" y="681.1"/></g><g fill="none" stroke="rgb(205, 215, 232)" stroke-opacity="0.45" stroke-width="0.8"><use href="#cq" x="348.0" y="591.1"/><use href="#cq" x="348.0" y="681.1"/><use href="#cq" x="438.0" y="591.1"/><use href="#cq" x="438.0" y="681.1"/></g><g fill="rgb(80, 100, 160)" fill-opacity="0.65"><use href="#cn" x="350.1" y="629.1"/><use href="#cn" x="350.1" y="719.1"/><use href="#cn" x="440.1" y="629.1"/><use href="#cn" x="440.1" y="719.1"/></g></g>
<g fill="#231f20" filter="url(#soft2)">
<text x="7.50" y="18.20" font-size="12.8" font-weight="bold" fill="#000">A</text>
<text x="7.60" y="331.30" font-size="12.8" font-weight="bold" fill="#000">B</text>
<text x="7.30" y="514.20" font-size="12.8" font-weight="bold" fill="#000">C</text>
<line x1="48.00" y1="26.00" x2="48.00" y2="155.25" stroke="#231f20" stroke-width="1.3"/>
<line x1="48.00" y1="154.80" x2="252.50" y2="154.80" stroke="#231f20" stroke-width="1.3"/>
<line x1="45.20" y1="154.80" x2="48.00" y2="154.80" stroke="#231f20" stroke-width="1.3"/>
<text x="41.00" y="157.00" font-size="7" text-anchor="end">0</text>
<line x1="45.20" y1="129.60" x2="48.00" y2="129.60" stroke="#231f20" stroke-width="1.3"/>
<text x="41.00" y="131.80" font-size="7" text-anchor="end">500</text>
<line x1="45.20" y1="104.40" x2="48.00" y2="104.40" stroke="#231f20" stroke-width="1.3"/>
<text x="41.00" y="106.60" font-size="7" text-anchor="end">1000</text>
<line x1="45.20" y1="79.20" x2="48.00" y2="79.20" stroke="#231f20" stroke-width="1.3"/>
<text x="41.00" y="81.40" font-size="7" text-anchor="end">1500</text>
<line x1="45.20" y1="54.00" x2="48.00" y2="54.00" stroke="#231f20" stroke-width="1.3"/>
<text x="41.00" y="56.20" font-size="7" text-anchor="end">2000</text>
<line x1="45.20" y1="28.80" x2="48.00" y2="28.80" stroke="#231f20" stroke-width="1.3"/>
<text x="41.00" y="31.00" font-size="7" text-anchor="end">2500</text>
<line x1="55.00" y1="154.80" x2="55.00" y2="157.80" stroke="#231f20" stroke-width="1.3"/>
<text x="55.00" y="168.00" font-size="7" text-anchor="middle">1</text>
<line x1="69.40" y1="154.80" x2="69.40" y2="157.80" stroke="#231f20" stroke-width="1.3"/>
<text x="69.40" y="168.00" font-size="7" text-anchor="middle">2</text>
<line x1="83.80" y1="154.80" x2="83.80" y2="157.80" stroke="#231f20" stroke-width="1.3"/>
<text x="83.80" y="168.00" font-size="7" text-anchor="middle">3</text>
<line x1="98.20" y1="154.80" x2="98.20" y2="157.80" stroke="#231f20" stroke-width="1.3"/>
<text x="98.20" y="168.00" font-size="7" text-anchor="middle">4</text>
<line x1="112.60" y1="154.80" x2="112.60" y2="157.80" stroke="#231f20" stroke-width="1.3"/>
<text x="112.60" y="168.00" font-size="7" text-anchor="middle">5</text>
<line x1="127.00" y1="154.80" x2="127.00" y2="157.80" stroke="#231f20" stroke-width="1.3"/>
<text x="127.00" y="168.00" font-size="7" text-anchor="middle">6</text>
<line x1="141.40" y1="154.80" x2="141.40" y2="157.80" stroke="#231f20" stroke-width="1.3"/>
<text x="141.40" y="168.00" font-size="7" text-anchor="middle">7</text>
<line x1="155.80" y1="154.80" x2="155.80" y2="157.80" stroke="#231f20" stroke-width="1.3"/>
<text x="155.80" y="168.00" font-size="7" text-anchor="middle">8</text>
<line x1="170.20" y1="154.80" x2="170.20" y2="157.80" stroke="#231f20" stroke-width="1.3"/>
<text x="170.20" y="168.00" font-size="7" text-anchor="middle">9</text>
<line x1="184.60" y1="154.80" x2="184.60" y2="157.80" stroke="#231f20" stroke-width="1.3"/>
<text x="184.60" y="168.00" font-size="7" text-anchor="middle">10</text>
<line x1="199.00" y1="154.80" x2="199.00" y2="157.80" stroke="#231f20" stroke-width="1.3"/>
<text x="199.00" y="168.00" font-size="7" text-anchor="middle">11</text>
<line x1="213.40" y1="154.80" x2="213.40" y2="157.80" stroke="#231f20" stroke-width="1.3"/>
<text x="213.40" y="168.00" font-size="7" text-anchor="middle">12</text>
<line x1="227.80" y1="154.80" x2="227.80" y2="157.80" stroke="#231f20" stroke-width="1.3"/>
<text x="227.80" y="168.00" font-size="7" text-anchor="middle">13</text>
<line x1="242.20" y1="154.80" x2="242.20" y2="157.80" stroke="#231f20" stroke-width="1.3"/>
<text x="242.20" y="168.00" font-size="7" text-anchor="middle">14</text>
<text x="250.90" y="168.00" font-size="7">day</text>
<line x1="249.40" y1="154.80" x2="249.40" y2="157.80" stroke="#231f20" stroke-width="1.3"/>
<text x="18.90" y="90.40" font-size="7" text-anchor="middle" textLength="58.80" lengthAdjust="spacingAndGlyphs" transform="rotate(-90 18.90 90.40)" stroke="#231f20" stroke-width="0.28">Tumor volume (mm<tspan font-size="4.5" dy="-2.5">3</tspan><tspan dy="2.5">)</tspan></text>
<line x1="69.40" y1="146.48" x2="69.40" y2="149.00" stroke="#231f20" stroke-width="1.15"/>
<line x1="67.20" y1="146.48" x2="71.60" y2="146.48" stroke="#231f20" stroke-width="1.1"/>
<line x1="67.40" y1="149.00" x2="71.40" y2="149.00" stroke="#231f20" stroke-width="1.1"/>
<line x1="83.80" y1="141.95" x2="83.80" y2="148.50" stroke="#231f20" stroke-width="1.15"/>
<line x1="81.60" y1="141.95" x2="86.00" y2="141.95" stroke="#231f20" stroke-width="1.1"/>
<line x1="81.80" y1="148.50" x2="85.80" y2="148.50" stroke="#231f20" stroke-width="1.1"/>
<line x1="98.20" y1="135.65" x2="98.20" y2="148.75" stroke="#231f20" stroke-width="1.15"/>
<line x1="96.00" y1="135.65" x2="100.40" y2="135.65" stroke="#231f20" stroke-width="1.1"/>
<line x1="96.20" y1="148.75" x2="100.20" y2="148.75" stroke="#231f20" stroke-width="1.1"/>
<line x1="96.20" y1="139.78" x2="100.20" y2="139.78" stroke="#231f20" stroke-width="1.1"/>
<line x1="112.60" y1="128.89" x2="112.60" y2="148.75" stroke="#231f20" stroke-width="1.15"/>
<line x1="110.40" y1="128.89" x2="114.80" y2="128.89" stroke="#231f20" stroke-width="1.1"/>
<line x1="110.60" y1="148.75" x2="114.60" y2="148.75" stroke="#231f20" stroke-width="1.1"/>
<line x1="127.00" y1="123.65" x2="127.00" y2="148.75" stroke="#231f20" stroke-width="1.15"/>
<line x1="124.80" y1="123.65" x2="129.20" y2="123.65" stroke="#231f20" stroke-width="1.1"/>
<line x1="125.00" y1="148.75" x2="129.00" y2="148.75" stroke="#231f20" stroke-width="1.1"/>
<line x1="125.00" y1="131.21" x2="129.00" y2="131.21" stroke="#231f20" stroke-width="1.1"/>
<line x1="141.40" y1="115.69" x2="141.40" y2="148.25" stroke="#231f20" stroke-width="1.15"/>
<line x1="139.20" y1="115.69" x2="143.60" y2="115.69" stroke="#231f20" stroke-width="1.1"/>
<line x1="139.40" y1="148.25" x2="143.40" y2="148.25" stroke="#231f20" stroke-width="1.1"/>
<line x1="139.40" y1="126.53" x2="143.40" y2="126.53" stroke="#231f20" stroke-width="1.1"/>
<line x1="155.80" y1="107.17" x2="155.80" y2="148.25" stroke="#231f20" stroke-width="1.15"/>
<line x1="153.60" y1="107.17" x2="158.00" y2="107.17" stroke="#231f20" stroke-width="1.1"/>
<line x1="153.80" y1="148.25" x2="157.80" y2="148.25" stroke="#231f20" stroke-width="1.1"/>
<line x1="153.80" y1="121.54" x2="157.80" y2="121.54" stroke="#231f20" stroke-width="1.1"/>
<line x1="170.20" y1="102.99" x2="170.20" y2="148.25" stroke="#231f20" stroke-width="1.15"/>
<line x1="168.00" y1="102.99" x2="172.40" y2="102.99" stroke="#231f20" stroke-width="1.1"/>
<line x1="168.20" y1="148.25" x2="172.20" y2="148.25" stroke="#231f20" stroke-width="1.1"/>
<line x1="168.20" y1="119.52" x2="172.20" y2="119.52" stroke="#231f20" stroke-width="1.1"/>
<line x1="184.60" y1="88.57" x2="184.60" y2="147.74" stroke="#231f20" stroke-width="1.15"/>
<line x1="182.40" y1="88.57" x2="186.80" y2="88.57" stroke="#231f20" stroke-width="1.1"/>
<line x1="182.60" y1="147.74" x2="186.60" y2="147.74" stroke="#231f20" stroke-width="1.1"/>
<line x1="182.60" y1="114.08" x2="186.60" y2="114.08" stroke="#231f20" stroke-width="1.1"/>
<line x1="199.00" y1="81.01" x2="199.00" y2="146.74" stroke="#231f20" stroke-width="1.15"/>
<line x1="196.80" y1="81.01" x2="201.20" y2="81.01" stroke="#231f20" stroke-width="1.1"/>
<line x1="197.00" y1="146.74" x2="201.00" y2="146.74" stroke="#231f20" stroke-width="1.1"/>
<line x1="197.00" y1="109.69" x2="201.00" y2="109.69" stroke="#231f20" stroke-width="1.1"/>
<line x1="213.40" y1="61.06" x2="213.40" y2="145.22" stroke="#231f20" stroke-width="1.15"/>
<line x1="211.20" y1="61.06" x2="215.60" y2="61.06" stroke="#231f20" stroke-width="1.1"/>
<line x1="211.40" y1="145.22" x2="215.40" y2="145.22" stroke="#231f20" stroke-width="1.1"/>
<line x1="211.40" y1="104.50" x2="215.40" y2="104.50" stroke="#231f20" stroke-width="1.1"/>
<line x1="227.80" y1="56.52" x2="227.80" y2="144.72" stroke="#231f20" stroke-width="1.15"/>
<line x1="225.60" y1="56.52" x2="230.00" y2="56.52" stroke="#231f20" stroke-width="1.1"/>
<line x1="225.80" y1="144.72" x2="229.80" y2="144.72" stroke="#231f20" stroke-width="1.1"/>
<line x1="225.80" y1="101.33" x2="229.80" y2="101.33" stroke="#231f20" stroke-width="1.1"/>
<line x1="242.20" y1="42.41" x2="242.20" y2="144.47" stroke="#231f20" stroke-width="1.15"/>
<line x1="240.00" y1="42.41" x2="244.40" y2="42.41" stroke="#231f20" stroke-width="1.1"/>
<line x1="240.20" y1="144.47" x2="244.20" y2="144.47" stroke="#231f20" stroke-width="1.1"/>
<line x1="240.20" y1="99.11" x2="244.20" y2="99.11" stroke="#231f20" stroke-width="1.1"/>
<line x1="240.20" y1="135.40" x2="244.20" y2="135.40" stroke="#231f20" stroke-width="1.1"/>
<polyline points="55.00,149.76 69.40,149.26 83.80,148.85 98.20,148.50 112.60,148.15 127.00,147.74 141.40,147.24 155.80,146.48 170.20,145.73 184.60,145.22 199.00,143.96 213.40,142.96 227.80,142.45 242.20,141.60" fill="none" stroke="#9d92cc" stroke-width="1.3" stroke-linejoin="round"/>
<polyline points="55.00,149.76 69.40,148.35 83.80,147.34 98.20,146.48 112.60,145.48 127.00,144.47 141.40,142.70 155.80,142.05 170.20,140.44 184.60,138.92 199.00,136.40 213.40,134.14 227.80,131.87 242.20,129.35" fill="none" stroke="#1b6e50" stroke-width="1.3" stroke-linejoin="round"/>
<polyline points="55.00,149.76 69.40,147.74 83.80,146.48 98.20,144.97 112.60,143.71 127.00,141.70 141.40,139.43 155.80,137.16 170.20,135.40 184.60,132.78 199.00,129.90 213.40,125.92 227.80,123.35 242.20,120.02" fill="none" stroke="#c8102e" stroke-width="1.3" stroke-linejoin="round"/>
<polyline points="55.00,149.76 69.40,147.24 83.80,145.48 98.20,140.69 112.60,137.66 127.00,134.64 141.40,128.59 155.80,123.70 170.20,120.02 184.60,110.45 199.00,105.21 213.40,94.22 227.80,85.40 242.20,73.66" fill="none" stroke="#3cb4e5" stroke-width="1.3" stroke-linejoin="round"/>
<rect x="53.80" y="148.76" width="2.4" height="2" fill="#231f20"/>
<line x1="52.40" y1="33.10" x2="71.40" y2="33.10" stroke="#3cb4e5" stroke-width="1.1"/>
<text x="74.20" y="35.60" font-size="7">Ctrl</text>
<text x="74.20" y="43.80" font-size="7">(n = 5)</text>
<line x1="97.50" y1="33.10" x2="115.90" y2="33.10" stroke="#c8102e" stroke-width="1.1"/>
<text x="119.00" y="35.60" font-size="7">Abx</text>
<text x="119.00" y="43.80" font-size="7">(n = 6)</text>
<line x1="143.00" y1="33.10" x2="161.00" y2="33.10" stroke="#1b6e50" stroke-width="1.1"/>
<text x="164.00" y="35.60" font-size="7">Pan</text>
<text x="164.00" y="43.80" font-size="7">(n = 6)</text>
<line x1="187.70" y1="33.10" x2="206.00" y2="33.10" stroke="#9d92cc" stroke-width="1.1"/>
<text x="209.20" y="35.60" font-size="7">Abx+Pan</text>
<text x="209.20" y="43.80" font-size="7">(n = 5)</text>
<text x="253.00" y="31.20" font-size="7" textLength="34.70" lengthAdjust="spacingAndGlyphs"><tspan font-size="5" dy="-1.3">*</tspan><tspan dy="1.3">1 </tspan><tspan font-style="italic">P</tspan> = .026</text>
<text x="253.00" y="40.70" font-size="7" textLength="34.70" lengthAdjust="spacingAndGlyphs"><tspan font-size="5" dy="-1.3">*</tspan><tspan dy="1.3">2 </tspan><tspan font-style="italic">P</tspan> = .050</text>
<text x="253.00" y="50.20" font-size="7" textLength="34.70" lengthAdjust="spacingAndGlyphs"><tspan font-size="5" dy="-1.3">*</tspan><tspan dy="1.3">3 </tspan><tspan font-style="italic">P</tspan> = .034</text>
<text x="253.00" y="59.70" font-size="7" textLength="34.70" lengthAdjust="spacingAndGlyphs"><tspan font-size="5" dy="-1.3">*</tspan><tspan dy="1.3">4 </tspan><tspan font-style="italic">P</tspan> = .094</text>
<text x="253.00" y="69.20" font-size="7" textLength="34.70" lengthAdjust="spacingAndGlyphs"><tspan font-size="5" dy="-1.3">*</tspan><tspan dy="1.3">5 </tspan><tspan font-style="italic">P</tspan> = .193</text>
<line x1="253.30" y1="71.50" x2="253.30" y2="117.00" stroke="#231f20" stroke-width="1.0"/>
<line x1="251.10" y1="71.50" x2="253.30" y2="71.50" stroke="#231f20" stroke-width="1.0"/>
<line x1="251.10" y1="117.00" x2="253.30" y2="117.00" stroke="#231f20" stroke-width="1.0"/>
<line x1="253.30" y1="120.00" x2="253.30" y2="142.00" stroke="#231f20" stroke-width="1.0"/>
<line x1="251.10" y1="120.00" x2="253.30" y2="120.00" stroke="#231f20" stroke-width="1.0"/>
<line x1="251.10" y1="142.00" x2="253.30" y2="142.00" stroke="#231f20" stroke-width="1.0"/>
<line x1="271.00" y1="71.50" x2="271.00" y2="141.50" stroke="#231f20" stroke-width="1.0"/>
<line x1="268.80" y1="71.50" x2="271.00" y2="71.50" stroke="#231f20" stroke-width="1.0"/>
<line x1="268.80" y1="141.50" x2="271.00" y2="141.50" stroke="#231f20" stroke-width="1.0"/>
<line x1="269.00" y1="128.40" x2="271.00" y2="128.40" stroke="#231f20" stroke-width="1.0"/>
<line x1="287.00" y1="71.50" x2="287.00" y2="140.50" stroke="#231f20" stroke-width="1.0"/>
<line x1="284.80" y1="71.50" x2="287.00" y2="71.50" stroke="#231f20" stroke-width="1.0"/>
<line x1="284.80" y1="140.50" x2="287.00" y2="140.50" stroke="#231f20" stroke-width="1.0"/>
<text x="257.00" y="96.50" font-size="7"><tspan font-size="5" dy="-1.3">*</tspan><tspan dy="1.3">4</tspan></text>
<text x="257.00" y="137.00" font-size="7"><tspan font-size="5" dy="-1.3">*</tspan><tspan dy="1.3">5</tspan></text>
<text x="274.00" y="97.50" font-size="7"><tspan font-size="5" dy="-1.3">*</tspan><tspan dy="1.3">2</tspan></text>
<text x="274.00" y="136.00" font-size="7"><tspan font-size="5" dy="-1.3">*</tspan><tspan dy="1.3">3</tspan></text>
<text x="290.50" y="108.50" font-size="7"><tspan font-size="5" dy="-1.3">*</tspan><tspan dy="1.3">1</tspan></text>
<line x1="337.50" y1="30.60" x2="337.50" y2="154.95" stroke="#231f20" stroke-width="1.3"/>
<line x1="337.50" y1="154.50" x2="512.00" y2="154.50" stroke="#231f20" stroke-width="1.3"/>
<line x1="334.70" y1="154.50" x2="337.50" y2="154.50" stroke="#231f20" stroke-width="1.3"/>
<text x="331.00" y="157.00" font-size="7" text-anchor="end">0</text>
<line x1="334.70" y1="134.34" x2="337.50" y2="134.34" stroke="#231f20" stroke-width="1.3"/>
<text x="331.00" y="136.84" font-size="7" text-anchor="end">0.5</text>
<line x1="334.70" y1="114.17" x2="337.50" y2="114.17" stroke="#231f20" stroke-width="1.3"/>
<text x="331.00" y="116.67" font-size="7" text-anchor="end">1</text>
<line x1="334.70" y1="94.00" x2="337.50" y2="94.00" stroke="#231f20" stroke-width="1.3"/>
<text x="331.00" y="96.50" font-size="7" text-anchor="end">1.5</text>
<line x1="334.70" y1="73.84" x2="337.50" y2="73.84" stroke="#231f20" stroke-width="1.3"/>
<text x="331.00" y="76.34" font-size="7" text-anchor="end">2</text>
<line x1="334.70" y1="53.68" x2="337.50" y2="53.68" stroke="#231f20" stroke-width="1.3"/>
<text x="331.00" y="56.18" font-size="7" text-anchor="end">2.5</text>
<line x1="334.70" y1="33.51" x2="337.50" y2="33.51" stroke="#231f20" stroke-width="1.3"/>
<text x="331.00" y="36.01" font-size="7" text-anchor="end">3</text>
<text x="313.70" y="92.20" font-size="7" text-anchor="middle" textLength="50.40" lengthAdjust="spacingAndGlyphs" transform="rotate(-90 313.70 92.20)" stroke="#231f20" stroke-width="0.28">Tumor weight (g)</text>
<rect x="350.15" y="90.78" width="11.70" height="63.72" fill="#29a8e0"/>
<line x1="356.00" y1="61.74" x2="356.00" y2="120.02" stroke="#231f20" stroke-width="1.15"/>
<line x1="353.90" y1="61.74" x2="358.10" y2="61.74" stroke="#231f20" stroke-width="1.15"/>
<line x1="353.90" y1="120.02" x2="358.10" y2="120.02" stroke="#231f20" stroke-width="1.15"/>
<line x1="356.00" y1="154.50" x2="356.00" y2="157.50" stroke="#231f20" stroke-width="1.3"/>
<text x="356.00" y="168.50" font-size="7" text-anchor="middle">Ctrl</text>
<rect x="387.15" y="100.05" width="11.70" height="54.45" fill="#c8102e"/>
<line x1="393.00" y1="61.74" x2="393.00" y2="138.37" stroke="#231f20" stroke-width="1.15"/>
<line x1="390.90" y1="61.74" x2="395.10" y2="61.74" stroke="#231f20" stroke-width="1.15"/>
<line x1="390.90" y1="138.37" x2="395.10" y2="138.37" stroke="#231f20" stroke-width="1.15"/>
<line x1="393.00" y1="154.50" x2="393.00" y2="157.50" stroke="#231f20" stroke-width="1.3"/>
<text x="393.00" y="168.50" font-size="7" text-anchor="middle">Abx</text>
<rect x="424.15" y="120.22" width="11.70" height="34.28" fill="#12694b"/>
<line x1="430.00" y1="104.09" x2="430.00" y2="135.95" stroke="#231f20" stroke-width="1.15"/>
<line x1="427.90" y1="104.09" x2="432.10" y2="104.09" stroke="#231f20" stroke-width="1.15"/>
<line x1="427.90" y1="135.95" x2="432.10" y2="135.95" stroke="#231f20" stroke-width="1.15"/>
<line x1="430.00" y1="154.50" x2="430.00" y2="157.50" stroke="#231f20" stroke-width="1.3"/>
<text x="430.00" y="168.50" font-size="7" text-anchor="middle">Pan</text>
<rect x="460.85" y="137.56" width="11.70" height="16.94" fill="#9b8fcf"/>
<line x1="466.70" y1="130.30" x2="466.70" y2="144.42" stroke="#231f20" stroke-width="1.15"/>
<line x1="464.60" y1="130.30" x2="468.80" y2="130.30" stroke="#231f20" stroke-width="1.15"/>
<line x1="464.60" y1="144.42" x2="468.80" y2="144.42" stroke="#231f20" stroke-width="1.15"/>
<line x1="466.70" y1="154.50" x2="466.70" y2="157.50" stroke="#231f20" stroke-width="1.3"/>
<text x="466.70" y="168.50" font-size="7" text-anchor="middle">Abx+Pan</text>
<line x1="357.50" y1="47.20" x2="470.40" y2="47.20" stroke="#231f20" stroke-width="1.0"/>
<line x1="357.50" y1="47.20" x2="357.50" y2="49.40" stroke="#231f20" stroke-width="1.0"/>
<line x1="470.40" y1="47.20" x2="470.40" y2="49.40" stroke="#231f20" stroke-width="1.0"/>
<text x="398.40" y="42.10" font-size="7" textLength="31.10" lengthAdjust="spacingAndGlyphs"><tspan font-style="italic">P</tspan> = .0085</text>
<line x1="429.50" y1="86.20" x2="468.50" y2="86.20" stroke="#231f20" stroke-width="1.0"/>
<line x1="429.50" y1="86.20" x2="429.50" y2="88.40" stroke="#231f20" stroke-width="1.0"/>
<line x1="468.50" y1="86.20" x2="468.50" y2="88.40" stroke="#231f20" stroke-width="1.0"/>
<text x="435.80" y="80.50" font-size="7" textLength="26.50" lengthAdjust="spacingAndGlyphs"><tspan font-style="italic">P</tspan> = .036</text>
<text x="359.90" y="73.90" font-size="7">mean =</text>
<text x="360.00" y="81.70" font-size="7">1.58g</text>
<text x="396.90" y="81.30" font-size="7">1.35g</text>
<text x="434.20" y="113.50" font-size="7">0.85g</text>
<text x="457.70" y="125.70" font-size="7">0.42g</text>
<line x1="48.20" y1="190.40" x2="48.20" y2="295.25" stroke="#231f20" stroke-width="1.3"/>
<line x1="48.20" y1="294.80" x2="219.30" y2="294.80" stroke="#231f20" stroke-width="1.3"/>
<line x1="45.40" y1="294.80" x2="48.20" y2="294.80" stroke="#231f20" stroke-width="1.3"/>
<text x="42.00" y="297.30" font-size="7" text-anchor="end">0</text>
<line x1="45.40" y1="277.85" x2="48.20" y2="277.85" stroke="#231f20" stroke-width="1.3"/>
<text x="42.00" y="280.35" font-size="7" text-anchor="end">0.1</text>
<line x1="45.40" y1="260.90" x2="48.20" y2="260.90" stroke="#231f20" stroke-width="1.3"/>
<text x="42.00" y="263.40" font-size="7" text-anchor="end">0.2</text>
<line x1="45.40" y1="243.95" x2="48.20" y2="243.95" stroke="#231f20" stroke-width="1.3"/>
<text x="42.00" y="246.45" font-size="7" text-anchor="end">0.3</text>
<line x1="45.40" y1="227.00" x2="48.20" y2="227.00" stroke="#231f20" stroke-width="1.3"/>
<text x="42.00" y="229.50" font-size="7" text-anchor="end">0.4</text>
<line x1="45.40" y1="210.05" x2="48.20" y2="210.05" stroke="#231f20" stroke-width="1.3"/>
<text x="42.00" y="212.55" font-size="7" text-anchor="end">0.5</text>
<line x1="45.40" y1="193.10" x2="48.20" y2="193.10" stroke="#231f20" stroke-width="1.3"/>
<text x="42.00" y="195.60" font-size="7" text-anchor="end">0.6</text>
<text x="24.70" y="242.30" font-size="7" text-anchor="middle" textLength="76.00" lengthAdjust="spacingAndGlyphs" transform="rotate(-90 24.70 242.30)" stroke="#231f20" stroke-width="0.28">Frequency of diarrhea/day</text>
<line x1="72.20" y1="294.80" x2="72.20" y2="297.80" stroke="#231f20" stroke-width="1.3"/>
<text x="72.20" y="308.00" font-size="7" text-anchor="middle">Ctrl</text>
<line x1="114.80" y1="294.80" x2="114.80" y2="297.80" stroke="#231f20" stroke-width="1.3"/>
<text x="114.80" y="308.00" font-size="7" text-anchor="middle">Abx</text>
<rect x="149.00" y="229.88" width="13.00" height="64.92" fill="#12694b"/>
<line x1="155.50" y1="213.44" x2="155.50" y2="245.14" stroke="#231f20" stroke-width="1.15"/>
<line x1="153.40" y1="213.44" x2="157.60" y2="213.44" stroke="#231f20" stroke-width="1.15"/>
<line x1="153.40" y1="245.14" x2="157.60" y2="245.14" stroke="#231f20" stroke-width="1.15"/>
<line x1="155.50" y1="294.80" x2="155.50" y2="297.80" stroke="#231f20" stroke-width="1.3"/>
<text x="155.50" y="308.00" font-size="7" text-anchor="middle">Pan</text>
<rect x="191.80" y="280.90" width="13.00" height="13.90" fill="#9b8fcf"/>
<line x1="198.30" y1="270.05" x2="198.30" y2="291.07" stroke="#231f20" stroke-width="1.15"/>
<line x1="196.20" y1="270.05" x2="200.40" y2="270.05" stroke="#231f20" stroke-width="1.15"/>
<line x1="196.20" y1="291.07" x2="200.40" y2="291.07" stroke="#231f20" stroke-width="1.15"/>
<line x1="198.30" y1="294.80" x2="198.30" y2="297.80" stroke="#231f20" stroke-width="1.3"/>
<text x="198.30" y="308.00" font-size="7" text-anchor="middle">Abx+Pan</text>
<line x1="67.60" y1="191.30" x2="198.30" y2="191.30" stroke="#231f20" stroke-width="1.0"/>
<line x1="67.60" y1="191.30" x2="67.60" y2="193.50" stroke="#231f20" stroke-width="1.0"/>
<line x1="198.30" y1="191.30" x2="198.30" y2="193.50" stroke="#231f20" stroke-width="1.0"/>
<text x="132.60" y="185.70" font-size="7" text-anchor="middle" textLength="26.40" lengthAdjust="spacingAndGlyphs"><tspan font-style="italic">P</tspan> = .041</text>
<line x1="68.00" y1="208.90" x2="154.20" y2="208.90" stroke="#231f20" stroke-width="1.0"/>
<line x1="68.00" y1="208.90" x2="68.00" y2="211.10" stroke="#231f20" stroke-width="1.0"/>
<line x1="154.20" y1="208.90" x2="154.20" y2="211.10" stroke="#231f20" stroke-width="1.0"/>
<line x1="156.80" y1="208.90" x2="198.30" y2="208.90" stroke="#231f20" stroke-width="1.0"/>
<line x1="156.80" y1="208.90" x2="156.80" y2="211.10" stroke="#231f20" stroke-width="1.0"/>
<line x1="198.30" y1="208.90" x2="198.30" y2="211.10" stroke="#231f20" stroke-width="1.0"/>
<text x="109.60" y="203.30" font-size="7" text-anchor="middle" textLength="34.60" lengthAdjust="spacingAndGlyphs"><tspan font-style="italic">P</tspan> = .000077</text>
<text x="177.70" y="202.70" font-size="7" text-anchor="middle" textLength="34.20" lengthAdjust="spacingAndGlyphs"><tspan font-style="italic">P</tspan> = .00011</text>
<text x="57.70" y="287.00" font-size="7" textLength="29.10" lengthAdjust="spacingAndGlyphs">mean = 0</text>
<text x="114.80" y="287.00" font-size="7" text-anchor="middle">0</text>
<text x="137.40" y="224.40" font-size="7" textLength="13.90" lengthAdjust="spacingAndGlyphs">0.39</text>
<text x="198.30" y="264.80" font-size="7" text-anchor="middle">0.082</text>
<line x1="258.30" y1="183.20" x2="258.30" y2="295.95" stroke="#231f20" stroke-width="1.3"/>
<line x1="258.30" y1="295.50" x2="477.30" y2="295.50" stroke="#231f20" stroke-width="1.3"/>
<line x1="258.30" y1="219.20" x2="474.00" y2="219.20" stroke="#231f20" stroke-width="1.3"/>
<line x1="255.50" y1="186.50" x2="258.30" y2="186.50" stroke="#231f20" stroke-width="1.3"/>
<text x="252.50" y="188.60" font-size="7" text-anchor="end">3</text>
<line x1="255.50" y1="197.40" x2="258.30" y2="197.40" stroke="#231f20" stroke-width="1.3"/>
<text x="252.50" y="199.50" font-size="7" text-anchor="end">2</text>
<line x1="255.50" y1="208.30" x2="258.30" y2="208.30" stroke="#231f20" stroke-width="1.3"/>
<text x="252.50" y="210.40" font-size="7" text-anchor="end">1</text>
<line x1="255.50" y1="219.20" x2="258.30" y2="219.20" stroke="#231f20" stroke-width="1.3"/>
<text x="252.50" y="221.30" font-size="7" text-anchor="end">0</text>
<line x1="255.50" y1="230.10" x2="258.30" y2="230.10" stroke="#231f20" stroke-width="1.3"/>
<text x="252.50" y="232.20" font-size="7" text-anchor="end">&#8722;1</text>
<line x1="255.50" y1="241.00" x2="258.30" y2="241.00" stroke="#231f20" stroke-width="1.3"/>
<text x="252.50" y="243.10" font-size="7" text-anchor="end">&#8722;2</text>
<line x1="255.50" y1="251.90" x2="258.30" y2="251.90" stroke="#231f20" stroke-width="1.3"/>
<text x="252.50" y="254.00" font-size="7" text-anchor="end">&#8722;3</text>
<line x1="255.50" y1="262.80" x2="258.30" y2="262.80" stroke="#231f20" stroke-width="1.3"/>
<text x="252.50" y="264.90" font-size="7" text-anchor="end">&#8722;4</text>
<line x1="255.50" y1="273.70" x2="258.30" y2="273.70" stroke="#231f20" stroke-width="1.3"/>
<text x="252.50" y="275.80" font-size="7" text-anchor="end">&#8722;5</text>
<line x1="255.50" y1="284.60" x2="258.30" y2="284.60" stroke="#231f20" stroke-width="1.3"/>
<text x="252.50" y="286.70" font-size="7" text-anchor="end">&#8722;6</text>
<line x1="255.50" y1="295.50" x2="258.30" y2="295.50" stroke="#231f20" stroke-width="1.3"/>
<text x="252.50" y="297.60" font-size="7" text-anchor="end">&#8722;7</text>
<line x1="266.00" y1="295.50" x2="266.00" y2="298.50" stroke="#231f20" stroke-width="1.3"/>
<text x="266.00" y="308.60" font-size="7" text-anchor="middle">1</text>
<line x1="281.40" y1="295.50" x2="281.40" y2="298.50" stroke="#231f20" stroke-width="1.3"/>
<text x="281.40" y="308.60" font-size="7" text-anchor="middle">2</text>
<line x1="296.80" y1="295.50" x2="296.80" y2="298.50" stroke="#231f20" stroke-width="1.3"/>
<text x="296.80" y="308.60" font-size="7" text-anchor="middle">3</text>
<line x1="312.20" y1="295.50" x2="312.20" y2="298.50" stroke="#231f20" stroke-width="1.3"/>
<text x="312.20" y="308.60" font-size="7" text-anchor="middle">4</text>
<line x1="327.60" y1="295.50" x2="327.60" y2="298.50" stroke="#231f20" stroke-width="1.3"/>
<text x="327.60" y="308.60" font-size="7" text-anchor="middle">5</text>
<line x1="343.00" y1="295.50" x2="343.00" y2="298.50" stroke="#231f20" stroke-width="1.3"/>
<text x="343.00" y="308.60" font-size="7" text-anchor="middle">6</text>
<line x1="358.40" y1="295.50" x2="358.40" y2="298.50" stroke="#231f20" stroke-width="1.3"/>
<text x="358.40" y="308.60" font-size="7" text-anchor="middle">7</text>
<line x1="373.80" y1="295.50" x2="373.80" y2="298.50" stroke="#231f20" stroke-width="1.3"/>
<text x="373.80" y="308.60" font-size="7" text-anchor="middle">8</text>
<line x1="389.20" y1="295.50" x2="389.20" y2="298.50" stroke="#231f20" stroke-width="1.3"/>
<text x="389.20" y="308.60" font-size="7" text-anchor="middle">9</text>
<line x1="404.60" y1="295.50" x2="404.60" y2="298.50" stroke="#231f20" stroke-width="1.3"/>
<text x="404.60" y="308.60" font-size="7" text-anchor="middle">10</text>
<line x1="420.00" y1="295.50" x2="420.00" y2="298.50" stroke="#231f20" stroke-width="1.3"/>
<text x="420.00" y="308.60" font-size="7" text-anchor="middle">11</text>
<line x1="435.40" y1="295.50" x2="435.40" y2="298.50" stroke="#231f20" stroke-width="1.3"/>
<text x="435.40" y="308.60" font-size="7" text-anchor="middle">12</text>
<line x1="450.80" y1="295.50" x2="450.80" y2="298.50" stroke="#231f20" stroke-width="1.3"/>
<text x="450.80" y="308.60" font-size="7" text-anchor="middle">13</text>
<line x1="466.20" y1="295.50" x2="466.20" y2="298.50" stroke="#231f20" stroke-width="1.3"/>
<text x="466.20" y="308.60" font-size="7" text-anchor="middle">14</text>
<text x="476.80" y="308.60" font-size="7">day</text>
<line x1="474.30" y1="295.50" x2="474.30" y2="298.50" stroke="#231f20" stroke-width="1.3"/>
<text x="235.80" y="239.30" font-size="7" text-anchor="middle" textLength="70.60" lengthAdjust="spacingAndGlyphs" transform="rotate(-90 235.80 239.30)" stroke="#231f20" stroke-width="0.28">Body weight change (g)</text>
<line x1="281.40" y1="211.20" x2="281.40" y2="244.20" stroke="#231f20" stroke-width="1.15"/>
<line x1="279.50" y1="211.20" x2="283.30" y2="211.20" stroke="#231f20" stroke-width="1.1"/>
<line x1="279.50" y1="216.50" x2="283.30" y2="216.50" stroke="#231f20" stroke-width="1.1"/>
<line x1="279.50" y1="230.40" x2="283.30" y2="230.40" stroke="#231f20" stroke-width="1.1"/>
<line x1="279.50" y1="238.80" x2="283.30" y2="238.80" stroke="#231f20" stroke-width="1.1"/>
<line x1="279.50" y1="244.20" x2="283.30" y2="244.20" stroke="#231f20" stroke-width="1.1"/>
<line x1="296.80" y1="211.90" x2="296.80" y2="252.70" stroke="#231f20" stroke-width="1.15"/>
<line x1="294.90" y1="211.90" x2="298.70" y2="211.90" stroke="#231f20" stroke-width="1.1"/>
<line x1="294.90" y1="214.20" x2="298.70" y2="214.20" stroke="#231f20" stroke-width="1.1"/>
<line x1="294.90" y1="227.30" x2="298.70" y2="227.30" stroke="#231f20" stroke-width="1.1"/>
<line x1="294.90" y1="243.50" x2="298.70" y2="243.50" stroke="#231f20" stroke-width="1.1"/>
<line x1="294.90" y1="252.70" x2="298.70" y2="252.70" stroke="#231f20" stroke-width="1.1"/>
<line x1="312.20" y1="214.70" x2="312.20" y2="258.80" stroke="#231f20" stroke-width="1.15"/>
<line x1="310.30" y1="214.70" x2="314.10" y2="214.70" stroke="#231f20" stroke-width="1.1"/>
<line x1="310.30" y1="228.10" x2="314.10" y2="228.10" stroke="#231f20" stroke-width="1.1"/>
<line x1="310.30" y1="230.40" x2="314.10" y2="230.40" stroke="#231f20" stroke-width="1.1"/>
<line x1="310.30" y1="232.70" x2="314.10" y2="232.70" stroke="#231f20" stroke-width="1.1"/>
<line x1="310.30" y1="256.50" x2="314.10" y2="256.50" stroke="#231f20" stroke-width="1.1"/>
<line x1="310.30" y1="258.80" x2="314.10" y2="258.80" stroke="#231f20" stroke-width="1.1"/>
<line x1="327.60" y1="210.40" x2="327.60" y2="257.30" stroke="#231f20" stroke-width="1.15"/>
<line x1="325.70" y1="210.40" x2="329.50" y2="210.40" stroke="#231f20" stroke-width="1.1"/>
<line x1="325.70" y1="211.20" x2="329.50" y2="211.20" stroke="#231f20" stroke-width="1.1"/>
<line x1="325.70" y1="228.50" x2="329.50" y2="228.50" stroke="#231f20" stroke-width="1.1"/>
<line x1="325.70" y1="231.90" x2="329.50" y2="231.90" stroke="#231f20" stroke-width="1.1"/>
<line x1="325.70" y1="252.70" x2="329.50" y2="252.70" stroke="#231f20" stroke-width="1.1"/>
<line x1="325.70" y1="257.30" x2="329.50" y2="257.30" stroke="#231f20" stroke-width="1.1"/>
<line x1="343.00" y1="206.10" x2="343.00" y2="266.10" stroke="#231f20" stroke-width="1.15"/>
<line x1="341.10" y1="206.10" x2="344.90" y2="206.10" stroke="#231f20" stroke-width="1.1"/>
<line x1="341.10" y1="223.50" x2="344.90" y2="223.50" stroke="#231f20" stroke-width="1.1"/>
<line x1="341.10" y1="225.00" x2="344.90" y2="225.00" stroke="#231f20" stroke-width="1.1"/>
<line x1="341.10" y1="238.80" x2="344.90" y2="238.80" stroke="#231f20" stroke-width="1.1"/>
<line x1="341.10" y1="255.80" x2="344.90" y2="255.80" stroke="#231f20" stroke-width="1.1"/>
<line x1="341.10" y1="266.10" x2="344.90" y2="266.10" stroke="#231f20" stroke-width="1.1"/>
<line x1="358.40" y1="208.40" x2="358.40" y2="258.80" stroke="#231f20" stroke-width="1.15"/>
<line x1="356.50" y1="208.40" x2="360.30" y2="208.40" stroke="#231f20" stroke-width="1.1"/>
<line x1="356.50" y1="209.20" x2="360.30" y2="209.20" stroke="#231f20" stroke-width="1.1"/>
<line x1="356.50" y1="221.20" x2="360.30" y2="221.20" stroke="#231f20" stroke-width="1.1"/>
<line x1="356.50" y1="234.20" x2="360.30" y2="234.20" stroke="#231f20" stroke-width="1.1"/>
<line x1="356.50" y1="245.80" x2="360.30" y2="245.80" stroke="#231f20" stroke-width="1.1"/>
<line x1="356.50" y1="254.20" x2="360.30" y2="254.20" stroke="#231f20" stroke-width="1.1"/>
<line x1="356.50" y1="258.80" x2="360.30" y2="258.80" stroke="#231f20" stroke-width="1.1"/>
<line x1="373.80" y1="197.30" x2="373.80" y2="252.40" stroke="#231f20" stroke-width="1.15"/>
<line x1="371.90" y1="197.30" x2="375.70" y2="197.30" stroke="#231f20" stroke-width="1.1"/>
<line x1="371.90" y1="205.00" x2="375.70" y2="205.00" stroke="#231f20" stroke-width="1.1"/>
<line x1="371.90" y1="220.40" x2="375.70" y2="220.40" stroke="#231f20" stroke-width="1.1"/>
<line x1="371.90" y1="225.80" x2="375.70" y2="225.80" stroke="#231f20" stroke-width="1.1"/>
<line x1="371.90" y1="252.40" x2="375.70" y2="252.40" stroke="#231f20" stroke-width="1.1"/>
<line x1="389.20" y1="203.50" x2="389.20" y2="277.00" stroke="#231f20" stroke-width="1.15"/>
<line x1="387.30" y1="203.50" x2="391.10" y2="203.50" stroke="#231f20" stroke-width="1.1"/>
<line x1="387.30" y1="209.60" x2="391.10" y2="209.60" stroke="#231f20" stroke-width="1.1"/>
<line x1="387.30" y1="228.80" x2="391.10" y2="228.80" stroke="#231f20" stroke-width="1.1"/>
<line x1="387.30" y1="245.00" x2="391.10" y2="245.00" stroke="#231f20" stroke-width="1.1"/>
<line x1="387.30" y1="252.70" x2="391.10" y2="252.70" stroke="#231f20" stroke-width="1.1"/>
<line x1="387.30" y1="277.00" x2="391.10" y2="277.00" stroke="#231f20" stroke-width="1.1"/>
<line x1="404.60" y1="203.20" x2="404.60" y2="262.70" stroke="#231f20" stroke-width="1.15"/>
<line x1="402.70" y1="203.20" x2="406.50" y2="203.20" stroke="#231f20" stroke-width="1.1"/>
<line x1="402.70" y1="205.00" x2="406.50" y2="205.00" stroke="#231f20" stroke-width="1.1"/>
<line x1="402.70" y1="221.90" x2="406.50" y2="221.90" stroke="#231f20" stroke-width="1.1"/>
<line x1="402.70" y1="225.00" x2="406.50" y2="225.00" stroke="#231f20" stroke-width="1.1"/>
<line x1="402.70" y1="235.80" x2="406.50" y2="235.80" stroke="#231f20" stroke-width="1.1"/>
<line x1="402.70" y1="247.30" x2="406.50" y2="247.30" stroke="#231f20" stroke-width="1.1"/>
<line x1="402.70" y1="262.70" x2="406.50" y2="262.70" stroke="#231f20" stroke-width="1.1"/>
<line x1="420.00" y1="199.20" x2="420.00" y2="223.50" stroke="#231f20" stroke-width="1.15"/>
<line x1="418.10" y1="199.20" x2="421.90" y2="199.20" stroke="#231f20" stroke-width="1.1"/>
<line x1="418.10" y1="207.80" x2="421.90" y2="207.80" stroke="#231f20" stroke-width="1.1"/>
<line x1="418.10" y1="223.00" x2="421.90" y2="223.00" stroke="#231f20" stroke-width="1.1"/>
<line x1="418.10" y1="223.80" x2="421.90" y2="223.80" stroke="#231f20" stroke-width="1.1"/>
<line x1="420.00" y1="231.20" x2="420.00" y2="278.50" stroke="#231f20" stroke-width="1.15"/>
<line x1="418.10" y1="231.20" x2="421.90" y2="231.20" stroke="#231f20" stroke-width="1.1"/>
<line x1="418.10" y1="252.70" x2="421.90" y2="252.70" stroke="#231f20" stroke-width="1.1"/>
<line x1="418.10" y1="260.40" x2="421.90" y2="260.40" stroke="#231f20" stroke-width="1.1"/>
<line x1="418.10" y1="278.50" x2="421.90" y2="278.50" stroke="#231f20" stroke-width="1.1"/>
<line x1="435.40" y1="195.80" x2="435.40" y2="217.60" stroke="#231f20" stroke-width="1.15"/>
<line x1="433.50" y1="195.80" x2="437.30" y2="195.80" stroke="#231f20" stroke-width="1.1"/>
<line x1="433.50" y1="197.30" x2="437.30" y2="197.30" stroke="#231f20" stroke-width="1.1"/>
<line x1="433.50" y1="198.50" x2="437.30" y2="198.50" stroke="#231f20" stroke-width="1.1"/>
<line x1="433.50" y1="217.60" x2="437.30" y2="217.60" stroke="#231f20" stroke-width="1.1"/>
<line x1="435.40" y1="229.30" x2="435.40" y2="269.30" stroke="#231f20" stroke-width="1.15"/>
<line x1="433.50" y1="229.30" x2="437.30" y2="229.30" stroke="#231f20" stroke-width="1.1"/>
<line x1="433.50" y1="247.30" x2="437.30" y2="247.30" stroke="#231f20" stroke-width="1.1"/>
<line x1="433.50" y1="269.30" x2="437.30" y2="269.30" stroke="#231f20" stroke-width="1.1"/>
<line x1="450.80" y1="192.70" x2="450.80" y2="220.00" stroke="#231f20" stroke-width="1.15"/>
<line x1="448.90" y1="192.70" x2="452.70" y2="192.70" stroke="#231f20" stroke-width="1.1"/>
<line x1="448.90" y1="201.90" x2="452.70" y2="201.90" stroke="#231f20" stroke-width="1.1"/>
<line x1="448.90" y1="219.60" x2="452.70" y2="219.60" stroke="#231f20" stroke-width="1.1"/>
<line x1="448.90" y1="220.40" x2="452.70" y2="220.40" stroke="#231f20" stroke-width="1.1"/>
<line x1="450.80" y1="229.60" x2="450.80" y2="286.30" stroke="#231f20" stroke-width="1.15"/>
<line x1="448.90" y1="229.60" x2="452.70" y2="229.60" stroke="#231f20" stroke-width="1.1"/>
<line x1="448.90" y1="253.50" x2="452.70" y2="253.50" stroke="#231f20" stroke-width="1.1"/>
<line x1="448.90" y1="255.00" x2="452.70" y2="255.00" stroke="#231f20" stroke-width="1.1"/>
<line x1="448.90" y1="286.30" x2="452.70" y2="286.30" stroke="#231f20" stroke-width="1.1"/>
<line x1="466.20" y1="189.30" x2="466.20" y2="216.80" stroke="#231f20" stroke-width="1.15"/>
<line x1="464.30" y1="189.30" x2="468.10" y2="189.30" stroke="#231f20" stroke-width="1.1"/>
<line x1="464.30" y1="202.20" x2="468.10" y2="202.20" stroke="#231f20" stroke-width="1.1"/>
<line x1="464.30" y1="216.80" x2="468.10" y2="216.80" stroke="#231f20" stroke-width="1.1"/>
<line x1="466.20" y1="232.70" x2="466.20" y2="273.90" stroke="#231f20" stroke-width="1.15"/>
<line x1="464.30" y1="232.70" x2="468.10" y2="232.70" stroke="#231f20" stroke-width="1.1"/>
<line x1="464.30" y1="244.20" x2="468.10" y2="244.20" stroke="#231f20" stroke-width="1.1"/>
<line x1="464.30" y1="246.50" x2="468.10" y2="246.50" stroke="#231f20" stroke-width="1.1"/>
<line x1="464.30" y1="273.90" x2="468.10" y2="273.90" stroke="#231f20" stroke-width="1.1"/>
<polyline points="266.00,219.20 281.40,229.01 296.80,235.00 312.20,236.64 327.60,236.09 343.00,239.36 358.40,238.27 373.80,236.42 389.20,241.00 404.60,235.88 420.00,245.69 435.40,237.73 450.80,241.65 466.20,241.00" fill="none" stroke="#9d92cc" stroke-width="1.3" stroke-linejoin="round"/>
<polyline points="266.00,219.20 281.40,236.64 296.80,235.00 312.20,245.36 327.60,242.63 343.00,252.44 358.40,247.54 373.80,239.91 389.20,261.16 404.60,248.96 420.00,266.07 435.40,254.30 450.80,270.76 466.20,260.07" fill="none" stroke="#1b6e50" stroke-width="1.3" stroke-linejoin="round"/>
<polyline points="266.00,219.20 281.40,228.25 296.80,220.29 312.20,222.47 327.60,220.29 343.00,219.74 358.40,217.35 373.80,215.71 389.20,218.11 404.60,214.62 420.00,215.06 435.40,208.30 450.80,210.48 466.20,209.94" fill="none" stroke="#c8102e" stroke-width="1.3" stroke-linejoin="round"/>
<polyline points="266.00,219.20 281.40,219.20 296.80,219.20 312.20,218.66 327.60,218.66 343.00,217.02 358.40,213.75 373.80,209.72 389.20,215.38 404.60,212.66 420.00,212.01 435.40,206.99 450.80,206.56 466.20,202.85" fill="none" stroke="#3cb4e5" stroke-width="1.3" stroke-linejoin="round"/>
<line x1="266.00" y1="190.40" x2="284.80" y2="190.40" stroke="#3cb4e5" stroke-width="1.0"/>
<text x="287.70" y="192.90" font-size="7">Ctrl</text>
<line x1="305.60" y1="190.40" x2="320.90" y2="190.40" stroke="#c8102e" stroke-width="1.0"/>
<text x="325.20" y="192.90" font-size="7">Abx</text>
<line x1="345.40" y1="190.40" x2="361.20" y2="190.40" stroke="#1b6e50" stroke-width="1.0"/>
<text x="365.60" y="192.90" font-size="7">Pan</text>
<line x1="384.40" y1="190.40" x2="401.70" y2="190.40" stroke="#9d92cc" stroke-width="1.0"/>
<text x="406.00" y="192.90" font-size="7">Abx+Pan</text>
<text x="424.00" y="239.60" font-size="7"><tspan font-size="5" dy="-1.3">*</tspan><tspan dy="1.3">1</tspan></text>
<text x="455.30" y="240.00" font-size="7"><tspan font-size="5" dy="-1.3">*</tspan><tspan dy="1.3">2</tspan></text>
<text x="424.30" y="272.00" font-size="7"><tspan font-size="5" dy="-1.3">*</tspan><tspan dy="1.3">1</tspan></text>
<text x="454.50" y="279.00" font-size="7"><tspan font-size="5" dy="-1.3">*</tspan><tspan dy="1.3">2</tspan></text>
<text x="269.80" y="280.00" font-size="7" textLength="95.80" lengthAdjust="spacingAndGlyphs"><tspan font-size="5" dy="-1.3">*</tspan><tspan dy="1.3">1 </tspan><tspan font-style="italic">P</tspan> = .057(&#8722;2.66g vs &#8722;4.28g)</text>
<text x="269.80" y="289.20" font-size="7" textLength="96.20" lengthAdjust="spacingAndGlyphs"><tspan font-size="5" dy="-1.3">*</tspan><tspan dy="1.3">2 </tspan><tspan font-style="italic">P</tspan> = .016 (&#8722;2.28g vs &#8722;4.75g)</text>
<text x="83.85" y="344.00" font-size="7" text-anchor="middle">H&amp;E</text>
<text x="190.90" y="344.00" font-size="7" text-anchor="middle" textLength="55.40" lengthAdjust="spacingAndGlyphs">cleaved-caspase-3</text>
<text x="297.75" y="344.00" font-size="7" text-anchor="middle">LC3B</text>
<text x="404.90" y="344.00" font-size="7" text-anchor="middle">cPARP</text>
<text x="83.85" y="526.20" font-size="7" text-anchor="middle">Ctrl</text>
<text x="190.80" y="526.20" font-size="7" text-anchor="middle">Abx</text>
<text x="297.75" y="526.20" font-size="7" text-anchor="middle">Pan</text>
<text x="404.90" y="526.20" font-size="7" text-anchor="middle">Abx+Pan</text>
<text x="28.60" y="386.30" font-size="7" text-anchor="end">Ctrl</text>
<text x="28.60" y="453.70" font-size="7" text-anchor="end">Abx-</text>
<text x="28.60" y="463.10" font-size="7" text-anchor="end">treated</text>
<text x="28.30" y="568.10" font-size="7" text-anchor="end">H&amp;E</text>
<text x="28.30" y="639.90" font-size="7" text-anchor="end">p62</text>
<text x="28.30" y="710.40" font-size="7" text-anchor="end">LC3B</text>
</g>
<rect x="0.5" y="0.5" width="519" height="748" fill="none" stroke="#555" stroke-width="1"/>
</svg>
</body></html>
